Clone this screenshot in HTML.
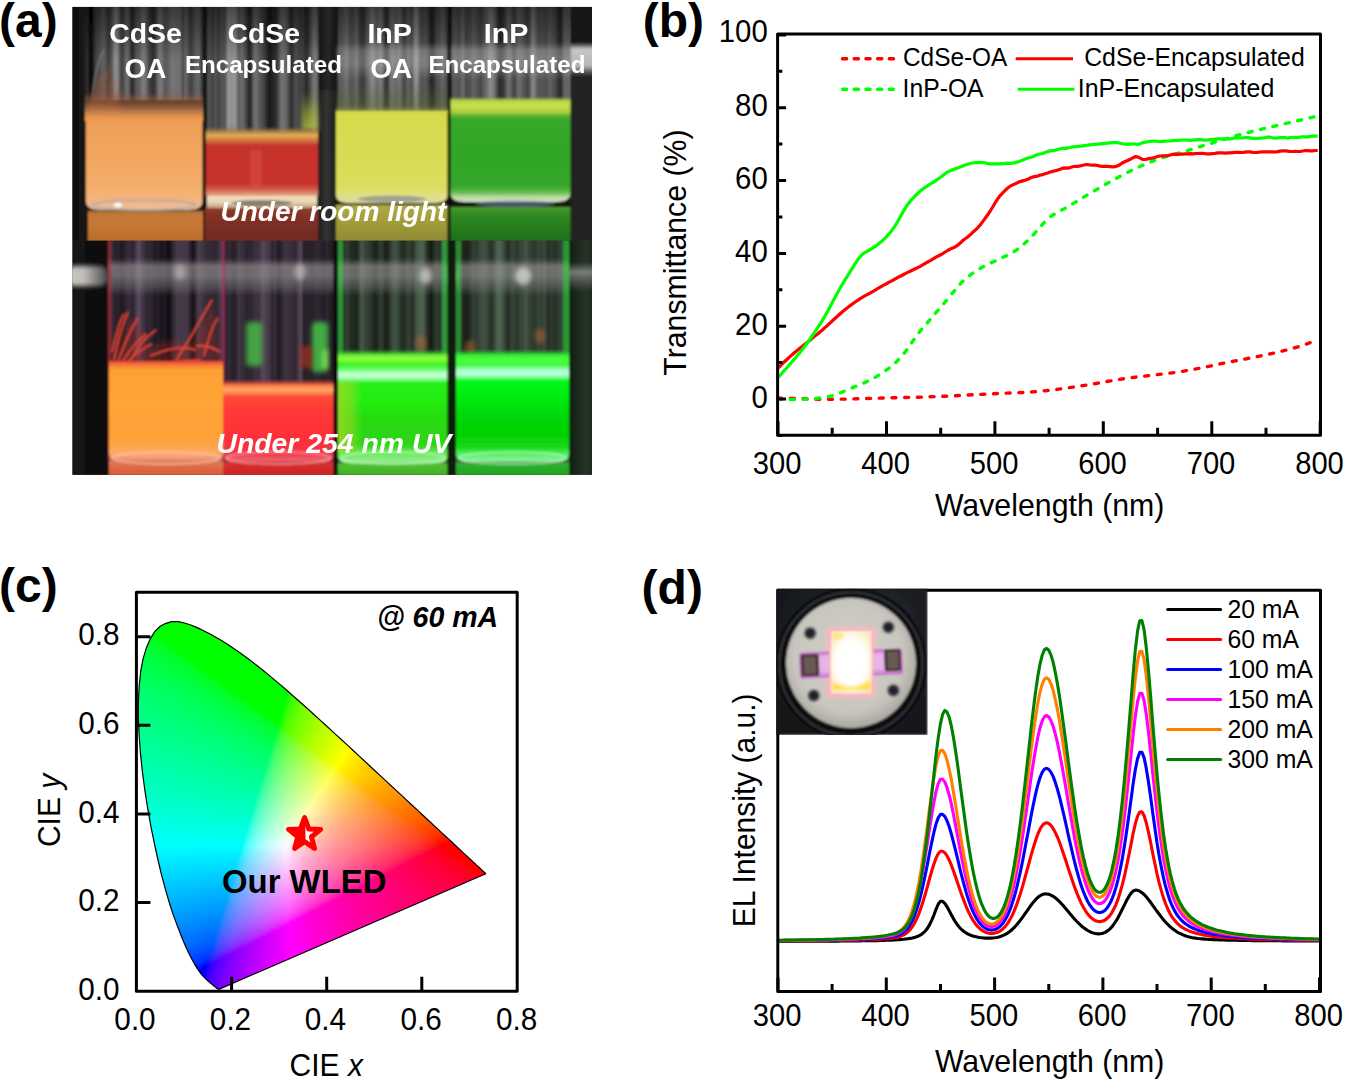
<!DOCTYPE html>
<html><head><meta charset="utf-8"><title>Figure</title>
<style>html,body{margin:0;padding:0;background:#fff;}body{width:1345px;height:1080px;overflow:hidden;font-family:"Liberation Sans",sans-serif;}svg{display:block;}</style>
</head><body>
<svg width="1345" height="1080" viewBox="0 0 1345 1080">
<defs><linearGradient id="c0" gradientUnits="userSpaceOnUse" x1="137" x2="487"><stop offset="0.000" stop-color="#00ff08"/><stop offset="0.006" stop-color="#00ff00"/><stop offset="0.494" stop-color="#00ff00"/><stop offset="0.500" stop-color="#1dff00"/><stop offset="0.509" stop-color="#32ff00"/><stop offset="0.540" stop-color="#5cff00"/><stop offset="0.594" stop-color="#87ff00"/><stop offset="0.677" stop-color="#b7ff00"/><stop offset="0.837" stop-color="#feff00"/><stop offset="1.000" stop-color="#ffcb00"/></linearGradient>
<linearGradient id="c1" gradientUnits="userSpaceOnUse" x1="137" x2="487"><stop offset="0.000" stop-color="#00ff16"/><stop offset="0.017" stop-color="#00ff00"/><stop offset="0.491" stop-color="#00ff00"/><stop offset="0.497" stop-color="#1dff00"/><stop offset="0.506" stop-color="#32ff00"/><stop offset="0.540" stop-color="#5fff00"/><stop offset="0.597" stop-color="#8bff00"/><stop offset="0.680" stop-color="#baff00"/><stop offset="0.834" stop-color="#fffe00"/><stop offset="1.000" stop-color="#ffc900"/></linearGradient>
<linearGradient id="c2" gradientUnits="userSpaceOnUse" x1="137" x2="487"><stop offset="0.000" stop-color="#00ff1f"/><stop offset="0.029" stop-color="#00ff00"/><stop offset="0.489" stop-color="#00ff00"/><stop offset="0.494" stop-color="#1cff00"/><stop offset="0.503" stop-color="#32ff00"/><stop offset="0.537" stop-color="#5fff00"/><stop offset="0.597" stop-color="#8eff00"/><stop offset="0.683" stop-color="#beff00"/><stop offset="0.829" stop-color="#ffff00"/><stop offset="1.000" stop-color="#ffc700"/></linearGradient>
<linearGradient id="c3" gradientUnits="userSpaceOnUse" x1="137" x2="487"><stop offset="0.000" stop-color="#00ff26"/><stop offset="0.023" stop-color="#00ff17"/><stop offset="0.043" stop-color="#00ff00"/><stop offset="0.486" stop-color="#00ff00"/><stop offset="0.494" stop-color="#24ff00"/><stop offset="0.503" stop-color="#37ff00"/><stop offset="0.537" stop-color="#62ff00"/><stop offset="0.597" stop-color="#90ff00"/><stop offset="0.686" stop-color="#c1ff00"/><stop offset="0.823" stop-color="#ffff00"/><stop offset="1.000" stop-color="#ffc500"/></linearGradient>
<linearGradient id="c4" gradientUnits="userSpaceOnUse" x1="137" x2="487"><stop offset="0.000" stop-color="#00ff2c"/><stop offset="0.031" stop-color="#00ff19"/><stop offset="0.054" stop-color="#00ff00"/><stop offset="0.483" stop-color="#00ff00"/><stop offset="0.491" stop-color="#23ff00"/><stop offset="0.500" stop-color="#37ff00"/><stop offset="0.537" stop-color="#65ff00"/><stop offset="0.600" stop-color="#94ff00"/><stop offset="0.691" stop-color="#c6ff00"/><stop offset="0.817" stop-color="#ffff00"/><stop offset="1.000" stop-color="#ffc300"/></linearGradient>
<linearGradient id="c5" gradientUnits="userSpaceOnUse" x1="137" x2="487"><stop offset="0.000" stop-color="#00ff31"/><stop offset="0.040" stop-color="#00ff1c"/><stop offset="0.066" stop-color="#00ff00"/><stop offset="0.480" stop-color="#00ff00"/><stop offset="0.489" stop-color="#22ff00"/><stop offset="0.497" stop-color="#36ff00"/><stop offset="0.534" stop-color="#65ff00"/><stop offset="0.600" stop-color="#96ff00"/><stop offset="0.694" stop-color="#caff00"/><stop offset="0.811" stop-color="#ffff00"/><stop offset="1.000" stop-color="#ffc100"/></linearGradient>
<linearGradient id="c6" gradientUnits="userSpaceOnUse" x1="137" x2="487"><stop offset="0.000" stop-color="#00ff36"/><stop offset="0.049" stop-color="#00ff1e"/><stop offset="0.077" stop-color="#00ff00"/><stop offset="0.477" stop-color="#00ff00"/><stop offset="0.486" stop-color="#22ff00"/><stop offset="0.494" stop-color="#36ff00"/><stop offset="0.534" stop-color="#68ff00"/><stop offset="0.600" stop-color="#99ff00"/><stop offset="0.700" stop-color="#cfff00"/><stop offset="0.806" stop-color="#ffff00"/><stop offset="1.000" stop-color="#ffc000"/></linearGradient>
<linearGradient id="c7" gradientUnits="userSpaceOnUse" x1="137" x2="487"><stop offset="0.000" stop-color="#00ff3a"/><stop offset="0.057" stop-color="#00ff21"/><stop offset="0.089" stop-color="#00ff00"/><stop offset="0.474" stop-color="#00ff00"/><stop offset="0.477" stop-color="#04ff00"/><stop offset="0.483" stop-color="#21ff00"/><stop offset="0.494" stop-color="#3bff00"/><stop offset="0.531" stop-color="#68ff00"/><stop offset="0.600" stop-color="#9bff00"/><stop offset="0.703" stop-color="#d2ff00"/><stop offset="0.800" stop-color="#ffff00"/><stop offset="1.000" stop-color="#ffbe00"/></linearGradient>
<linearGradient id="c8" gradientUnits="userSpaceOnUse" x1="137" x2="487"><stop offset="0.000" stop-color="#00ff3f"/><stop offset="0.066" stop-color="#00ff23"/><stop offset="0.100" stop-color="#00ff00"/><stop offset="0.471" stop-color="#00ff00"/><stop offset="0.474" stop-color="#02ff00"/><stop offset="0.480" stop-color="#20ff00"/><stop offset="0.491" stop-color="#3bff00"/><stop offset="0.531" stop-color="#6bff00"/><stop offset="0.603" stop-color="#9fff00"/><stop offset="0.709" stop-color="#d8ff00"/><stop offset="0.794" stop-color="#ffff00"/><stop offset="1.000" stop-color="#ffbc00"/></linearGradient>
<linearGradient id="c9" gradientUnits="userSpaceOnUse" x1="137" x2="487"><stop offset="0.000" stop-color="#00ff43"/><stop offset="0.074" stop-color="#00ff25"/><stop offset="0.094" stop-color="#00ff16"/><stop offset="0.111" stop-color="#00ff00"/><stop offset="0.471" stop-color="#00ff00"/><stop offset="0.477" stop-color="#1fff00"/><stop offset="0.489" stop-color="#3aff00"/><stop offset="0.529" stop-color="#6bff00"/><stop offset="0.600" stop-color="#a0ff00"/><stop offset="0.711" stop-color="#dbff00"/><stop offset="0.789" stop-color="#ffff00"/><stop offset="0.883" stop-color="#ffdb00"/><stop offset="1.000" stop-color="#ffba00"/></linearGradient>
<linearGradient id="c10" gradientUnits="userSpaceOnUse" x1="137" x2="487"><stop offset="0.000" stop-color="#00ff46"/><stop offset="0.083" stop-color="#00ff27"/><stop offset="0.106" stop-color="#00ff17"/><stop offset="0.123" stop-color="#00ff00"/><stop offset="0.469" stop-color="#00ff00"/><stop offset="0.474" stop-color="#1fff00"/><stop offset="0.486" stop-color="#3aff00"/><stop offset="0.529" stop-color="#6eff00"/><stop offset="0.606" stop-color="#a5ff00"/><stop offset="0.720" stop-color="#e2ff00"/><stop offset="0.783" stop-color="#ffff00"/><stop offset="0.880" stop-color="#ffda00"/><stop offset="1.000" stop-color="#ffb800"/></linearGradient>
<linearGradient id="c11" gradientUnits="userSpaceOnUse" x1="137" x2="487"><stop offset="0.000" stop-color="#00ff4a"/><stop offset="0.091" stop-color="#00ff29"/><stop offset="0.117" stop-color="#00ff17"/><stop offset="0.134" stop-color="#00ff00"/><stop offset="0.466" stop-color="#00ff00"/><stop offset="0.471" stop-color="#1eff00"/><stop offset="0.483" stop-color="#3aff00"/><stop offset="0.529" stop-color="#71ff00"/><stop offset="0.609" stop-color="#a9ff00"/><stop offset="0.729" stop-color="#e8ff00"/><stop offset="0.777" stop-color="#ffff00"/><stop offset="0.877" stop-color="#ffd900"/><stop offset="1.000" stop-color="#ffb600"/></linearGradient>
<linearGradient id="c12" gradientUnits="userSpaceOnUse" x1="137" x2="487"><stop offset="0.000" stop-color="#00ff4d"/><stop offset="0.100" stop-color="#00ff2b"/><stop offset="0.129" stop-color="#00ff17"/><stop offset="0.146" stop-color="#00ff00"/><stop offset="0.463" stop-color="#00ff00"/><stop offset="0.471" stop-color="#26ff00"/><stop offset="0.483" stop-color="#3fff00"/><stop offset="0.529" stop-color="#74ff00"/><stop offset="0.611" stop-color="#adff00"/><stop offset="0.737" stop-color="#efff00"/><stop offset="0.774" stop-color="#fffe00"/><stop offset="0.874" stop-color="#ffd700"/><stop offset="1.000" stop-color="#ffb500"/></linearGradient>
<linearGradient id="c13" gradientUnits="userSpaceOnUse" x1="137" x2="487"><stop offset="0.000" stop-color="#00ff51"/><stop offset="0.109" stop-color="#00ff2d"/><stop offset="0.137" stop-color="#00ff1a"/><stop offset="0.157" stop-color="#00ff00"/><stop offset="0.460" stop-color="#00ff00"/><stop offset="0.469" stop-color="#25ff00"/><stop offset="0.480" stop-color="#3eff00"/><stop offset="0.529" stop-color="#76ff00"/><stop offset="0.614" stop-color="#b1ff00"/><stop offset="0.751" stop-color="#f8ff00"/><stop offset="0.769" stop-color="#fffe00"/><stop offset="0.871" stop-color="#ffd600"/><stop offset="1.000" stop-color="#ffb300"/></linearGradient>
<linearGradient id="c14" gradientUnits="userSpaceOnUse" x1="137" x2="487"><stop offset="0.000" stop-color="#00ff54"/><stop offset="0.117" stop-color="#00ff2f"/><stop offset="0.149" stop-color="#00ff1b"/><stop offset="0.169" stop-color="#00ff00"/><stop offset="0.457" stop-color="#00ff00"/><stop offset="0.466" stop-color="#25ff00"/><stop offset="0.477" stop-color="#3eff00"/><stop offset="0.497" stop-color="#5aff00"/><stop offset="0.529" stop-color="#79ff00"/><stop offset="0.617" stop-color="#b5ff00"/><stop offset="0.760" stop-color="#ffff00"/><stop offset="0.866" stop-color="#ffd600"/><stop offset="1.000" stop-color="#ffb100"/></linearGradient>
<linearGradient id="c15" gradientUnits="userSpaceOnUse" x1="137" x2="487"><stop offset="0.000" stop-color="#00ff57"/><stop offset="0.129" stop-color="#00ff2f"/><stop offset="0.160" stop-color="#00ff1b"/><stop offset="0.180" stop-color="#00ff00"/><stop offset="0.454" stop-color="#00ff00"/><stop offset="0.463" stop-color="#24ff00"/><stop offset="0.477" stop-color="#43ff00"/><stop offset="0.526" stop-color="#79ff00"/><stop offset="0.614" stop-color="#b6ff00"/><stop offset="0.754" stop-color="#ffff00"/><stop offset="0.863" stop-color="#ffd500"/><stop offset="1.000" stop-color="#ffaf00"/></linearGradient>
<linearGradient id="c16" gradientUnits="userSpaceOnUse" x1="137" x2="487"><stop offset="0.000" stop-color="#00ff5a"/><stop offset="0.137" stop-color="#00ff31"/><stop offset="0.171" stop-color="#00ff1c"/><stop offset="0.191" stop-color="#00ff00"/><stop offset="0.451" stop-color="#00ff00"/><stop offset="0.454" stop-color="#05ff00"/><stop offset="0.460" stop-color="#23ff00"/><stop offset="0.474" stop-color="#43ff00"/><stop offset="0.523" stop-color="#7aff00"/><stop offset="0.611" stop-color="#b7ff00"/><stop offset="0.749" stop-color="#ffff00"/><stop offset="0.860" stop-color="#ffd300"/><stop offset="1.000" stop-color="#ffad00"/></linearGradient>
<linearGradient id="c17" gradientUnits="userSpaceOnUse" x1="137" x2="487"><stop offset="0.000" stop-color="#00ff5d"/><stop offset="0.146" stop-color="#00ff33"/><stop offset="0.183" stop-color="#00ff1c"/><stop offset="0.203" stop-color="#00ff00"/><stop offset="0.449" stop-color="#00ff00"/><stop offset="0.451" stop-color="#03ff00"/><stop offset="0.454" stop-color="#17ff00"/><stop offset="0.460" stop-color="#2bff00"/><stop offset="0.471" stop-color="#43ff00"/><stop offset="0.520" stop-color="#7aff00"/><stop offset="0.606" stop-color="#b6ff00"/><stop offset="0.743" stop-color="#feff00"/><stop offset="0.857" stop-color="#ffd200"/><stop offset="1.000" stop-color="#ffab00"/></linearGradient>
<linearGradient id="c18" gradientUnits="userSpaceOnUse" x1="137" x2="487"><stop offset="0.000" stop-color="#00ff60"/><stop offset="0.154" stop-color="#00ff35"/><stop offset="0.194" stop-color="#00ff1d"/><stop offset="0.214" stop-color="#00ff00"/><stop offset="0.449" stop-color="#00ff00"/><stop offset="0.454" stop-color="#22ff00"/><stop offset="0.466" stop-color="#3dff00"/><stop offset="0.486" stop-color="#5bff00"/><stop offset="0.517" stop-color="#7aff00"/><stop offset="0.603" stop-color="#b7ff00"/><stop offset="0.737" stop-color="#feff00"/><stop offset="0.854" stop-color="#ffd100"/><stop offset="1.000" stop-color="#ffa900"/></linearGradient>
<linearGradient id="c19" gradientUnits="userSpaceOnUse" x1="137" x2="487"><stop offset="0.000" stop-color="#00ff63"/><stop offset="0.163" stop-color="#00ff37"/><stop offset="0.206" stop-color="#00ff1d"/><stop offset="0.226" stop-color="#00ff00"/><stop offset="0.446" stop-color="#00ff00"/><stop offset="0.451" stop-color="#21ff00"/><stop offset="0.463" stop-color="#3dff00"/><stop offset="0.483" stop-color="#5bff00"/><stop offset="0.511" stop-color="#78ff00"/><stop offset="0.597" stop-color="#b6ff00"/><stop offset="0.731" stop-color="#feff00"/><stop offset="0.851" stop-color="#ffd000"/><stop offset="1.000" stop-color="#ffa700"/></linearGradient>
<linearGradient id="c20" gradientUnits="userSpaceOnUse" x1="137" x2="487"><stop offset="0.000" stop-color="#00ff66"/><stop offset="0.171" stop-color="#00ff39"/><stop offset="0.214" stop-color="#00ff20"/><stop offset="0.237" stop-color="#00ff00"/><stop offset="0.443" stop-color="#00ff00"/><stop offset="0.449" stop-color="#20ff00"/><stop offset="0.460" stop-color="#3dff00"/><stop offset="0.480" stop-color="#5bff00"/><stop offset="0.509" stop-color="#79ff00"/><stop offset="0.591" stop-color="#b5ff00"/><stop offset="0.726" stop-color="#feff00"/><stop offset="0.846" stop-color="#ffcf00"/><stop offset="1.000" stop-color="#ffa500"/></linearGradient>
<linearGradient id="c21" gradientUnits="userSpaceOnUse" x1="137" x2="487"><stop offset="0.000" stop-color="#00ff69"/><stop offset="0.106" stop-color="#00ff53"/><stop offset="0.180" stop-color="#00ff3a"/><stop offset="0.226" stop-color="#00ff20"/><stop offset="0.249" stop-color="#00ff00"/><stop offset="0.440" stop-color="#00ff00"/><stop offset="0.449" stop-color="#28ff00"/><stop offset="0.460" stop-color="#42ff00"/><stop offset="0.506" stop-color="#79ff00"/><stop offset="0.589" stop-color="#b6ff00"/><stop offset="0.720" stop-color="#feff00"/><stop offset="0.843" stop-color="#ffce00"/><stop offset="1.000" stop-color="#ffa300"/></linearGradient>
<linearGradient id="c22" gradientUnits="userSpaceOnUse" x1="137" x2="487"><stop offset="0.000" stop-color="#00ff6b"/><stop offset="0.109" stop-color="#00ff55"/><stop offset="0.189" stop-color="#00ff3c"/><stop offset="0.237" stop-color="#00ff21"/><stop offset="0.260" stop-color="#00ff00"/><stop offset="0.437" stop-color="#00ff00"/><stop offset="0.446" stop-color="#28ff00"/><stop offset="0.457" stop-color="#42ff00"/><stop offset="0.503" stop-color="#79ff00"/><stop offset="0.586" stop-color="#b6ff00"/><stop offset="0.714" stop-color="#feff00"/><stop offset="0.840" stop-color="#ffcd00"/><stop offset="1.000" stop-color="#ffa100"/></linearGradient>
<linearGradient id="c23" gradientUnits="userSpaceOnUse" x1="137" x2="487"><stop offset="0.000" stop-color="#00ff6e"/><stop offset="0.114" stop-color="#00ff58"/><stop offset="0.197" stop-color="#00ff3e"/><stop offset="0.246" stop-color="#00ff24"/><stop offset="0.274" stop-color="#00ff00"/><stop offset="0.434" stop-color="#00ff00"/><stop offset="0.443" stop-color="#27ff00"/><stop offset="0.454" stop-color="#42ff00"/><stop offset="0.500" stop-color="#7aff00"/><stop offset="0.580" stop-color="#b6ff00"/><stop offset="0.709" stop-color="#feff00"/><stop offset="0.837" stop-color="#ffcb00"/><stop offset="1.000" stop-color="#ff9f00"/></linearGradient>
<linearGradient id="c24" gradientUnits="userSpaceOnUse" x1="137" x2="487"><stop offset="0.000" stop-color="#00ff71"/><stop offset="0.120" stop-color="#00ff5a"/><stop offset="0.206" stop-color="#00ff40"/><stop offset="0.257" stop-color="#00ff24"/><stop offset="0.286" stop-color="#00ff00"/><stop offset="0.431" stop-color="#00ff00"/><stop offset="0.440" stop-color="#26ff00"/><stop offset="0.451" stop-color="#41ff00"/><stop offset="0.497" stop-color="#7aff00"/><stop offset="0.577" stop-color="#b6ff00"/><stop offset="0.703" stop-color="#feff00"/><stop offset="0.834" stop-color="#ffca00"/><stop offset="1.000" stop-color="#ff9d00"/></linearGradient>
<linearGradient id="c25" gradientUnits="userSpaceOnUse" x1="137" x2="487"><stop offset="0.000" stop-color="#00ff73"/><stop offset="0.126" stop-color="#00ff5c"/><stop offset="0.214" stop-color="#00ff42"/><stop offset="0.269" stop-color="#00ff25"/><stop offset="0.297" stop-color="#00ff00"/><stop offset="0.429" stop-color="#00ff00"/><stop offset="0.431" stop-color="#07ff00"/><stop offset="0.437" stop-color="#26ff00"/><stop offset="0.449" stop-color="#41ff00"/><stop offset="0.494" stop-color="#7aff00"/><stop offset="0.574" stop-color="#b7ff00"/><stop offset="0.697" stop-color="#feff00"/><stop offset="0.829" stop-color="#ffca00"/><stop offset="1.000" stop-color="#ff9b00"/></linearGradient>
<linearGradient id="c26" gradientUnits="userSpaceOnUse" x1="137" x2="487"><stop offset="0.000" stop-color="#00ff76"/><stop offset="0.129" stop-color="#00ff5f"/><stop offset="0.223" stop-color="#00ff44"/><stop offset="0.280" stop-color="#00ff25"/><stop offset="0.309" stop-color="#00ff00"/><stop offset="0.426" stop-color="#00ff00"/><stop offset="0.429" stop-color="#04ff00"/><stop offset="0.434" stop-color="#25ff00"/><stop offset="0.446" stop-color="#41ff00"/><stop offset="0.491" stop-color="#7bff00"/><stop offset="0.571" stop-color="#b8ff00"/><stop offset="0.694" stop-color="#ffff00"/><stop offset="0.823" stop-color="#ffc900"/><stop offset="1.000" stop-color="#ff9900"/></linearGradient>
<linearGradient id="c27" gradientUnits="userSpaceOnUse" x1="137" x2="487"><stop offset="0.000" stop-color="#00ff79"/><stop offset="0.134" stop-color="#00ff61"/><stop offset="0.231" stop-color="#00ff45"/><stop offset="0.291" stop-color="#00ff26"/><stop offset="0.320" stop-color="#00ff00"/><stop offset="0.423" stop-color="#00ff00"/><stop offset="0.426" stop-color="#01ff00"/><stop offset="0.429" stop-color="#18ff00"/><stop offset="0.431" stop-color="#24ff00"/><stop offset="0.443" stop-color="#41ff00"/><stop offset="0.489" stop-color="#7bff00"/><stop offset="0.566" stop-color="#b7ff00"/><stop offset="0.689" stop-color="#ffff00"/><stop offset="0.820" stop-color="#ffc800"/><stop offset="1.000" stop-color="#ff9700"/></linearGradient>
<linearGradient id="c28" gradientUnits="userSpaceOnUse" x1="137" x2="487"><stop offset="0.000" stop-color="#00ff7b"/><stop offset="0.140" stop-color="#00ff63"/><stop offset="0.240" stop-color="#00ff47"/><stop offset="0.303" stop-color="#00ff26"/><stop offset="0.317" stop-color="#00ff18"/><stop offset="0.331" stop-color="#00ff00"/><stop offset="0.423" stop-color="#00ff00"/><stop offset="0.429" stop-color="#23ff00"/><stop offset="0.440" stop-color="#41ff00"/><stop offset="0.483" stop-color="#79ff00"/><stop offset="0.560" stop-color="#b6ff00"/><stop offset="0.683" stop-color="#ffff00"/><stop offset="0.814" stop-color="#ffc700"/><stop offset="1.000" stop-color="#ff9500"/></linearGradient>
<linearGradient id="c29" gradientUnits="userSpaceOnUse" x1="137" x2="487"><stop offset="0.000" stop-color="#00ff7e"/><stop offset="0.146" stop-color="#00ff65"/><stop offset="0.249" stop-color="#00ff49"/><stop offset="0.311" stop-color="#00ff29"/><stop offset="0.329" stop-color="#00ff19"/><stop offset="0.343" stop-color="#00ff00"/><stop offset="0.420" stop-color="#00ff00"/><stop offset="0.426" stop-color="#22ff00"/><stop offset="0.437" stop-color="#40ff00"/><stop offset="0.480" stop-color="#79ff00"/><stop offset="0.557" stop-color="#b7ff00"/><stop offset="0.677" stop-color="#ffff00"/><stop offset="0.811" stop-color="#ffc600"/><stop offset="1.000" stop-color="#ff9300"/></linearGradient>
<linearGradient id="c30" gradientUnits="userSpaceOnUse" x1="137" x2="487"><stop offset="0.000" stop-color="#00ff80"/><stop offset="0.234" stop-color="#00ff52"/><stop offset="0.317" stop-color="#00ff2e"/><stop offset="0.340" stop-color="#00ff19"/><stop offset="0.354" stop-color="#00ff00"/><stop offset="0.417" stop-color="#00ff00"/><stop offset="0.423" stop-color="#21ff00"/><stop offset="0.434" stop-color="#40ff00"/><stop offset="0.477" stop-color="#7aff00"/><stop offset="0.551" stop-color="#b6ff00"/><stop offset="0.671" stop-color="#ffff00"/><stop offset="0.809" stop-color="#ffc400"/><stop offset="1.000" stop-color="#ff9100"/></linearGradient>
<linearGradient id="c31" gradientUnits="userSpaceOnUse" x1="137" x2="487"><stop offset="0.000" stop-color="#00ff83"/><stop offset="0.143" stop-color="#00ff6c"/><stop offset="0.249" stop-color="#00ff52"/><stop offset="0.331" stop-color="#00ff2d"/><stop offset="0.351" stop-color="#00ff1a"/><stop offset="0.366" stop-color="#00ff00"/><stop offset="0.414" stop-color="#00ff00"/><stop offset="0.420" stop-color="#20ff00"/><stop offset="0.431" stop-color="#40ff00"/><stop offset="0.474" stop-color="#7aff00"/><stop offset="0.549" stop-color="#b7ff00"/><stop offset="0.666" stop-color="#ffff00"/><stop offset="0.803" stop-color="#ffc400"/><stop offset="1.000" stop-color="#ff8f00"/></linearGradient>
<linearGradient id="c32" gradientUnits="userSpaceOnUse" x1="137" x2="487"><stop offset="0.000" stop-color="#00ff85"/><stop offset="0.151" stop-color="#00ff6e"/><stop offset="0.263" stop-color="#00ff52"/><stop offset="0.343" stop-color="#00ff2d"/><stop offset="0.363" stop-color="#00ff1b"/><stop offset="0.377" stop-color="#00ff00"/><stop offset="0.411" stop-color="#00ff00"/><stop offset="0.420" stop-color="#2aff00"/><stop offset="0.429" stop-color="#40ff00"/><stop offset="0.446" stop-color="#5cff00"/><stop offset="0.471" stop-color="#7aff00"/><stop offset="0.546" stop-color="#b8ff00"/><stop offset="0.660" stop-color="#ffff00"/><stop offset="0.800" stop-color="#ffc300"/><stop offset="1.000" stop-color="#ff8d00"/></linearGradient>
<linearGradient id="c33" gradientUnits="userSpaceOnUse" x1="137" x2="487"><stop offset="0.000" stop-color="#00ff88"/><stop offset="0.160" stop-color="#00ff70"/><stop offset="0.277" stop-color="#00ff52"/><stop offset="0.354" stop-color="#00ff2e"/><stop offset="0.374" stop-color="#00ff1b"/><stop offset="0.389" stop-color="#00ff00"/><stop offset="0.409" stop-color="#00ff00"/><stop offset="0.417" stop-color="#29ff00"/><stop offset="0.426" stop-color="#3fff00"/><stop offset="0.443" stop-color="#5cff00"/><stop offset="0.469" stop-color="#7bff00"/><stop offset="0.540" stop-color="#b6ff00"/><stop offset="0.654" stop-color="#ffff00"/><stop offset="0.797" stop-color="#ffc100"/><stop offset="1.000" stop-color="#ff8b00"/></linearGradient>
<linearGradient id="c34" gradientUnits="userSpaceOnUse" x1="137" x2="487"><stop offset="0.000" stop-color="#00ff8a"/><stop offset="0.169" stop-color="#00ff71"/><stop offset="0.291" stop-color="#00ff52"/><stop offset="0.366" stop-color="#00ff2f"/><stop offset="0.386" stop-color="#00ff1c"/><stop offset="0.400" stop-color="#00ff00"/><stop offset="0.406" stop-color="#00ff00"/><stop offset="0.414" stop-color="#28ff00"/><stop offset="0.423" stop-color="#3fff00"/><stop offset="0.440" stop-color="#5dff00"/><stop offset="0.466" stop-color="#7bff00"/><stop offset="0.537" stop-color="#b7ff00"/><stop offset="0.649" stop-color="#feff00"/><stop offset="0.794" stop-color="#ffc000"/><stop offset="1.000" stop-color="#ff8900"/></linearGradient>
<linearGradient id="c35" gradientUnits="userSpaceOnUse" x1="137" x2="487"><stop offset="0.000" stop-color="#00ff8d"/><stop offset="0.160" stop-color="#00ff76"/><stop offset="0.280" stop-color="#00ff5b"/><stop offset="0.360" stop-color="#00ff3b"/><stop offset="0.386" stop-color="#00ff28"/><stop offset="0.403" stop-color="#00ff14"/><stop offset="0.406" stop-color="#06ff0e"/><stop offset="0.411" stop-color="#28ff00"/><stop offset="0.423" stop-color="#45ff00"/><stop offset="0.463" stop-color="#7cff00"/><stop offset="0.534" stop-color="#b8ff00"/><stop offset="0.643" stop-color="#feff00"/><stop offset="0.789" stop-color="#ffbf00"/><stop offset="1.000" stop-color="#ff8600"/></linearGradient>
<linearGradient id="c36" gradientUnits="userSpaceOnUse" x1="137" x2="487"><stop offset="0.000" stop-color="#00ff90"/><stop offset="0.266" stop-color="#00ff63"/><stop offset="0.349" stop-color="#00ff47"/><stop offset="0.400" stop-color="#00ff27"/><stop offset="0.403" stop-color="#03ff24"/><stop offset="0.406" stop-color="#1aff21"/><stop offset="0.409" stop-color="#27ff1d"/><stop offset="0.417" stop-color="#3fff0f"/><stop offset="0.423" stop-color="#4aff00"/><stop offset="0.457" stop-color="#79ff00"/><stop offset="0.526" stop-color="#b5ff00"/><stop offset="0.637" stop-color="#feff00"/><stop offset="0.786" stop-color="#ffbd00"/><stop offset="1.000" stop-color="#ff8400"/></linearGradient>
<linearGradient id="c37" gradientUnits="userSpaceOnUse" x1="137" x2="487"><stop offset="0.000" stop-color="#00ff92"/><stop offset="0.260" stop-color="#00ff68"/><stop offset="0.343" stop-color="#00ff4f"/><stop offset="0.400" stop-color="#00ff31"/><stop offset="0.403" stop-color="#19ff2f"/><stop offset="0.406" stop-color="#26ff2c"/><stop offset="0.414" stop-color="#3eff24"/><stop offset="0.426" stop-color="#54ff15"/><stop offset="0.434" stop-color="#61ff00"/><stop offset="0.454" stop-color="#7aff00"/><stop offset="0.523" stop-color="#b6ff00"/><stop offset="0.631" stop-color="#feff00"/><stop offset="0.780" stop-color="#ffbd00"/><stop offset="1.000" stop-color="#ff8200"/></linearGradient>
<linearGradient id="c38" gradientUnits="userSpaceOnUse" x1="137" x2="487"><stop offset="0.000" stop-color="#00ff95"/><stop offset="0.251" stop-color="#00ff6e"/><stop offset="0.337" stop-color="#00ff56"/><stop offset="0.397" stop-color="#00ff3b"/><stop offset="0.403" stop-color="#25ff38"/><stop offset="0.411" stop-color="#3eff32"/><stop offset="0.434" stop-color="#65ff1a"/><stop offset="0.446" stop-color="#73ff00"/><stop offset="0.451" stop-color="#7aff00"/><stop offset="0.520" stop-color="#b7ff00"/><stop offset="0.626" stop-color="#feff00"/><stop offset="0.777" stop-color="#ffbb00"/><stop offset="1.000" stop-color="#ff8000"/></linearGradient>
<linearGradient id="c39" gradientUnits="userSpaceOnUse" x1="137" x2="487"><stop offset="0.000" stop-color="#00ff97"/><stop offset="0.246" stop-color="#00ff73"/><stop offset="0.331" stop-color="#00ff5d"/><stop offset="0.394" stop-color="#00ff44"/><stop offset="0.400" stop-color="#24ff41"/><stop offset="0.409" stop-color="#3eff3c"/><stop offset="0.426" stop-color="#5dff30"/><stop offset="0.449" stop-color="#7aff16"/><stop offset="0.457" stop-color="#84ff00"/><stop offset="0.523" stop-color="#bcff00"/><stop offset="0.620" stop-color="#feff00"/><stop offset="0.774" stop-color="#ffba00"/><stop offset="1.000" stop-color="#ff7d00"/></linearGradient>
<linearGradient id="c40" gradientUnits="userSpaceOnUse" x1="137" x2="487"><stop offset="0.000" stop-color="#00ff9a"/><stop offset="0.240" stop-color="#00ff78"/><stop offset="0.391" stop-color="#00ff4c"/><stop offset="0.397" stop-color="#23ff4a"/><stop offset="0.406" stop-color="#3eff45"/><stop offset="0.423" stop-color="#5dff3b"/><stop offset="0.446" stop-color="#7bff2a"/><stop offset="0.460" stop-color="#8aff17"/><stop offset="0.469" stop-color="#92ff00"/><stop offset="0.529" stop-color="#c4ff00"/><stop offset="0.614" stop-color="#feff00"/><stop offset="0.769" stop-color="#ffb900"/><stop offset="1.000" stop-color="#ff7b00"/></linearGradient>
<linearGradient id="c41" gradientUnits="userSpaceOnUse" x1="137" x2="487"><stop offset="0.000" stop-color="#00ff9c"/><stop offset="0.234" stop-color="#00ff7d"/><stop offset="0.389" stop-color="#00ff53"/><stop offset="0.394" stop-color="#22ff51"/><stop offset="0.406" stop-color="#44ff4c"/><stop offset="0.443" stop-color="#7bff37"/><stop offset="0.469" stop-color="#96ff1d"/><stop offset="0.480" stop-color="#a0ff01"/><stop offset="0.611" stop-color="#fffe00"/><stop offset="0.680" stop-color="#ffd900"/><stop offset="0.763" stop-color="#ffb800"/><stop offset="1.000" stop-color="#ff7800"/></linearGradient>
<linearGradient id="c42" gradientUnits="userSpaceOnUse" x1="137" x2="487"><stop offset="0.000" stop-color="#00ff9f"/><stop offset="0.231" stop-color="#00ff81"/><stop offset="0.386" stop-color="#00ff5a"/><stop offset="0.394" stop-color="#2cff57"/><stop offset="0.403" stop-color="#44ff53"/><stop offset="0.440" stop-color="#7cff41"/><stop offset="0.474" stop-color="#9eff25"/><stop offset="0.494" stop-color="#b0ff00"/><stop offset="0.606" stop-color="#ffff00"/><stop offset="0.674" stop-color="#ffd900"/><stop offset="0.760" stop-color="#ffb700"/><stop offset="1.000" stop-color="#ff7600"/></linearGradient>
<linearGradient id="c43" gradientUnits="userSpaceOnUse" x1="137" x2="487"><stop offset="0.000" stop-color="#00ffa1"/><stop offset="0.229" stop-color="#00ff85"/><stop offset="0.383" stop-color="#00ff60"/><stop offset="0.391" stop-color="#2cff5d"/><stop offset="0.400" stop-color="#43ff5a"/><stop offset="0.437" stop-color="#7cff4a"/><stop offset="0.483" stop-color="#a9ff29"/><stop offset="0.506" stop-color="#bcff00"/><stop offset="0.600" stop-color="#ffff00"/><stop offset="0.669" stop-color="#ffd900"/><stop offset="0.754" stop-color="#ffb600"/><stop offset="1.000" stop-color="#ff7400"/></linearGradient>
<linearGradient id="c44" gradientUnits="userSpaceOnUse" x1="137" x2="487"><stop offset="0.000" stop-color="#00ffa4"/><stop offset="0.223" stop-color="#00ff89"/><stop offset="0.380" stop-color="#00ff66"/><stop offset="0.383" stop-color="#09ff66"/><stop offset="0.389" stop-color="#2bff64"/><stop offset="0.397" stop-color="#43ff61"/><stop offset="0.431" stop-color="#79ff53"/><stop offset="0.489" stop-color="#b2ff30"/><stop offset="0.506" stop-color="#c0ff1a"/><stop offset="0.517" stop-color="#c8ff00"/><stop offset="0.594" stop-color="#ffff00"/><stop offset="0.663" stop-color="#ffd800"/><stop offset="0.751" stop-color="#ffb400"/><stop offset="1.000" stop-color="#ff7100"/></linearGradient>
<linearGradient id="c45" gradientUnits="userSpaceOnUse" x1="137" x2="487"><stop offset="0.000" stop-color="#00ffa6"/><stop offset="0.220" stop-color="#00ff8d"/><stop offset="0.377" stop-color="#00ff6c"/><stop offset="0.380" stop-color="#05ff6b"/><stop offset="0.383" stop-color="#1dff6a"/><stop offset="0.386" stop-color="#2aff6a"/><stop offset="0.394" stop-color="#43ff67"/><stop offset="0.429" stop-color="#7aff5b"/><stop offset="0.497" stop-color="#bcff33"/><stop offset="0.514" stop-color="#caff20"/><stop offset="0.529" stop-color="#d5ff00"/><stop offset="0.589" stop-color="#ffff00"/><stop offset="0.657" stop-color="#ffd800"/><stop offset="0.746" stop-color="#ffb400"/><stop offset="1.000" stop-color="#ff6e00"/></linearGradient>
<linearGradient id="c46" gradientUnits="userSpaceOnUse" x1="137" x2="487"><stop offset="0.000" stop-color="#00ffa9"/><stop offset="0.220" stop-color="#00ff90"/><stop offset="0.377" stop-color="#01ff71"/><stop offset="0.380" stop-color="#1cff70"/><stop offset="0.383" stop-color="#29ff6f"/><stop offset="0.391" stop-color="#43ff6d"/><stop offset="0.426" stop-color="#7aff62"/><stop offset="0.506" stop-color="#c7ff37"/><stop offset="0.526" stop-color="#d6ff21"/><stop offset="0.540" stop-color="#e1ff00"/><stop offset="0.583" stop-color="#ffff00"/><stop offset="0.654" stop-color="#ffd600"/><stop offset="0.743" stop-color="#ffb200"/><stop offset="1.000" stop-color="#ff6c00"/></linearGradient>
<linearGradient id="c47" gradientUnits="userSpaceOnUse" x1="137" x2="487"><stop offset="0.000" stop-color="#00ffac"/><stop offset="0.217" stop-color="#00ff94"/><stop offset="0.374" stop-color="#00ff76"/><stop offset="0.377" stop-color="#1aff76"/><stop offset="0.380" stop-color="#28ff75"/><stop offset="0.389" stop-color="#43ff73"/><stop offset="0.423" stop-color="#7bff68"/><stop offset="0.514" stop-color="#d1ff3b"/><stop offset="0.537" stop-color="#e2ff22"/><stop offset="0.551" stop-color="#edff00"/><stop offset="0.577" stop-color="#ffff00"/><stop offset="0.649" stop-color="#ffd600"/><stop offset="0.737" stop-color="#ffb100"/><stop offset="1.000" stop-color="#ff6900"/></linearGradient>
<linearGradient id="c48" gradientUnits="userSpaceOnUse" x1="137" x2="487"><stop offset="0.000" stop-color="#00ffae"/><stop offset="0.214" stop-color="#00ff98"/><stop offset="0.371" stop-color="#00ff7c"/><stop offset="0.377" stop-color="#27ff7a"/><stop offset="0.386" stop-color="#42ff78"/><stop offset="0.420" stop-color="#7bff6e"/><stop offset="0.460" stop-color="#a6ff60"/><stop offset="0.517" stop-color="#d7ff42"/><stop offset="0.546" stop-color="#ecff27"/><stop offset="0.563" stop-color="#f9ff00"/><stop offset="0.571" stop-color="#ffff00"/><stop offset="0.643" stop-color="#ffd500"/><stop offset="0.731" stop-color="#ffb000"/><stop offset="1.000" stop-color="#ff6600"/></linearGradient>
<linearGradient id="c49" gradientUnits="userSpaceOnUse" x1="137" x2="487"><stop offset="0.000" stop-color="#00ffb1"/><stop offset="0.211" stop-color="#00ff9c"/><stop offset="0.369" stop-color="#00ff81"/><stop offset="0.374" stop-color="#26ff7f"/><stop offset="0.383" stop-color="#42ff7d"/><stop offset="0.414" stop-color="#78ff75"/><stop offset="0.454" stop-color="#a5ff69"/><stop offset="0.514" stop-color="#d8ff4d"/><stop offset="0.546" stop-color="#f0ff35"/><stop offset="0.566" stop-color="#ffff19"/><stop offset="0.574" stop-color="#fff900"/><stop offset="0.646" stop-color="#ffd000"/><stop offset="0.734" stop-color="#ffac00"/><stop offset="1.000" stop-color="#ff6300"/></linearGradient>
<linearGradient id="c50" gradientUnits="userSpaceOnUse" x1="137" x2="487"><stop offset="0.000" stop-color="#00ffb3"/><stop offset="0.209" stop-color="#00ff9f"/><stop offset="0.366" stop-color="#00ff86"/><stop offset="0.371" stop-color="#25ff85"/><stop offset="0.380" stop-color="#42ff83"/><stop offset="0.411" stop-color="#79ff7b"/><stop offset="0.449" stop-color="#a3ff70"/><stop offset="0.503" stop-color="#d3ff5b"/><stop offset="0.560" stop-color="#ffff33"/><stop offset="0.574" stop-color="#fff51e"/><stop offset="0.586" stop-color="#ffee00"/><stop offset="0.654" stop-color="#ffc900"/><stop offset="0.743" stop-color="#ffa700"/><stop offset="1.000" stop-color="#ff6100"/></linearGradient>
<linearGradient id="c51" gradientUnits="userSpaceOnUse" x1="137" x2="487"><stop offset="0.000" stop-color="#00ffb6"/><stop offset="0.206" stop-color="#00ffa3"/><stop offset="0.363" stop-color="#00ff8b"/><stop offset="0.369" stop-color="#24ff8a"/><stop offset="0.377" stop-color="#42ff88"/><stop offset="0.409" stop-color="#79ff81"/><stop offset="0.466" stop-color="#b7ff70"/><stop offset="0.554" stop-color="#ffff44"/><stop offset="0.583" stop-color="#ffec22"/><stop offset="0.597" stop-color="#ffe300"/><stop offset="0.751" stop-color="#ffa100"/><stop offset="1.000" stop-color="#ff5e00"/></linearGradient>
<linearGradient id="c52" gradientUnits="userSpaceOnUse" x1="137" x2="487"><stop offset="0.000" stop-color="#00ffb9"/><stop offset="0.206" stop-color="#00ffa6"/><stop offset="0.360" stop-color="#00ff90"/><stop offset="0.366" stop-color="#23ff8f"/><stop offset="0.374" stop-color="#41ff8d"/><stop offset="0.406" stop-color="#7aff86"/><stop offset="0.460" stop-color="#b5ff78"/><stop offset="0.549" stop-color="#feff52"/><stop offset="0.589" stop-color="#ffe529"/><stop offset="0.600" stop-color="#ffde17"/><stop offset="0.609" stop-color="#ffd900"/><stop offset="0.757" stop-color="#ff9c00"/><stop offset="1.000" stop-color="#ff5a00"/></linearGradient>
<linearGradient id="c53" gradientUnits="userSpaceOnUse" x1="137" x2="487"><stop offset="0.000" stop-color="#00ffbc"/><stop offset="0.357" stop-color="#00ff95"/><stop offset="0.360" stop-color="#0cff94"/><stop offset="0.363" stop-color="#22ff93"/><stop offset="0.371" stop-color="#41ff92"/><stop offset="0.403" stop-color="#7aff8b"/><stop offset="0.460" stop-color="#b9ff7d"/><stop offset="0.546" stop-color="#fffe5b"/><stop offset="0.597" stop-color="#ffdc2c"/><stop offset="0.611" stop-color="#ffd416"/><stop offset="0.620" stop-color="#ffd000"/><stop offset="0.766" stop-color="#ff9600"/><stop offset="1.000" stop-color="#ff5700"/></linearGradient>
<linearGradient id="c54" gradientUnits="userSpaceOnUse" x1="137" x2="487"><stop offset="0.000" stop-color="#00ffbe"/><stop offset="0.354" stop-color="#00ff99"/><stop offset="0.357" stop-color="#08ff99"/><stop offset="0.360" stop-color="#20ff98"/><stop offset="0.363" stop-color="#2eff98"/><stop offset="0.369" stop-color="#41ff97"/><stop offset="0.400" stop-color="#7bff91"/><stop offset="0.457" stop-color="#baff83"/><stop offset="0.540" stop-color="#fffe66"/><stop offset="0.606" stop-color="#ffd42e"/><stop offset="0.620" stop-color="#ffcc1b"/><stop offset="0.631" stop-color="#ffc700"/><stop offset="0.771" stop-color="#ff9200"/><stop offset="1.000" stop-color="#ff5400"/></linearGradient>
<linearGradient id="c55" gradientUnits="userSpaceOnUse" x1="137" x2="487"><stop offset="0.000" stop-color="#00ffc1"/><stop offset="0.351" stop-color="#00ff9e"/><stop offset="0.354" stop-color="#03ff9e"/><stop offset="0.357" stop-color="#1fff9d"/><stop offset="0.366" stop-color="#41ff9c"/><stop offset="0.380" stop-color="#60ff99"/><stop offset="0.397" stop-color="#7cff96"/><stop offset="0.451" stop-color="#b9ff8a"/><stop offset="0.534" stop-color="#fffe6f"/><stop offset="0.614" stop-color="#ffcc2f"/><stop offset="0.631" stop-color="#ffc31a"/><stop offset="0.643" stop-color="#ffbe00"/><stop offset="0.777" stop-color="#ff8d00"/><stop offset="1.000" stop-color="#ff5000"/></linearGradient>
<linearGradient id="c56" gradientUnits="userSpaceOnUse" x1="137" x2="487"><stop offset="0.000" stop-color="#00ffc4"/><stop offset="0.351" stop-color="#00ffa2"/><stop offset="0.354" stop-color="#1dffa2"/><stop offset="0.363" stop-color="#40ffa1"/><stop offset="0.377" stop-color="#61ff9e"/><stop offset="0.394" stop-color="#7cff9b"/><stop offset="0.449" stop-color="#baff90"/><stop offset="0.529" stop-color="#fffe78"/><stop offset="0.623" stop-color="#ffc431"/><stop offset="0.643" stop-color="#ffbb1a"/><stop offset="0.654" stop-color="#ffb600"/><stop offset="0.783" stop-color="#ff8800"/><stop offset="1.000" stop-color="#ff4d00"/></linearGradient>
<linearGradient id="c57" gradientUnits="userSpaceOnUse" x1="137" x2="487"><stop offset="0.000" stop-color="#00ffc7"/><stop offset="0.349" stop-color="#00ffa7"/><stop offset="0.351" stop-color="#1cffa7"/><stop offset="0.360" stop-color="#40ffa5"/><stop offset="0.389" stop-color="#79ffa1"/><stop offset="0.443" stop-color="#b9ff97"/><stop offset="0.523" stop-color="#fffe81"/><stop offset="0.634" stop-color="#ffbb30"/><stop offset="0.654" stop-color="#ffb219"/><stop offset="0.666" stop-color="#ffae00"/><stop offset="0.789" stop-color="#ff8300"/><stop offset="1.000" stop-color="#ff4900"/></linearGradient>
<linearGradient id="c58" gradientUnits="userSpaceOnUse" x1="137" x2="487"><stop offset="0.000" stop-color="#00ffc9"/><stop offset="0.346" stop-color="#00ffac"/><stop offset="0.351" stop-color="#2affab"/><stop offset="0.357" stop-color="#40ffaa"/><stop offset="0.386" stop-color="#79ffa6"/><stop offset="0.437" stop-color="#b7ff9d"/><stop offset="0.517" stop-color="#fffe89"/><stop offset="0.574" stop-color="#ffd661"/><stop offset="0.643" stop-color="#ffb431"/><stop offset="0.666" stop-color="#ffaa19"/><stop offset="0.677" stop-color="#ffa600"/><stop offset="1.000" stop-color="#ff4500"/></linearGradient>
<linearGradient id="c59" gradientUnits="userSpaceOnUse" x1="137" x2="487"><stop offset="0.000" stop-color="#00ffcc"/><stop offset="0.343" stop-color="#00ffb1"/><stop offset="0.349" stop-color="#29ffb0"/><stop offset="0.354" stop-color="#3fffaf"/><stop offset="0.366" stop-color="#5cffad"/><stop offset="0.383" stop-color="#7affab"/><stop offset="0.434" stop-color="#b9ffa3"/><stop offset="0.511" stop-color="#fffe91"/><stop offset="0.571" stop-color="#ffd468"/><stop offset="0.651" stop-color="#ffad32"/><stop offset="0.677" stop-color="#ffa318"/><stop offset="0.689" stop-color="#ff9e00"/><stop offset="1.000" stop-color="#ff4100"/></linearGradient>
<linearGradient id="c60" gradientUnits="userSpaceOnUse" x1="137" x2="487"><stop offset="0.000" stop-color="#00ffcf"/><stop offset="0.340" stop-color="#00ffb5"/><stop offset="0.346" stop-color="#28ffb5"/><stop offset="0.351" stop-color="#3fffb4"/><stop offset="0.363" stop-color="#5cffb2"/><stop offset="0.380" stop-color="#7affb0"/><stop offset="0.429" stop-color="#b7ffa9"/><stop offset="0.506" stop-color="#fffe99"/><stop offset="0.574" stop-color="#ffcf6a"/><stop offset="0.663" stop-color="#ffa531"/><stop offset="0.686" stop-color="#ff9c1b"/><stop offset="0.700" stop-color="#ff9700"/><stop offset="1.000" stop-color="#ff3c00"/></linearGradient>
<linearGradient id="c61" gradientUnits="userSpaceOnUse" x1="137" x2="487"><stop offset="0.000" stop-color="#00ffd2"/><stop offset="0.337" stop-color="#00ffba"/><stop offset="0.343" stop-color="#27ffb9"/><stop offset="0.349" stop-color="#3effb9"/><stop offset="0.360" stop-color="#5cffb7"/><stop offset="0.377" stop-color="#7bffb5"/><stop offset="0.426" stop-color="#b8ffae"/><stop offset="0.500" stop-color="#fffea0"/><stop offset="0.574" stop-color="#ffcb6e"/><stop offset="0.671" stop-color="#ff9e32"/><stop offset="0.697" stop-color="#ff951b"/><stop offset="0.711" stop-color="#ff9001"/><stop offset="1.000" stop-color="#ff3700"/></linearGradient>
<linearGradient id="c62" gradientUnits="userSpaceOnUse" x1="137" x2="487"><stop offset="0.000" stop-color="#00ffd5"/><stop offset="0.334" stop-color="#00ffbf"/><stop offset="0.340" stop-color="#26ffbe"/><stop offset="0.349" stop-color="#47ffbd"/><stop offset="0.374" stop-color="#7cffba"/><stop offset="0.423" stop-color="#baffb4"/><stop offset="0.494" stop-color="#ffffa7"/><stop offset="0.574" stop-color="#ffc772"/><stop offset="0.683" stop-color="#ff9631"/><stop offset="0.709" stop-color="#ff8d1a"/><stop offset="0.726" stop-color="#ff8700"/><stop offset="1.000" stop-color="#ff3200"/></linearGradient>
<linearGradient id="c63" gradientUnits="userSpaceOnUse" x1="137" x2="487"><stop offset="0.000" stop-color="#00ffd8"/><stop offset="0.331" stop-color="#00ffc3"/><stop offset="0.334" stop-color="#0bffc3"/><stop offset="0.337" stop-color="#24ffc3"/><stop offset="0.340" stop-color="#33ffc3"/><stop offset="0.346" stop-color="#47ffc2"/><stop offset="0.371" stop-color="#7cffbf"/><stop offset="0.417" stop-color="#b8ffba"/><stop offset="0.489" stop-color="#ffffae"/><stop offset="0.571" stop-color="#ffc577"/><stop offset="0.691" stop-color="#ff9033"/><stop offset="0.717" stop-color="#ff871d"/><stop offset="0.737" stop-color="#ff8000"/><stop offset="1.000" stop-color="#ff2b00"/></linearGradient>
<linearGradient id="c64" gradientUnits="userSpaceOnUse" x1="137" x2="487"><stop offset="0.000" stop-color="#00ffdb"/><stop offset="0.329" stop-color="#00ffc8"/><stop offset="0.331" stop-color="#06ffc8"/><stop offset="0.334" stop-color="#23ffc8"/><stop offset="0.343" stop-color="#47ffc7"/><stop offset="0.369" stop-color="#7dffc4"/><stop offset="0.414" stop-color="#baffbf"/><stop offset="0.483" stop-color="#ffffb6"/><stop offset="0.571" stop-color="#ffc17a"/><stop offset="0.703" stop-color="#ff8832"/><stop offset="0.731" stop-color="#ff7f1a"/><stop offset="0.749" stop-color="#ff7900"/><stop offset="1.000" stop-color="#ff2400"/></linearGradient>
<linearGradient id="c65" gradientUnits="userSpaceOnUse" x1="137" x2="487"><stop offset="0.000" stop-color="#00ffde"/><stop offset="0.329" stop-color="#01ffcd"/><stop offset="0.331" stop-color="#21ffcd"/><stop offset="0.337" stop-color="#3dffcc"/><stop offset="0.349" stop-color="#5dffcb"/><stop offset="0.363" stop-color="#79ffca"/><stop offset="0.409" stop-color="#b8ffc5"/><stop offset="0.477" stop-color="#ffffbd"/><stop offset="0.526" stop-color="#ffd898"/><stop offset="0.586" stop-color="#ffb575"/><stop offset="0.714" stop-color="#ff8131"/><stop offset="0.743" stop-color="#ff7719"/><stop offset="0.760" stop-color="#ff7200"/><stop offset="0.929" stop-color="#ff3b00"/><stop offset="1.000" stop-color="#ff1b00"/></linearGradient>
<linearGradient id="c66" gradientUnits="userSpaceOnUse" x1="137" x2="487"><stop offset="0.000" stop-color="#00ffe1"/><stop offset="0.326" stop-color="#00ffd2"/><stop offset="0.329" stop-color="#20ffd2"/><stop offset="0.334" stop-color="#3cffd1"/><stop offset="0.346" stop-color="#5dffd0"/><stop offset="0.360" stop-color="#7affcf"/><stop offset="0.403" stop-color="#b6ffcb"/><stop offset="0.471" stop-color="#ffffc3"/><stop offset="0.523" stop-color="#ffd59d"/><stop offset="0.586" stop-color="#ffb179"/><stop offset="0.726" stop-color="#ff7930"/><stop offset="0.754" stop-color="#ff7019"/><stop offset="0.771" stop-color="#ff6a00"/><stop offset="0.934" stop-color="#ff3400"/><stop offset="1.000" stop-color="#ff0d00"/></linearGradient>
<linearGradient id="c67" gradientUnits="userSpaceOnUse" x1="137" x2="487"><stop offset="0.000" stop-color="#00ffe4"/><stop offset="0.323" stop-color="#00ffd7"/><stop offset="0.326" stop-color="#1effd6"/><stop offset="0.331" stop-color="#3cffd6"/><stop offset="0.343" stop-color="#5dffd5"/><stop offset="0.357" stop-color="#7affd4"/><stop offset="0.400" stop-color="#b8ffd1"/><stop offset="0.466" stop-color="#ffffca"/><stop offset="0.517" stop-color="#ffd5a3"/><stop offset="0.583" stop-color="#ffaf7d"/><stop offset="0.734" stop-color="#ff7331"/><stop offset="0.763" stop-color="#ff691b"/><stop offset="0.783" stop-color="#ff6300"/><stop offset="0.934" stop-color="#ff2d00"/><stop offset="1.000" stop-color="#ff0000"/></linearGradient>
<linearGradient id="c68" gradientUnits="userSpaceOnUse" x1="137" x2="487"><stop offset="0.000" stop-color="#00ffe8"/><stop offset="0.320" stop-color="#00ffdc"/><stop offset="0.326" stop-color="#2effdb"/><stop offset="0.331" stop-color="#46ffdb"/><stop offset="0.354" stop-color="#7bffda"/><stop offset="0.394" stop-color="#b6ffd7"/><stop offset="0.460" stop-color="#ffffd1"/><stop offset="0.514" stop-color="#ffd2a7"/><stop offset="0.583" stop-color="#ffab80"/><stop offset="0.746" stop-color="#ff6b30"/><stop offset="0.774" stop-color="#ff611b"/><stop offset="0.794" stop-color="#ff5b00"/><stop offset="0.926" stop-color="#ff2a00"/><stop offset="0.957" stop-color="#ff1700"/><stop offset="0.977" stop-color="#ff0000"/><stop offset="1.000" stop-color="#ff0000"/></linearGradient>
<linearGradient id="c69" gradientUnits="userSpaceOnUse" x1="137" x2="487"><stop offset="0.000" stop-color="#00ffeb"/><stop offset="0.317" stop-color="#00ffe1"/><stop offset="0.323" stop-color="#2dffe0"/><stop offset="0.329" stop-color="#45ffe0"/><stop offset="0.351" stop-color="#7cffdf"/><stop offset="0.391" stop-color="#b7ffdd"/><stop offset="0.454" stop-color="#feffd8"/><stop offset="0.509" stop-color="#ffd2ad"/><stop offset="0.580" stop-color="#ffa884"/><stop offset="0.754" stop-color="#ff6431"/><stop offset="0.786" stop-color="#ff591b"/><stop offset="0.806" stop-color="#ff5300"/><stop offset="0.917" stop-color="#ff2600"/><stop offset="0.943" stop-color="#ff1500"/><stop offset="0.960" stop-color="#ff0000"/><stop offset="1.000" stop-color="#ff0000"/></linearGradient>
<linearGradient id="c70" gradientUnits="userSpaceOnUse" x1="137" x2="487"><stop offset="0.000" stop-color="#00ffee"/><stop offset="0.314" stop-color="#00ffe6"/><stop offset="0.320" stop-color="#2cffe6"/><stop offset="0.326" stop-color="#45ffe5"/><stop offset="0.349" stop-color="#7dffe4"/><stop offset="0.391" stop-color="#bdffe2"/><stop offset="0.451" stop-color="#fffddd"/><stop offset="0.506" stop-color="#ffcfb1"/><stop offset="0.577" stop-color="#ffa588"/><stop offset="0.763" stop-color="#ff5d32"/><stop offset="0.797" stop-color="#ff511a"/><stop offset="0.817" stop-color="#ff4a00"/><stop offset="0.906" stop-color="#ff2400"/><stop offset="0.943" stop-color="#ff0100"/><stop offset="1.000" stop-color="#ff0000"/></linearGradient>
<linearGradient id="c71" gradientUnits="userSpaceOnUse" x1="137" x2="487"><stop offset="0.000" stop-color="#00fff2"/><stop offset="0.311" stop-color="#00ffeb"/><stop offset="0.317" stop-color="#2bffeb"/><stop offset="0.323" stop-color="#45ffeb"/><stop offset="0.346" stop-color="#7effea"/><stop offset="0.389" stop-color="#bfffe8"/><stop offset="0.446" stop-color="#fffde3"/><stop offset="0.500" stop-color="#ffceb6"/><stop offset="0.574" stop-color="#ffa38b"/><stop offset="0.774" stop-color="#ff5431"/><stop offset="0.809" stop-color="#ff481a"/><stop offset="0.829" stop-color="#ff4000"/><stop offset="0.894" stop-color="#ff2100"/><stop offset="0.929" stop-color="#ff0000"/><stop offset="1.000" stop-color="#ff0000"/></linearGradient>
<linearGradient id="c72" gradientUnits="userSpaceOnUse" x1="137" x2="487"><stop offset="0.000" stop-color="#00fff5"/><stop offset="0.309" stop-color="#00fff0"/><stop offset="0.311" stop-color="#0ffff0"/><stop offset="0.314" stop-color="#29fff0"/><stop offset="0.320" stop-color="#44fff0"/><stop offset="0.343" stop-color="#7effef"/><stop offset="0.383" stop-color="#bdffee"/><stop offset="0.440" stop-color="#fffdea"/><stop offset="0.494" stop-color="#ffcdbc"/><stop offset="0.569" stop-color="#ffa190"/><stop offset="0.783" stop-color="#ff4c32"/><stop offset="0.820" stop-color="#ff3e1a"/><stop offset="0.840" stop-color="#ff3500"/><stop offset="0.886" stop-color="#ff1c00"/><stop offset="0.911" stop-color="#ff0000"/><stop offset="1.000" stop-color="#ff0000"/></linearGradient>
<linearGradient id="c73" gradientUnits="userSpaceOnUse" x1="137" x2="487"><stop offset="0.000" stop-color="#00fff9"/><stop offset="0.306" stop-color="#00fff6"/><stop offset="0.309" stop-color="#0afff6"/><stop offset="0.311" stop-color="#28fff6"/><stop offset="0.317" stop-color="#44fff6"/><stop offset="0.340" stop-color="#7ffff5"/><stop offset="0.380" stop-color="#bffff4"/><stop offset="0.434" stop-color="#fffdf1"/><stop offset="0.489" stop-color="#ffccc2"/><stop offset="0.560" stop-color="#ffa197"/><stop offset="0.794" stop-color="#ff4231"/><stop offset="0.831" stop-color="#ff3219"/><stop offset="0.851" stop-color="#ff2800"/><stop offset="0.877" stop-color="#ff1500"/><stop offset="0.894" stop-color="#ff0000"/><stop offset="1.000" stop-color="#ff0000"/></linearGradient>
<linearGradient id="c74" gradientUnits="userSpaceOnUse" x1="137" x2="487"><stop offset="0.000" stop-color="#00fffc"/><stop offset="0.303" stop-color="#00fffb"/><stop offset="0.306" stop-color="#04fffb"/><stop offset="0.309" stop-color="#26fffb"/><stop offset="0.314" stop-color="#44fffb"/><stop offset="0.323" stop-color="#5ffffb"/><stop offset="0.337" stop-color="#80fffb"/><stop offset="0.374" stop-color="#bdfffb"/><stop offset="0.429" stop-color="#fffdf9"/><stop offset="0.477" stop-color="#ffd0cc"/><stop offset="0.543" stop-color="#ffa6a2"/><stop offset="0.803" stop-color="#ff3832"/><stop offset="0.843" stop-color="#ff2319"/><stop offset="0.863" stop-color="#ff1300"/><stop offset="0.877" stop-color="#ff0000"/><stop offset="1.000" stop-color="#ff0000"/></linearGradient>
<linearGradient id="c75" gradientUnits="userSpaceOnUse" x1="137" x2="487"><stop offset="0.000" stop-color="#00feff"/><stop offset="0.303" stop-color="#00fdff"/><stop offset="0.306" stop-color="#24fdff"/><stop offset="0.311" stop-color="#43fdff"/><stop offset="0.331" stop-color="#7afdff"/><stop offset="0.371" stop-color="#bdfdff"/><stop offset="0.426" stop-color="#fffafc"/><stop offset="0.474" stop-color="#ffcdcf"/><stop offset="0.540" stop-color="#ffa3a5"/><stop offset="0.803" stop-color="#ff3137"/><stop offset="0.840" stop-color="#ff1a23"/><stop offset="0.860" stop-color="#ff0013"/><stop offset="0.874" stop-color="#ff0000"/><stop offset="1.000" stop-color="#ff0000"/></linearGradient>
<linearGradient id="c76" gradientUnits="userSpaceOnUse" x1="137" x2="487"><stop offset="0.000" stop-color="#00fbff"/><stop offset="0.300" stop-color="#00f8ff"/><stop offset="0.303" stop-color="#21f8ff"/><stop offset="0.309" stop-color="#41f8ff"/><stop offset="0.317" stop-color="#5df7ff"/><stop offset="0.331" stop-color="#7ef7ff"/><stop offset="0.371" stop-color="#bef7ff"/><stop offset="0.426" stop-color="#fff4fd"/><stop offset="0.480" stop-color="#ffc3cc"/><stop offset="0.551" stop-color="#ff98a1"/><stop offset="0.786" stop-color="#ff3242"/><stop offset="0.823" stop-color="#ff1a32"/><stop offset="0.843" stop-color="#ff0128"/><stop offset="0.869" stop-color="#ff0016"/><stop offset="0.886" stop-color="#ff0000"/><stop offset="1.000" stop-color="#ff0000"/></linearGradient>
<linearGradient id="c77" gradientUnits="userSpaceOnUse" x1="137" x2="487"><stop offset="0.000" stop-color="#00f7ff"/><stop offset="0.297" stop-color="#00f2ff"/><stop offset="0.300" stop-color="#1ef2ff"/><stop offset="0.306" stop-color="#3ff2ff"/><stop offset="0.314" stop-color="#5bf2ff"/><stop offset="0.329" stop-color="#7cf2ff"/><stop offset="0.369" stop-color="#bbf0ff"/><stop offset="0.426" stop-color="#ffedfe"/><stop offset="0.480" stop-color="#ffbecd"/><stop offset="0.554" stop-color="#ff92a1"/><stop offset="0.771" stop-color="#ff324b"/><stop offset="0.806" stop-color="#ff1b3e"/><stop offset="0.829" stop-color="#ff0034"/><stop offset="0.874" stop-color="#ff001a"/><stop offset="0.897" stop-color="#ff0000"/><stop offset="1.000" stop-color="#ff0000"/></linearGradient>
<linearGradient id="c78" gradientUnits="userSpaceOnUse" x1="137" x2="487"><stop offset="0.000" stop-color="#00f3ff"/><stop offset="0.294" stop-color="#00edff"/><stop offset="0.297" stop-color="#1bedff"/><stop offset="0.303" stop-color="#3dedff"/><stop offset="0.311" stop-color="#59ecff"/><stop offset="0.326" stop-color="#7aecff"/><stop offset="0.366" stop-color="#b9eaff"/><stop offset="0.426" stop-color="#ffe7fe"/><stop offset="0.480" stop-color="#ffb9cf"/><stop offset="0.554" stop-color="#ff8da3"/><stop offset="0.754" stop-color="#ff3355"/><stop offset="0.789" stop-color="#ff1c48"/><stop offset="0.811" stop-color="#ff003f"/><stop offset="0.877" stop-color="#ff0020"/><stop offset="0.909" stop-color="#ff0000"/><stop offset="1.000" stop-color="#ff0000"/></linearGradient>
<linearGradient id="c79" gradientUnits="userSpaceOnUse" x1="137" x2="487"><stop offset="0.000" stop-color="#00f0ff"/><stop offset="0.291" stop-color="#00e8ff"/><stop offset="0.297" stop-color="#2de8ff"/><stop offset="0.303" stop-color="#46e7ff"/><stop offset="0.326" stop-color="#7ee6ff"/><stop offset="0.366" stop-color="#bae4ff"/><stop offset="0.426" stop-color="#ffe0ff"/><stop offset="0.480" stop-color="#ffb3d0"/><stop offset="0.551" stop-color="#ff8aa6"/><stop offset="0.740" stop-color="#ff325c"/><stop offset="0.774" stop-color="#ff1a50"/><stop offset="0.794" stop-color="#ff0049"/><stop offset="0.883" stop-color="#ff0023"/><stop offset="0.920" stop-color="#ff0000"/><stop offset="1.000" stop-color="#ff0000"/></linearGradient>
<linearGradient id="c80" gradientUnits="userSpaceOnUse" x1="137" x2="487"><stop offset="0.000" stop-color="#00ecff"/><stop offset="0.289" stop-color="#00e3ff"/><stop offset="0.294" stop-color="#2be2ff"/><stop offset="0.300" stop-color="#44e2ff"/><stop offset="0.323" stop-color="#7ce1ff"/><stop offset="0.363" stop-color="#b8deff"/><stop offset="0.426" stop-color="#ffdaff"/><stop offset="0.480" stop-color="#ffaed1"/><stop offset="0.551" stop-color="#ff85a8"/><stop offset="0.726" stop-color="#ff3264"/><stop offset="0.760" stop-color="#ff1958"/><stop offset="0.777" stop-color="#ff0052"/><stop offset="0.889" stop-color="#ff0026"/><stop offset="0.914" stop-color="#ff0015"/><stop offset="0.931" stop-color="#ff0000"/><stop offset="1.000" stop-color="#ff0000"/></linearGradient>
<linearGradient id="c81" gradientUnits="userSpaceOnUse" x1="137" x2="487"><stop offset="0.000" stop-color="#00e9ff"/><stop offset="0.286" stop-color="#00deff"/><stop offset="0.291" stop-color="#28ddff"/><stop offset="0.297" stop-color="#42ddff"/><stop offset="0.320" stop-color="#7adcff"/><stop offset="0.360" stop-color="#b5d9ff"/><stop offset="0.426" stop-color="#ffd3ff"/><stop offset="0.480" stop-color="#ffa8d2"/><stop offset="0.549" stop-color="#ff81ab"/><stop offset="0.711" stop-color="#ff316b"/><stop offset="0.743" stop-color="#ff1a60"/><stop offset="0.760" stop-color="#ff005b"/><stop offset="0.891" stop-color="#ff002a"/><stop offset="0.923" stop-color="#ff0017"/><stop offset="0.943" stop-color="#ff0001"/><stop offset="1.000" stop-color="#ff0000"/></linearGradient>
<linearGradient id="c82" gradientUnits="userSpaceOnUse" x1="137" x2="487"><stop offset="0.000" stop-color="#00e5ff"/><stop offset="0.283" stop-color="#00d9ff"/><stop offset="0.286" stop-color="#0bd8ff"/><stop offset="0.289" stop-color="#26d8ff"/><stop offset="0.294" stop-color="#40d8ff"/><stop offset="0.306" stop-color="#61d7ff"/><stop offset="0.320" stop-color="#7dd6ff"/><stop offset="0.366" stop-color="#bdd2ff"/><stop offset="0.429" stop-color="#ffcafd"/><stop offset="0.480" stop-color="#ffa3d3"/><stop offset="0.546" stop-color="#ff7dad"/><stop offset="0.697" stop-color="#ff3172"/><stop offset="0.726" stop-color="#ff1b68"/><stop offset="0.743" stop-color="#ff0163"/><stop offset="0.897" stop-color="#ff002c"/><stop offset="0.934" stop-color="#ff0017"/><stop offset="0.954" stop-color="#ff0001"/><stop offset="1.000" stop-color="#ff0000"/></linearGradient>
<linearGradient id="c83" gradientUnits="userSpaceOnUse" x1="137" x2="487"><stop offset="0.000" stop-color="#00e2ff"/><stop offset="0.280" stop-color="#00d4ff"/><stop offset="0.283" stop-color="#05d3ff"/><stop offset="0.286" stop-color="#24d3ff"/><stop offset="0.294" stop-color="#48d3ff"/><stop offset="0.317" stop-color="#7bd1ff"/><stop offset="0.363" stop-color="#bbcdff"/><stop offset="0.429" stop-color="#ffc4fd"/><stop offset="0.480" stop-color="#ff9dd4"/><stop offset="0.543" stop-color="#ff79b0"/><stop offset="0.683" stop-color="#ff3079"/><stop offset="0.709" stop-color="#ff1c70"/><stop offset="0.729" stop-color="#ff006a"/><stop offset="0.906" stop-color="#ff002d"/><stop offset="0.943" stop-color="#ff0019"/><stop offset="0.966" stop-color="#ff0001"/><stop offset="1.000" stop-color="#ff0000"/></linearGradient>
<linearGradient id="c84" gradientUnits="userSpaceOnUse" x1="137" x2="487"><stop offset="0.000" stop-color="#00deff"/><stop offset="0.280" stop-color="#00cfff"/><stop offset="0.283" stop-color="#21ceff"/><stop offset="0.289" stop-color="#3dceff"/><stop offset="0.300" stop-color="#5dcdff"/><stop offset="0.314" stop-color="#79ccff"/><stop offset="0.360" stop-color="#b9c7ff"/><stop offset="0.429" stop-color="#ffbdfe"/><stop offset="0.477" stop-color="#ff99d7"/><stop offset="0.537" stop-color="#ff76b4"/><stop offset="0.669" stop-color="#ff2f7f"/><stop offset="0.694" stop-color="#ff1a77"/><stop offset="0.711" stop-color="#ff0071"/><stop offset="0.900" stop-color="#ff0033"/><stop offset="0.951" stop-color="#ff001a"/><stop offset="0.977" stop-color="#ff0001"/><stop offset="1.000" stop-color="#ff0000"/></linearGradient>
<linearGradient id="c85" gradientUnits="userSpaceOnUse" x1="137" x2="487"><stop offset="0.000" stop-color="#00dbff"/><stop offset="0.277" stop-color="#00caff"/><stop offset="0.280" stop-color="#1fcaff"/><stop offset="0.289" stop-color="#45c9ff"/><stop offset="0.314" stop-color="#7dc6ff"/><stop offset="0.360" stop-color="#bac1ff"/><stop offset="0.429" stop-color="#ffb7fe"/><stop offset="0.520" stop-color="#ff79bf"/><stop offset="0.651" stop-color="#ff3087"/><stop offset="0.677" stop-color="#ff1b7e"/><stop offset="0.694" stop-color="#ff0079"/><stop offset="0.914" stop-color="#ff0032"/><stop offset="0.963" stop-color="#ff001a"/><stop offset="0.989" stop-color="#ff0001"/><stop offset="1.000" stop-color="#ff0000"/></linearGradient>
<linearGradient id="c86" gradientUnits="userSpaceOnUse" x1="137" x2="487"><stop offset="0.000" stop-color="#00d7ff"/><stop offset="0.274" stop-color="#00c5ff"/><stop offset="0.277" stop-color="#1cc5ff"/><stop offset="0.280" stop-color="#2dc4ff"/><stop offset="0.286" stop-color="#43c4ff"/><stop offset="0.311" stop-color="#7bc1ff"/><stop offset="0.357" stop-color="#b8bcff"/><stop offset="0.429" stop-color="#ffb0ff"/><stop offset="0.514" stop-color="#ff77c3"/><stop offset="0.634" stop-color="#ff328f"/><stop offset="0.660" stop-color="#ff1c86"/><stop offset="0.677" stop-color="#ff0080"/><stop offset="0.926" stop-color="#ff0031"/><stop offset="0.974" stop-color="#ff001a"/><stop offset="1.000" stop-color="#ff0001"/></linearGradient>
<linearGradient id="c87" gradientUnits="userSpaceOnUse" x1="137" x2="487"><stop offset="0.000" stop-color="#00d4ff"/><stop offset="0.271" stop-color="#00c0ff"/><stop offset="0.277" stop-color="#2bc0ff"/><stop offset="0.283" stop-color="#42bfff"/><stop offset="0.309" stop-color="#79bcff"/><stop offset="0.354" stop-color="#b5b6ff"/><stop offset="0.429" stop-color="#ffa9ff"/><stop offset="0.509" stop-color="#ff73c7"/><stop offset="0.620" stop-color="#ff3195"/><stop offset="0.646" stop-color="#ff1a8c"/><stop offset="0.660" stop-color="#ff0087"/><stop offset="0.920" stop-color="#ff0037"/><stop offset="1.000" stop-color="#ff000f"/></linearGradient>
<linearGradient id="c88" gradientUnits="userSpaceOnUse" x1="137" x2="487"><stop offset="0.000" stop-color="#00d0ff"/><stop offset="0.269" stop-color="#00bcff"/><stop offset="0.274" stop-color="#29bbff"/><stop offset="0.280" stop-color="#40baff"/><stop offset="0.291" stop-color="#5db9ff"/><stop offset="0.309" stop-color="#7cb7ff"/><stop offset="0.354" stop-color="#b7b0ff"/><stop offset="0.429" stop-color="#fea2ff"/><stop offset="0.503" stop-color="#ff70cb"/><stop offset="0.603" stop-color="#ff339d"/><stop offset="0.629" stop-color="#ff1b94"/><stop offset="0.643" stop-color="#ff008f"/><stop offset="0.917" stop-color="#ff003b"/><stop offset="1.000" stop-color="#ff0018"/></linearGradient>
<linearGradient id="c89" gradientUnits="userSpaceOnUse" x1="137" x2="487"><stop offset="0.000" stop-color="#00cdff"/><stop offset="0.266" stop-color="#00b7ff"/><stop offset="0.271" stop-color="#27b6ff"/><stop offset="0.277" stop-color="#3eb5ff"/><stop offset="0.289" stop-color="#5cb4ff"/><stop offset="0.306" stop-color="#7bb2ff"/><stop offset="0.357" stop-color="#bbaaff"/><stop offset="0.431" stop-color="#ff99fd"/><stop offset="0.500" stop-color="#ff6bce"/><stop offset="0.589" stop-color="#ff32a4"/><stop offset="0.611" stop-color="#ff1c9c"/><stop offset="0.629" stop-color="#ff0095"/><stop offset="0.920" stop-color="#ff003e"/><stop offset="1.000" stop-color="#ff001e"/></linearGradient>
<linearGradient id="c90" gradientUnits="userSpaceOnUse" x1="137" x2="487"><stop offset="0.000" stop-color="#00c9ff"/><stop offset="0.263" stop-color="#00b2ff"/><stop offset="0.269" stop-color="#25b1ff"/><stop offset="0.277" stop-color="#46b0ff"/><stop offset="0.306" stop-color="#7dacff"/><stop offset="0.357" stop-color="#bca4ff"/><stop offset="0.431" stop-color="#ff92fe"/><stop offset="0.491" stop-color="#ff69d4"/><stop offset="0.571" stop-color="#ff33ad"/><stop offset="0.594" stop-color="#ff1da3"/><stop offset="0.611" stop-color="#ff009d"/><stop offset="1.000" stop-color="#ff0024"/></linearGradient>
<linearGradient id="c91" gradientUnits="userSpaceOnUse" x1="137" x2="487"><stop offset="0.000" stop-color="#00c6ff"/><stop offset="0.260" stop-color="#00adff"/><stop offset="0.263" stop-color="#0badff"/><stop offset="0.266" stop-color="#23adff"/><stop offset="0.269" stop-color="#31acff"/><stop offset="0.274" stop-color="#44abff"/><stop offset="0.303" stop-color="#7ca7ff"/><stop offset="0.354" stop-color="#ba9eff"/><stop offset="0.431" stop-color="#ff8bfe"/><stop offset="0.489" stop-color="#ff63d6"/><stop offset="0.557" stop-color="#ff33b4"/><stop offset="0.580" stop-color="#ff1baa"/><stop offset="0.594" stop-color="#ff00a5"/><stop offset="1.000" stop-color="#ff0028"/></linearGradient>
<linearGradient id="c92" gradientUnits="userSpaceOnUse" x1="137" x2="487"><stop offset="0.000" stop-color="#00c3ff"/><stop offset="0.257" stop-color="#00a9ff"/><stop offset="0.260" stop-color="#06a8ff"/><stop offset="0.263" stop-color="#21a8ff"/><stop offset="0.266" stop-color="#2fa8ff"/><stop offset="0.271" stop-color="#43a7ff"/><stop offset="0.300" stop-color="#7aa2ff"/><stop offset="0.351" stop-color="#b898ff"/><stop offset="0.431" stop-color="#ff83ff"/><stop offset="0.483" stop-color="#ff5edb"/><stop offset="0.543" stop-color="#ff32bb"/><stop offset="0.563" stop-color="#ff1cb3"/><stop offset="0.577" stop-color="#ff00ad"/><stop offset="1.000" stop-color="#ff002c"/></linearGradient>
<linearGradient id="c93" gradientUnits="userSpaceOnUse" x1="137" x2="487"><stop offset="0.000" stop-color="#00bfff"/><stop offset="0.254" stop-color="#00a4ff"/><stop offset="0.257" stop-color="#02a4ff"/><stop offset="0.260" stop-color="#1fa3ff"/><stop offset="0.269" stop-color="#41a2ff"/><stop offset="0.283" stop-color="#61a0ff"/><stop offset="0.300" stop-color="#7d9dff"/><stop offset="0.351" stop-color="#b992ff"/><stop offset="0.431" stop-color="#ff7bff"/><stop offset="0.529" stop-color="#ff31c3"/><stop offset="0.549" stop-color="#ff1aba"/><stop offset="0.560" stop-color="#ff00b5"/><stop offset="0.689" stop-color="#ff0088"/><stop offset="1.000" stop-color="#ff0030"/></linearGradient>
<linearGradient id="c94" gradientUnits="userSpaceOnUse" x1="137" x2="487"><stop offset="0.000" stop-color="#00bcff"/><stop offset="0.254" stop-color="#009fff"/><stop offset="0.257" stop-color="#1c9fff"/><stop offset="0.266" stop-color="#409dff"/><stop offset="0.280" stop-color="#609bff"/><stop offset="0.297" stop-color="#7c97ff"/><stop offset="0.349" stop-color="#b78cff"/><stop offset="0.431" stop-color="#ff72ff"/><stop offset="0.514" stop-color="#ff30cb"/><stop offset="0.531" stop-color="#ff1bc3"/><stop offset="0.543" stop-color="#ff00bd"/><stop offset="0.686" stop-color="#ff008a"/><stop offset="1.000" stop-color="#ff0033"/></linearGradient>
<linearGradient id="c95" gradientUnits="userSpaceOnUse" x1="137" x2="487"><stop offset="0.000" stop-color="#00b8ff"/><stop offset="0.251" stop-color="#009aff"/><stop offset="0.254" stop-color="#1a9aff"/><stop offset="0.257" stop-color="#2a99ff"/><stop offset="0.263" stop-color="#3e98ff"/><stop offset="0.277" stop-color="#5f96ff"/><stop offset="0.294" stop-color="#7a92ff"/><stop offset="0.349" stop-color="#b886ff"/><stop offset="0.431" stop-color="#fe69ff"/><stop offset="0.500" stop-color="#ff2fd3"/><stop offset="0.514" stop-color="#ff1dcc"/><stop offset="0.529" stop-color="#ff00c5"/><stop offset="0.680" stop-color="#ff008d"/><stop offset="1.000" stop-color="#ff0037"/></linearGradient>
<linearGradient id="c96" gradientUnits="userSpaceOnUse" x1="137" x2="487"><stop offset="0.000" stop-color="#00b5ff"/><stop offset="0.249" stop-color="#0096ff"/><stop offset="0.254" stop-color="#2895ff"/><stop offset="0.263" stop-color="#4593ff"/><stop offset="0.294" stop-color="#7d8cff"/><stop offset="0.351" stop-color="#bb7eff"/><stop offset="0.434" stop-color="#ff5dfe"/><stop offset="0.489" stop-color="#ff2ada"/><stop offset="0.511" stop-color="#ff00ce"/><stop offset="0.674" stop-color="#ff0090"/><stop offset="1.000" stop-color="#ff003a"/></linearGradient>
<linearGradient id="c97" gradientUnits="userSpaceOnUse" x1="137" x2="487"><stop offset="0.000" stop-color="#00b1ff"/><stop offset="0.246" stop-color="#0091ff"/><stop offset="0.251" stop-color="#2690ff"/><stop offset="0.260" stop-color="#438eff"/><stop offset="0.291" stop-color="#7b87ff"/><stop offset="0.349" stop-color="#b978ff"/><stop offset="0.434" stop-color="#ff52fe"/><stop offset="0.474" stop-color="#ff29e3"/><stop offset="0.494" stop-color="#ff00d8"/><stop offset="0.666" stop-color="#ff0094"/><stop offset="1.000" stop-color="#ff003c"/></linearGradient>
<linearGradient id="c98" gradientUnits="userSpaceOnUse" x1="137" x2="487"><stop offset="0.000" stop-color="#00aeff"/><stop offset="0.243" stop-color="#008cff"/><stop offset="0.249" stop-color="#258bff"/><stop offset="0.257" stop-color="#4289ff"/><stop offset="0.289" stop-color="#7a82ff"/><stop offset="0.346" stop-color="#b871ff"/><stop offset="0.434" stop-color="#ff45fe"/><stop offset="0.463" stop-color="#ff22eb"/><stop offset="0.477" stop-color="#ff00e2"/><stop offset="0.554" stop-color="#ff00bd"/><stop offset="0.654" stop-color="#ff0099"/><stop offset="1.000" stop-color="#ff003f"/></linearGradient>
<linearGradient id="c99" gradientUnits="userSpaceOnUse" x1="137" x2="487"><stop offset="0.000" stop-color="#00aaff"/><stop offset="0.240" stop-color="#0087ff"/><stop offset="0.246" stop-color="#2386ff"/><stop offset="0.254" stop-color="#4184ff"/><stop offset="0.269" stop-color="#5f81ff"/><stop offset="0.289" stop-color="#7c7bff"/><stop offset="0.377" stop-color="#d35cff"/><stop offset="0.434" stop-color="#ff35ff"/><stop offset="0.451" stop-color="#ff1af3"/><stop offset="0.460" stop-color="#ff00ed"/><stop offset="0.540" stop-color="#ff00c4"/><stop offset="0.643" stop-color="#ff009e"/><stop offset="1.000" stop-color="#ff0041"/></linearGradient>
<linearGradient id="c100" gradientUnits="userSpaceOnUse" x1="137" x2="487"><stop offset="0.000" stop-color="#00a7ff"/><stop offset="0.237" stop-color="#0082ff"/><stop offset="0.240" stop-color="#0b82ff"/><stop offset="0.243" stop-color="#2181ff"/><stop offset="0.251" stop-color="#3f7fff"/><stop offset="0.266" stop-color="#5d7bff"/><stop offset="0.286" stop-color="#7b76ff"/><stop offset="0.326" stop-color="#a769ff"/><stop offset="0.383" stop-color="#d84fff"/><stop offset="0.414" stop-color="#f037ff"/><stop offset="0.434" stop-color="#ff1cff"/><stop offset="0.443" stop-color="#ff00f9"/><stop offset="0.526" stop-color="#ff00cb"/><stop offset="0.631" stop-color="#ff00a2"/><stop offset="1.000" stop-color="#ff0044"/></linearGradient>
<linearGradient id="c101" gradientUnits="userSpaceOnUse" x1="137" x2="487"><stop offset="0.000" stop-color="#00a3ff"/><stop offset="0.234" stop-color="#007dff"/><stop offset="0.237" stop-color="#077cff"/><stop offset="0.240" stop-color="#1f7cff"/><stop offset="0.243" stop-color="#2c7bff"/><stop offset="0.251" stop-color="#4579ff"/><stop offset="0.283" stop-color="#7a70ff"/><stop offset="0.326" stop-color="#a861ff"/><stop offset="0.383" stop-color="#d842ff"/><stop offset="0.411" stop-color="#ee26ff"/><stop offset="0.420" stop-color="#f416ff"/><stop offset="0.426" stop-color="#f801ff"/><stop offset="0.434" stop-color="#ff00ff"/><stop offset="0.520" stop-color="#ff00ce"/><stop offset="0.629" stop-color="#ff00a4"/><stop offset="1.000" stop-color="#ff0046"/></linearGradient>
<linearGradient id="c102" gradientUnits="userSpaceOnUse" x1="137" x2="487"><stop offset="0.000" stop-color="#009fff"/><stop offset="0.231" stop-color="#0078ff"/><stop offset="0.234" stop-color="#0377ff"/><stop offset="0.237" stop-color="#1d77ff"/><stop offset="0.240" stop-color="#2a76ff"/><stop offset="0.249" stop-color="#4473ff"/><stop offset="0.283" stop-color="#7c69ff"/><stop offset="0.363" stop-color="#c943ff"/><stop offset="0.394" stop-color="#e126ff"/><stop offset="0.411" stop-color="#ee00ff"/><stop offset="0.434" stop-color="#fe00ff"/><stop offset="0.520" stop-color="#ff00cf"/><stop offset="0.629" stop-color="#ff00a5"/><stop offset="1.000" stop-color="#ff0048"/></linearGradient>
<linearGradient id="c103" gradientUnits="userSpaceOnUse" x1="137" x2="487"><stop offset="0.000" stop-color="#009cff"/><stop offset="0.231" stop-color="#0072ff"/><stop offset="0.234" stop-color="#1b71ff"/><stop offset="0.237" stop-color="#2970ff"/><stop offset="0.246" stop-color="#436eff"/><stop offset="0.280" stop-color="#7b63ff"/><stop offset="0.360" stop-color="#c738ff"/><stop offset="0.380" stop-color="#d721ff"/><stop offset="0.394" stop-color="#e100ff"/><stop offset="0.437" stop-color="#ff00fe"/><stop offset="0.520" stop-color="#ff00d0"/><stop offset="0.631" stop-color="#ff00a6"/><stop offset="1.000" stop-color="#ff004a"/></linearGradient>
<linearGradient id="c104" gradientUnits="userSpaceOnUse" x1="137" x2="487"><stop offset="0.000" stop-color="#0098ff"/><stop offset="0.229" stop-color="#006dff"/><stop offset="0.231" stop-color="#196cff"/><stop offset="0.234" stop-color="#276bff"/><stop offset="0.243" stop-color="#4268ff"/><stop offset="0.277" stop-color="#7a5cff"/><stop offset="0.349" stop-color="#bf32ff"/><stop offset="0.366" stop-color="#cc1dff"/><stop offset="0.377" stop-color="#d500ff"/><stop offset="0.437" stop-color="#ff00fe"/><stop offset="0.520" stop-color="#ff00d1"/><stop offset="0.631" stop-color="#ff00a7"/><stop offset="1.000" stop-color="#ff004c"/></linearGradient>
<linearGradient id="c105" gradientUnits="userSpaceOnUse" x1="137" x2="487"><stop offset="0.000" stop-color="#0094ff"/><stop offset="0.226" stop-color="#0067ff"/><stop offset="0.231" stop-color="#2665ff"/><stop offset="0.240" stop-color="#4062ff"/><stop offset="0.254" stop-color="#5c5dff"/><stop offset="0.277" stop-color="#7c54ff"/><stop offset="0.334" stop-color="#b42fff"/><stop offset="0.351" stop-color="#c218ff"/><stop offset="0.360" stop-color="#c800ff"/><stop offset="0.437" stop-color="#ff00ff"/><stop offset="0.523" stop-color="#ff00d0"/><stop offset="0.634" stop-color="#ff00a7"/><stop offset="1.000" stop-color="#ff004e"/></linearGradient>
<linearGradient id="c106" gradientUnits="userSpaceOnUse" x1="137" x2="487"><stop offset="0.000" stop-color="#0090ff"/><stop offset="0.126" stop-color="#007bff"/><stop offset="0.223" stop-color="#0061ff"/><stop offset="0.229" stop-color="#245fff"/><stop offset="0.237" stop-color="#3f5cff"/><stop offset="0.251" stop-color="#5b56ff"/><stop offset="0.274" stop-color="#7b4cff"/><stop offset="0.323" stop-color="#ab29ff"/><stop offset="0.334" stop-color="#b418ff"/><stop offset="0.343" stop-color="#bb00ff"/><stop offset="0.437" stop-color="#ff00ff"/><stop offset="0.523" stop-color="#ff00d1"/><stop offset="0.634" stop-color="#ff00a8"/><stop offset="1.000" stop-color="#ff0050"/></linearGradient>
<linearGradient id="c107" gradientUnits="userSpaceOnUse" x1="137" x2="487"><stop offset="0.000" stop-color="#008cff"/><stop offset="0.126" stop-color="#0076ff"/><stop offset="0.220" stop-color="#005bff"/><stop offset="0.226" stop-color="#2259ff"/><stop offset="0.234" stop-color="#3e55ff"/><stop offset="0.249" stop-color="#5a4fff"/><stop offset="0.271" stop-color="#7943ff"/><stop offset="0.309" stop-color="#9f25ff"/><stop offset="0.320" stop-color="#a913ff"/><stop offset="0.326" stop-color="#ae01ff"/><stop offset="0.437" stop-color="#ff00ff"/><stop offset="0.523" stop-color="#ff00d1"/><stop offset="0.637" stop-color="#ff00a8"/><stop offset="1.000" stop-color="#ff0052"/></linearGradient>
<linearGradient id="c108" gradientUnits="userSpaceOnUse" x1="137" x2="487"><stop offset="0.000" stop-color="#0089ff"/><stop offset="0.126" stop-color="#0071ff"/><stop offset="0.217" stop-color="#0054ff"/><stop offset="0.226" stop-color="#2c51ff"/><stop offset="0.234" stop-color="#434dff"/><stop offset="0.271" stop-color="#7c37ff"/><stop offset="0.294" stop-color="#9322ff"/><stop offset="0.311" stop-color="#a300ff"/><stop offset="0.437" stop-color="#ff00ff"/><stop offset="0.526" stop-color="#ff00d1"/><stop offset="0.637" stop-color="#ff00a9"/><stop offset="1.000" stop-color="#ff0054"/></linearGradient>
<linearGradient id="c109" gradientUnits="userSpaceOnUse" x1="137" x2="487"><stop offset="0.000" stop-color="#0085ff"/><stop offset="0.126" stop-color="#006bff"/><stop offset="0.214" stop-color="#004dff"/><stop offset="0.223" stop-color="#2b49ff"/><stop offset="0.231" stop-color="#4245ff"/><stop offset="0.269" stop-color="#7a2bff"/><stop offset="0.283" stop-color="#8a19ff"/><stop offset="0.294" stop-color="#9500ff"/><stop offset="0.437" stop-color="#fe00ff"/><stop offset="0.529" stop-color="#ff00d0"/><stop offset="0.640" stop-color="#ff00a9"/><stop offset="1.000" stop-color="#ff0055"/></linearGradient>
<linearGradient id="c110" gradientUnits="userSpaceOnUse" x1="137" x2="487"><stop offset="0.000" stop-color="#0080ff"/><stop offset="0.126" stop-color="#0065ff"/><stop offset="0.211" stop-color="#0046ff"/><stop offset="0.214" stop-color="#0844ff"/><stop offset="0.220" stop-color="#2941ff"/><stop offset="0.229" stop-color="#413cff"/><stop offset="0.254" stop-color="#6b28ff"/><stop offset="0.269" stop-color="#7c14ff"/><stop offset="0.277" stop-color="#8600ff"/><stop offset="0.346" stop-color="#c000ff"/><stop offset="0.440" stop-color="#ff00fe"/><stop offset="0.526" stop-color="#ff00d2"/><stop offset="0.640" stop-color="#ff00aa"/><stop offset="1.000" stop-color="#ff0057"/></linearGradient>
<linearGradient id="c111" gradientUnits="userSpaceOnUse" x1="137" x2="487"><stop offset="0.000" stop-color="#007cff"/><stop offset="0.126" stop-color="#005fff"/><stop offset="0.209" stop-color="#003dff"/><stop offset="0.211" stop-color="#043cff"/><stop offset="0.214" stop-color="#1b3aff"/><stop offset="0.217" stop-color="#2838ff"/><stop offset="0.226" stop-color="#4032ff"/><stop offset="0.249" stop-color="#671aff"/><stop offset="0.260" stop-color="#7500ff"/><stop offset="0.266" stop-color="#7b00ff"/><stop offset="0.334" stop-color="#b800ff"/><stop offset="0.440" stop-color="#ff00fe"/><stop offset="0.529" stop-color="#ff00d2"/><stop offset="0.643" stop-color="#ff00aa"/><stop offset="1.000" stop-color="#ff0058"/></linearGradient>
<linearGradient id="c112" gradientUnits="userSpaceOnUse" x1="137" x2="487"><stop offset="0.000" stop-color="#0078ff"/><stop offset="0.129" stop-color="#0058ff"/><stop offset="0.209" stop-color="#0131ff"/><stop offset="0.211" stop-color="#192fff"/><stop offset="0.214" stop-color="#272dff"/><stop offset="0.223" stop-color="#3f25ff"/><stop offset="0.234" stop-color="#5515ff"/><stop offset="0.243" stop-color="#6200ff"/><stop offset="0.263" stop-color="#7a00ff"/><stop offset="0.331" stop-color="#b700ff"/><stop offset="0.440" stop-color="#ff00ff"/><stop offset="0.529" stop-color="#ff00d2"/><stop offset="0.643" stop-color="#ff00ab"/><stop offset="1.000" stop-color="#ff005a"/></linearGradient>
<linearGradient id="c113" gradientUnits="userSpaceOnUse" x1="137" x2="487"><stop offset="0.000" stop-color="#0074ff"/><stop offset="0.131" stop-color="#0050ff"/><stop offset="0.174" stop-color="#003cff"/><stop offset="0.206" stop-color="#0025ff"/><stop offset="0.211" stop-color="#251eff"/><stop offset="0.220" stop-color="#3e10ff"/><stop offset="0.226" stop-color="#4a00ff"/><stop offset="0.260" stop-color="#7900ff"/><stop offset="0.329" stop-color="#b500ff"/><stop offset="0.440" stop-color="#ff00ff"/><stop offset="0.529" stop-color="#ff00d3"/><stop offset="0.643" stop-color="#ff00ac"/><stop offset="1.000" stop-color="#ff005c"/></linearGradient>
<linearGradient id="c114" gradientUnits="userSpaceOnUse" x1="137" x2="487"><stop offset="0.000" stop-color="#006fff"/><stop offset="0.140" stop-color="#0045ff"/><stop offset="0.180" stop-color="#002cff"/><stop offset="0.203" stop-color="#0011ff"/><stop offset="0.209" stop-color="#2401ff"/><stop offset="0.220" stop-color="#4300ff"/><stop offset="0.260" stop-color="#7b00ff"/><stop offset="0.331" stop-color="#b800ff"/><stop offset="0.440" stop-color="#ff00ff"/><stop offset="0.531" stop-color="#ff00d3"/><stop offset="0.646" stop-color="#ff00ac"/><stop offset="1.000" stop-color="#ff005d"/></linearGradient>
<linearGradient id="c115" gradientUnits="userSpaceOnUse" x1="137" x2="487"><stop offset="0.000" stop-color="#006aff"/><stop offset="0.137" stop-color="#003dff"/><stop offset="0.171" stop-color="#0025ff"/><stop offset="0.183" stop-color="#0017ff"/><stop offset="0.191" stop-color="#0003ff"/><stop offset="0.200" stop-color="#0000ff"/><stop offset="0.206" stop-color="#2200ff"/><stop offset="0.217" stop-color="#4200ff"/><stop offset="0.257" stop-color="#7a00ff"/><stop offset="0.329" stop-color="#b700ff"/><stop offset="0.440" stop-color="#ff00ff"/><stop offset="0.531" stop-color="#ff00d3"/><stop offset="0.646" stop-color="#ff00ad"/><stop offset="1.000" stop-color="#ff005e"/></linearGradient>
<linearGradient id="c116" gradientUnits="userSpaceOnUse" x1="137" x2="487"><stop offset="0.000" stop-color="#0065ff"/><stop offset="0.117" stop-color="#003eff"/><stop offset="0.157" stop-color="#0022ff"/><stop offset="0.177" stop-color="#0000ff"/><stop offset="0.197" stop-color="#0000ff"/><stop offset="0.203" stop-color="#2100ff"/><stop offset="0.214" stop-color="#4100ff"/><stop offset="0.231" stop-color="#5e00ff"/><stop offset="0.257" stop-color="#7c00ff"/><stop offset="0.331" stop-color="#ba00ff"/><stop offset="0.443" stop-color="#ff00fe"/><stop offset="0.534" stop-color="#ff00d3"/><stop offset="0.649" stop-color="#ff00ad"/><stop offset="1.000" stop-color="#ff0060"/></linearGradient>
<linearGradient id="c117" gradientUnits="userSpaceOnUse" x1="137" x2="487"><stop offset="0.000" stop-color="#0060ff"/><stop offset="0.114" stop-color="#0035ff"/><stop offset="0.143" stop-color="#001fff"/><stop offset="0.160" stop-color="#0000ff"/><stop offset="0.194" stop-color="#0000ff"/><stop offset="0.203" stop-color="#2a00ff"/><stop offset="0.211" stop-color="#4000ff"/><stop offset="0.229" stop-color="#5d00ff"/><stop offset="0.254" stop-color="#7b00ff"/><stop offset="0.329" stop-color="#b800ff"/><stop offset="0.443" stop-color="#ff00fe"/><stop offset="0.534" stop-color="#ff00d3"/><stop offset="0.649" stop-color="#ff00ae"/><stop offset="1.000" stop-color="#ff0061"/></linearGradient>
<linearGradient id="c118" gradientUnits="userSpaceOnUse" x1="137" x2="487"><stop offset="0.000" stop-color="#005bff"/><stop offset="0.103" stop-color="#0032ff"/><stop offset="0.129" stop-color="#001bff"/><stop offset="0.143" stop-color="#0000ff"/><stop offset="0.191" stop-color="#0000ff"/><stop offset="0.200" stop-color="#2900ff"/><stop offset="0.209" stop-color="#3f00ff"/><stop offset="0.226" stop-color="#5c00ff"/><stop offset="0.251" stop-color="#7a00ff"/><stop offset="0.326" stop-color="#b700ff"/><stop offset="0.443" stop-color="#ff00ff"/><stop offset="0.534" stop-color="#ff00d4"/><stop offset="0.649" stop-color="#ff00ae"/><stop offset="1.000" stop-color="#ff0062"/></linearGradient>
<linearGradient id="c119" gradientUnits="userSpaceOnUse" x1="137" x2="487"><stop offset="0.000" stop-color="#0055ff"/><stop offset="0.089" stop-color="#002fff"/><stop offset="0.111" stop-color="#001bff"/><stop offset="0.126" stop-color="#0000ff"/><stop offset="0.189" stop-color="#0000ff"/><stop offset="0.197" stop-color="#2700ff"/><stop offset="0.209" stop-color="#4400ff"/><stop offset="0.251" stop-color="#7c00ff"/><stop offset="0.326" stop-color="#b800ff"/><stop offset="0.443" stop-color="#ff00ff"/><stop offset="0.534" stop-color="#ff00d4"/><stop offset="0.651" stop-color="#ff00ae"/><stop offset="1.000" stop-color="#ff0064"/></linearGradient>
<linearGradient id="c120" gradientUnits="userSpaceOnUse" x1="137" x2="487"><stop offset="0.000" stop-color="#004fff"/><stop offset="0.077" stop-color="#002bff"/><stop offset="0.097" stop-color="#0018ff"/><stop offset="0.109" stop-color="#0001ff"/><stop offset="0.186" stop-color="#0000ff"/><stop offset="0.189" stop-color="#0500ff"/><stop offset="0.194" stop-color="#2600ff"/><stop offset="0.206" stop-color="#4300ff"/><stop offset="0.249" stop-color="#7b00ff"/><stop offset="0.323" stop-color="#b600ff"/><stop offset="0.443" stop-color="#ff00ff"/><stop offset="0.534" stop-color="#ff00d5"/><stop offset="0.651" stop-color="#ff00af"/><stop offset="1.000" stop-color="#ff0065"/></linearGradient>
<linearGradient id="c121" gradientUnits="userSpaceOnUse" x1="137" x2="487"><stop offset="0.000" stop-color="#0049ff"/><stop offset="0.063" stop-color="#0029ff"/><stop offset="0.080" stop-color="#0018ff"/><stop offset="0.094" stop-color="#0000ff"/><stop offset="0.183" stop-color="#0000ff"/><stop offset="0.186" stop-color="#0200ff"/><stop offset="0.189" stop-color="#1800ff"/><stop offset="0.191" stop-color="#2500ff"/><stop offset="0.203" stop-color="#4200ff"/><stop offset="0.246" stop-color="#7a00ff"/><stop offset="0.323" stop-color="#b700ff"/><stop offset="0.443" stop-color="#ff00ff"/><stop offset="0.534" stop-color="#ff00d6"/><stop offset="0.651" stop-color="#ff00b0"/><stop offset="1.000" stop-color="#ff0066"/></linearGradient>
<linearGradient id="c122" gradientUnits="userSpaceOnUse" x1="137" x2="487"><stop offset="0.000" stop-color="#0042ff"/><stop offset="0.051" stop-color="#0024ff"/><stop offset="0.077" stop-color="#0000ff"/><stop offset="0.183" stop-color="#0000ff"/><stop offset="0.189" stop-color="#2300ff"/><stop offset="0.200" stop-color="#4100ff"/><stop offset="0.243" stop-color="#7900ff"/><stop offset="0.320" stop-color="#b600ff"/><stop offset="0.443" stop-color="#fe00ff"/><stop offset="0.537" stop-color="#ff00d5"/><stop offset="0.654" stop-color="#ff00b0"/><stop offset="1.000" stop-color="#ff0067"/></linearGradient>
<linearGradient id="c123" gradientUnits="userSpaceOnUse" x1="137" x2="487"><stop offset="0.000" stop-color="#0039ff"/><stop offset="0.040" stop-color="#001fff"/><stop offset="0.060" stop-color="#0000ff"/><stop offset="0.180" stop-color="#0000ff"/><stop offset="0.186" stop-color="#2200ff"/><stop offset="0.197" stop-color="#4000ff"/><stop offset="0.217" stop-color="#5e00ff"/><stop offset="0.243" stop-color="#7b00ff"/><stop offset="0.323" stop-color="#b800ff"/><stop offset="0.446" stop-color="#ff00fe"/><stop offset="0.537" stop-color="#ff00d6"/><stop offset="0.654" stop-color="#ff00b1"/><stop offset="1.000" stop-color="#ff0069"/></linearGradient>
<clipPath id="loc"><path d="M219.3 989.1 L219.3 989.1 L219.3 989.1 L219.2 989.1 L219.2 989.1 L219.2 989.1 L219.1 989.1 L219.1 989.1 L219.1 989.1 L219 989.1 L219 989.1 L219 989.2 L218.9 989.2 L218.9 989.2 L218.8 989.2 L218.8 989.2 L218.7 989.2 L218.6 989.2 L218.6 989.2 L218.5 989.2 L218.4 989.2 L218.3 989.2 L218.2 989.1 L218.1 989.1 L218 989 L217.8 989 L217.7 988.9 L217.5 988.7 L217.3 988.6 L217.1 988.4 L216.8 988.2 L216.5 988 L216.2 987.8 L215.9 987.5 L215.5 987.2 L215.1 986.8 L214.7 986.5 L214.2 986.1 L213.7 985.7 L213.1 985.2 L212.5 984.7 L211.7 984.1 L211 983.5 L210.1 982.8 L209.3 982.1 L208.3 981.2 L207.3 980.3 L206.2 979.3 L205 978.1 L203.7 976.9 L202.4 975.4 L200.9 973.6 L199.3 971.4 L197.5 968.8 L195.5 965.7 L193.4 962 L191.1 957.8 L188.6 952.8 L185.9 947 L183 940.3 L179.9 932.5 L176.5 923.6 L172.8 913.6 L169.2 902.3 L165.5 889.6 L161.7 875.7 L158.1 860.5 L154.5 844 L150.9 826.4 L147.7 808.4 L144.8 789.9 L142.3 771 L140.4 752.6 L139.1 734.8 L138.3 717.4 L138.4 701 L139.2 685.7 L140.7 671.4 L143.1 658.7 L146.4 647.8 L150.4 638.6 L155 631.3 L160.2 626.3 L165.9 623.3 L171.8 621.7 L178 621.6 L184.4 623 L190.8 625 L197.2 627.6 L203.7 630.7 L210.1 634 L216.2 637.5 L222.3 641.1 L228.2 644.8 L234.1 648.7 L239.9 652.7 L245.7 656.9 L251.4 661.2 L257.2 665.7 L262.9 670.2 L268.6 674.9 L274.2 679.6 L279.9 684.4 L285.6 689.3 L291.2 694.2 L296.9 699.2 L302.6 704.3 L308.2 709.3 L313.9 714.5 L319.6 719.6 L325.2 724.8 L330.8 729.9 L336.5 735.1 L342.1 740.3 L347.7 745.4 L353.2 750.5 L358.7 755.6 L364.2 760.7 L369.6 765.7 L374.9 770.7 L380.2 775.6 L385.4 780.4 L390.5 785.2 L395.6 789.9 L400.5 794.4 L405.3 798.9 L410 803.3 L414.6 807.5 L419 811.6 L423.2 815.5 L427.2 819.2 L431 822.8 L434.6 826.2 L438.2 829.4 L441.5 832.6 L444.7 835.5 L447.7 838.3 L450.5 840.8 L453.1 843.2 L455.5 845.5 L457.8 847.6 L459.9 849.6 L461.8 851.4 L463.6 853.1 L465.3 854.6 L466.9 856.1 L468.3 857.4 L469.6 858.6 L470.9 859.8 L472 860.8 L473.1 861.9 L474.1 862.8 L475.1 863.7 L476 864.6 L476.9 865.4 L477.6 866.1 L478.4 866.8 L479.1 867.4 L479.7 868 L480.3 868.5 L480.8 869 L481.3 869.4 L481.7 869.8 L482.1 870.2 L482.5 870.5 L482.8 870.9 L483.1 871.1 L483.4 871.4 L483.6 871.6 L483.8 871.8 L484 872 L484.1 872.1 L484.3 872.2 L484.4 872.4 L484.6 872.5 L484.7 872.6 L484.8 872.7 L484.9 872.8 L485 872.9 L485.1 873 L485.2 873.1 L485.4 873.3 L485.6 873.4 L485.7 873.6 L485.8 873.6 L485.8 873.7 L485.8 873.7 Z"/></clipPath>
<filter id="bl1" x="-5%" y="-5%" width="110%" height="110%"><feGaussianBlur stdDeviation="1"/></filter>
<clipPath id="sthalf"><rect x="284.7" y="814.7" width="20.7" height="39.8"/></clipPath>
<clipPath id="phclip"><rect x="72.5" y="6.9" width="519.5" height="467.90000000000003"/></clipPath>
<clipPath id="topclip"><rect x="72.5" y="6.9" width="519.5" height="233.9"/></clipPath>
<clipPath id="botclip"><rect x="72.5" y="240.8" width="519.5" height="234.0"/></clipPath>
<filter id="pb" x="0" y="0" width="100%" height="100%"><feGaussianBlur stdDeviation="0.9"/></filter>
<filter id="pb2" x="-30%" y="-30%" width="160%" height="160%"><feGaussianBlur stdDeviation="2"/></filter>
<filter id="pb4" x="-50%" y="-50%" width="200%" height="200%"><feGaussianBlur stdDeviation="4"/></filter>
<linearGradient id="p1" gradientUnits="userSpaceOnUse" x1="0" y1="40.0" x2="0" y2="82.0"><stop offset="0.0000" stop-color="#909090" stop-opacity="0"/><stop offset="0.2857" stop-color="#a0a0a0" stop-opacity="0.55"/><stop offset="0.6190" stop-color="#a0a0a0" stop-opacity="0.5"/><stop offset="1.0000" stop-color="#808080" stop-opacity="0"/></linearGradient>
<linearGradient id="p2" gradientUnits="userSpaceOnUse" x1="84.0" y1="0" x2="203.0" y2="0"><stop offset="0.0000" stop-color="#757575"/><stop offset="0.0218" stop-color="#3d3d3d"/><stop offset="0.0437" stop-color="#151515"/><stop offset="0.0655" stop-color="#000000"/><stop offset="0.0874" stop-color="#373737"/><stop offset="0.1092" stop-color="#4a4a4a"/><stop offset="0.1311" stop-color="#4d4d4d"/><stop offset="0.1529" stop-color="#606060"/><stop offset="0.1748" stop-color="#606060"/><stop offset="0.1966" stop-color="#404040"/><stop offset="0.2185" stop-color="#434343"/><stop offset="0.2403" stop-color="#646464"/><stop offset="0.2622" stop-color="#959595"/><stop offset="0.2840" stop-color="#888888"/><stop offset="0.3059" stop-color="#474747"/><stop offset="0.3277" stop-color="#404040"/><stop offset="0.3496" stop-color="#696969"/><stop offset="0.3714" stop-color="#6e6e6e"/><stop offset="0.3933" stop-color="#343434"/><stop offset="0.4151" stop-color="#282828"/><stop offset="0.4370" stop-color="#5d5d5d"/><stop offset="0.4588" stop-color="#595959"/><stop offset="0.4807" stop-color="#707070"/><stop offset="0.5025" stop-color="#828282"/><stop offset="0.5244" stop-color="#696969"/><stop offset="0.5462" stop-color="#464646"/><stop offset="0.5681" stop-color="#363636"/><stop offset="0.5899" stop-color="#2b2b2b"/><stop offset="0.6118" stop-color="#565656"/><stop offset="0.6336" stop-color="#7f7f7f"/><stop offset="0.6555" stop-color="#747474"/><stop offset="0.6773" stop-color="#565656"/><stop offset="0.6992" stop-color="#5e5e5e"/><stop offset="0.7210" stop-color="#6a6a6a"/><stop offset="0.7429" stop-color="#787878"/><stop offset="0.7647" stop-color="#727272"/><stop offset="0.7866" stop-color="#707070"/><stop offset="0.8084" stop-color="#757575"/><stop offset="0.8303" stop-color="#454545"/><stop offset="0.8521" stop-color="#6e6e6e"/><stop offset="0.8739" stop-color="#555555"/><stop offset="0.8958" stop-color="#3c3c3c"/><stop offset="0.9176" stop-color="#515151"/><stop offset="0.9395" stop-color="#606060"/><stop offset="0.9613" stop-color="#6d6d6d"/><stop offset="0.9832" stop-color="#474747"/></linearGradient>
<linearGradient id="p3" gradientUnits="userSpaceOnUse" x1="205.0" y1="0" x2="318.0" y2="0"><stop offset="0.0000" stop-color="#636363"/><stop offset="0.0230" stop-color="#505050"/><stop offset="0.0460" stop-color="#565656"/><stop offset="0.0690" stop-color="#3b3b3b"/><stop offset="0.0920" stop-color="#5d5d5d"/><stop offset="0.1150" stop-color="#3d3d3d"/><stop offset="0.1381" stop-color="#545454"/><stop offset="0.1611" stop-color="#565656"/><stop offset="0.1841" stop-color="#595959"/><stop offset="0.2071" stop-color="#a3a3a3"/><stop offset="0.2301" stop-color="#868686"/><stop offset="0.2531" stop-color="#9a9a9a"/><stop offset="0.2761" stop-color="#8b8b8b"/><stop offset="0.2991" stop-color="#535353"/><stop offset="0.3221" stop-color="#747474"/><stop offset="0.3451" stop-color="#5c5c5c"/><stop offset="0.3681" stop-color="#454545"/><stop offset="0.3912" stop-color="#1d1d1d"/><stop offset="0.4142" stop-color="#3c3c3c"/><stop offset="0.4372" stop-color="#747474"/><stop offset="0.4602" stop-color="#6c6c6c"/><stop offset="0.4832" stop-color="#595959"/><stop offset="0.5062" stop-color="#4d4d4d"/><stop offset="0.5292" stop-color="#3f3f3f"/><stop offset="0.5522" stop-color="#272727"/><stop offset="0.5752" stop-color="#191919"/><stop offset="0.5982" stop-color="#252525"/><stop offset="0.6212" stop-color="#2d2d2d"/><stop offset="0.6442" stop-color="#3c3c3c"/><stop offset="0.6673" stop-color="#6d6d6d"/><stop offset="0.6903" stop-color="#737373"/><stop offset="0.7133" stop-color="#6b6b6b"/><stop offset="0.7363" stop-color="#525252"/><stop offset="0.7593" stop-color="#272727"/><stop offset="0.7823" stop-color="#3d3d3d"/><stop offset="0.8053" stop-color="#555555"/><stop offset="0.8283" stop-color="#424242"/><stop offset="0.8513" stop-color="#444444"/><stop offset="0.8743" stop-color="#3f3f3f"/><stop offset="0.8973" stop-color="#232323"/><stop offset="0.9204" stop-color="#3d3d3d"/><stop offset="0.9434" stop-color="#5c5c5c"/><stop offset="0.9664" stop-color="#7b7b7b"/><stop offset="0.9894" stop-color="#6a6a6a"/></linearGradient>
<linearGradient id="p4" gradientUnits="userSpaceOnUse" x1="336.0" y1="0" x2="448.0" y2="0"><stop offset="0.0000" stop-color="#4a4a4a"/><stop offset="0.0232" stop-color="#626262"/><stop offset="0.0464" stop-color="#5a5a5a"/><stop offset="0.0696" stop-color="#656565"/><stop offset="0.0929" stop-color="#757575"/><stop offset="0.1161" stop-color="#5f5f5f"/><stop offset="0.1393" stop-color="#515151"/><stop offset="0.1625" stop-color="#5d5d5d"/><stop offset="0.1857" stop-color="#717171"/><stop offset="0.2089" stop-color="#434343"/><stop offset="0.2321" stop-color="#3b3b3b"/><stop offset="0.2554" stop-color="#3c3c3c"/><stop offset="0.2786" stop-color="#656565"/><stop offset="0.3018" stop-color="#757575"/><stop offset="0.3250" stop-color="#919191"/><stop offset="0.3482" stop-color="#787878"/><stop offset="0.3714" stop-color="#696969"/><stop offset="0.3946" stop-color="#878787"/><stop offset="0.4179" stop-color="#696969"/><stop offset="0.4411" stop-color="#2f2f2f"/><stop offset="0.4643" stop-color="#393939"/><stop offset="0.4875" stop-color="#737373"/><stop offset="0.5107" stop-color="#7a7a7a"/><stop offset="0.5339" stop-color="#646464"/><stop offset="0.5571" stop-color="#777777"/><stop offset="0.5804" stop-color="#6f6f6f"/><stop offset="0.6036" stop-color="#3f3f3f"/><stop offset="0.6268" stop-color="#525252"/><stop offset="0.6500" stop-color="#6d6d6d"/><stop offset="0.6732" stop-color="#464646"/><stop offset="0.6964" stop-color="#7d7d7d"/><stop offset="0.7196" stop-color="#9f9f9f"/><stop offset="0.7429" stop-color="#626262"/><stop offset="0.7661" stop-color="#4f4f4f"/><stop offset="0.7893" stop-color="#5a5a5a"/><stop offset="0.8125" stop-color="#555555"/><stop offset="0.8357" stop-color="#333333"/><stop offset="0.8589" stop-color="#1d1d1d"/><stop offset="0.8821" stop-color="#3d3d3d"/><stop offset="0.9054" stop-color="#535353"/><stop offset="0.9286" stop-color="#555555"/><stop offset="0.9518" stop-color="#6b6b6b"/><stop offset="0.9750" stop-color="#535353"/><stop offset="0.9982" stop-color="#4d4d4d"/></linearGradient>
<linearGradient id="p5" gradientUnits="userSpaceOnUse" x1="450.0" y1="0" x2="571.0" y2="0"><stop offset="0.0000" stop-color="#777777"/><stop offset="0.0215" stop-color="#5f5f5f"/><stop offset="0.0430" stop-color="#5a5a5a"/><stop offset="0.0645" stop-color="#535353"/><stop offset="0.0860" stop-color="#525252"/><stop offset="0.1074" stop-color="#767676"/><stop offset="0.1289" stop-color="#444444"/><stop offset="0.1504" stop-color="#525252"/><stop offset="0.1719" stop-color="#505050"/><stop offset="0.1934" stop-color="#696969"/><stop offset="0.2149" stop-color="#575757"/><stop offset="0.2364" stop-color="#515151"/><stop offset="0.2579" stop-color="#434343"/><stop offset="0.2793" stop-color="#616161"/><stop offset="0.3008" stop-color="#676767"/><stop offset="0.3223" stop-color="#878787"/><stop offset="0.3438" stop-color="#8b8b8b"/><stop offset="0.3653" stop-color="#757575"/><stop offset="0.3868" stop-color="#4e4e4e"/><stop offset="0.4083" stop-color="#282828"/><stop offset="0.4298" stop-color="#343434"/><stop offset="0.4512" stop-color="#404040"/><stop offset="0.4727" stop-color="#696969"/><stop offset="0.4942" stop-color="#737373"/><stop offset="0.5157" stop-color="#4c4c4c"/><stop offset="0.5372" stop-color="#434343"/><stop offset="0.5587" stop-color="#696969"/><stop offset="0.5802" stop-color="#6d6d6d"/><stop offset="0.6017" stop-color="#5a5a5a"/><stop offset="0.6231" stop-color="#505050"/><stop offset="0.6446" stop-color="#3d3d3d"/><stop offset="0.6661" stop-color="#656565"/><stop offset="0.6876" stop-color="#939393"/><stop offset="0.7091" stop-color="#676767"/><stop offset="0.7306" stop-color="#545454"/><stop offset="0.7521" stop-color="#565656"/><stop offset="0.7736" stop-color="#575757"/><stop offset="0.7950" stop-color="#4b4b4b"/><stop offset="0.8165" stop-color="#636363"/><stop offset="0.8380" stop-color="#5d5d5d"/><stop offset="0.8595" stop-color="#535353"/><stop offset="0.8810" stop-color="#434343"/><stop offset="0.9025" stop-color="#2b2b2b"/><stop offset="0.9240" stop-color="#2d2d2d"/><stop offset="0.9455" stop-color="#6f6f6f"/><stop offset="0.9669" stop-color="#5d5d5d"/><stop offset="0.9884" stop-color="#737373"/></linearGradient>
<linearGradient id="p6" gradientUnits="userSpaceOnUse" x1="300.0" y1="0" x2="600.0" y2="0"><stop offset="0.0000" stop-color="#000"/><stop offset="0.1500" stop-color="#666"/><stop offset="0.2667" stop-color="#888"/><stop offset="0.8667" stop-color="#999"/><stop offset="1.0000" stop-color="#999"/></linearGradient>
<mask id="bandmask"><rect x="300" y="40" width="300" height="45" fill="url(#p6)"/></mask>
<linearGradient id="p7" gradientUnits="userSpaceOnUse" x1="0" y1="42.0" x2="0" y2="80.0"><stop offset="0.0000" stop-color="#b0b0b0" stop-opacity="0"/><stop offset="0.2105" stop-color="#c0c0c0" stop-opacity="0.75"/><stop offset="0.6316" stop-color="#b8b8b8" stop-opacity="0.7"/><stop offset="1.0000" stop-color="#a0a0a0" stop-opacity="0"/></linearGradient>
<linearGradient id="p8" gradientUnits="userSpaceOnUse" x1="0" y1="2.9" x2="0" y2="60.0"><stop offset="0.0000" stop-color="#000" stop-opacity="0.55"/><stop offset="0.4746" stop-color="#000" stop-opacity="0.3"/><stop offset="1.0000" stop-color="#000" stop-opacity="0"/></linearGradient>
<linearGradient id="p9" gradientUnits="userSpaceOnUse" x1="68.5" y1="0" x2="85.0" y2="0"><stop offset="0.0000" stop-color="#0c0c0c"/><stop offset="0.6970" stop-color="#121212"/><stop offset="1.0000" stop-color="#1e1e1e"/></linearGradient>
<linearGradient id="p10" gradientUnits="userSpaceOnUse" x1="318.0" y1="0" x2="336.0" y2="0"><stop offset="0.0000" stop-color="#161616"/><stop offset="0.2222" stop-color="#1c1c1c"/><stop offset="0.5556" stop-color="#262626"/><stop offset="0.8333" stop-color="#1c1c1c"/><stop offset="1.0000" stop-color="#101010"/></linearGradient>
<linearGradient id="p11" gradientUnits="userSpaceOnUse" x1="318.0" y1="0" x2="336.0" y2="0"><stop offset="0.0000" stop-color="#202020"/><stop offset="0.4444" stop-color="#3a3a3a"/><stop offset="1.0000" stop-color="#202020"/></linearGradient>
<linearGradient id="p12" gradientUnits="userSpaceOnUse" x1="570.5" y1="0" x2="596.0" y2="0"><stop offset="0.0000" stop-color="#101010"/><stop offset="0.2941" stop-color="#161616"/><stop offset="1.0000" stop-color="#121212"/></linearGradient>
<linearGradient id="p13" gradientUnits="userSpaceOnUse" x1="0" y1="42.0" x2="0" y2="78.0"><stop offset="0.0000" stop-color="#b0b0b0" stop-opacity="0"/><stop offset="0.1944" stop-color="#d0d0d0" stop-opacity="0.95"/><stop offset="0.6667" stop-color="#c8c8c8" stop-opacity="0.9"/><stop offset="1.0000" stop-color="#909090" stop-opacity="0"/></linearGradient>
<linearGradient id="p14" gradientUnits="userSpaceOnUse" x1="0" y1="92.0" x2="0" y2="121.0"><stop offset="0.0000" stop-color="#7a5040" stop-opacity="0"/><stop offset="0.2069" stop-color="#a06040" stop-opacity="0.45"/><stop offset="0.4828" stop-color="#b87048" stop-opacity="0.7"/><stop offset="0.6897" stop-color="#d08850" stop-opacity="0.9"/><stop offset="0.8621" stop-color="#e8924c"/><stop offset="1.0000" stop-color="#ec9850"/></linearGradient>
<linearGradient id="p15" gradientUnits="userSpaceOnUse" x1="0" y1="118.0" x2="0" y2="210.0"><stop offset="0.0000" stop-color="#ec9850"/><stop offset="0.0761" stop-color="#f0a058"/><stop offset="0.5109" stop-color="#f2a862"/><stop offset="0.8370" stop-color="#f4b274"/><stop offset="0.9348" stop-color="#f2b888"/><stop offset="1.0000" stop-color="#e8c0a8"/></linearGradient>
<linearGradient id="p16" gradientUnits="userSpaceOnUse" x1="0" y1="211.0" x2="0" y2="244.8"><stop offset="0.0000" stop-color="#b07038"/><stop offset="0.1479" stop-color="#c67a3a"/><stop offset="0.5030" stop-color="#c47632"/><stop offset="1.0000" stop-color="#b46a2c"/></linearGradient>
<linearGradient id="p17" gradientUnits="userSpaceOnUse" x1="0" y1="92.0" x2="0" y2="131.0"><stop offset="0.0000" stop-color="#8a9a30" stop-opacity="0"/><stop offset="0.4615" stop-color="#a0b838" stop-opacity="0.55"/><stop offset="1.0000" stop-color="#c0cc40" stop-opacity="0.8"/></linearGradient>
<linearGradient id="p18" gradientUnits="userSpaceOnUse" x1="0" y1="127.0" x2="0" y2="145.0"><stop offset="0.0000" stop-color="#6a5a40" stop-opacity="0.1"/><stop offset="0.2222" stop-color="#b08848" stop-opacity="0.8"/><stop offset="0.4444" stop-color="#e8b058"/><stop offset="0.6667" stop-color="#d88840"/><stop offset="0.9444" stop-color="#c84a34"/></linearGradient>
<linearGradient id="p19" gradientUnits="userSpaceOnUse" x1="0" y1="144.0" x2="0" y2="201.0"><stop offset="0.0000" stop-color="#c43a30"/><stop offset="0.1053" stop-color="#c6302c"/><stop offset="0.6842" stop-color="#c8302e"/><stop offset="0.7895" stop-color="#d05844"/><stop offset="0.8947" stop-color="#e4a080"/><stop offset="1.0000" stop-color="#f0dcc0"/></linearGradient>
<linearGradient id="p20" gradientUnits="userSpaceOnUse" x1="0" y1="196.0" x2="0" y2="209.0"><stop offset="0.0000" stop-color="#f0dcb8"/><stop offset="0.4615" stop-color="#e8d8b8"/><stop offset="1.0000" stop-color="#b89070"/></linearGradient>
<linearGradient id="p21" gradientUnits="userSpaceOnUse" x1="0" y1="208.0" x2="0" y2="244.8"><stop offset="0.0000" stop-color="#8e3c2a"/><stop offset="0.1902" stop-color="#843226"/><stop offset="1.0000" stop-color="#6e2820"/></linearGradient>
<linearGradient id="p22" gradientUnits="userSpaceOnUse" x1="0" y1="80.0" x2="0" y2="113.0"><stop offset="0.0000" stop-color="#4a5a30" stop-opacity="0"/><stop offset="0.4848" stop-color="#506030" stop-opacity="0.3"/><stop offset="0.7879" stop-color="#5a6a34" stop-opacity="0.45"/><stop offset="0.9091" stop-color="#8a9440" stop-opacity="0.7"/></linearGradient>
<linearGradient id="p23" gradientUnits="userSpaceOnUse" x1="0" y1="111.0" x2="0" y2="203.0"><stop offset="0.0000" stop-color="#d0d648"/><stop offset="0.0543" stop-color="#d6da4c"/><stop offset="0.5326" stop-color="#d8dc54"/><stop offset="0.8370" stop-color="#dcde60"/><stop offset="0.9239" stop-color="#e0e088"/><stop offset="1.0000" stop-color="#d8d8a0"/></linearGradient>
<linearGradient id="p24" gradientUnits="userSpaceOnUse" x1="0" y1="205.0" x2="0" y2="244.8"><stop offset="0.0000" stop-color="#b0aa48"/><stop offset="0.2513" stop-color="#a8a23e"/><stop offset="1.0000" stop-color="#8c8832"/></linearGradient>
<linearGradient id="p25" gradientUnits="userSpaceOnUse" x1="0" y1="98.0" x2="0" y2="119.0"><stop offset="0.0000" stop-color="#90b040" stop-opacity="0.5"/><stop offset="0.1429" stop-color="#b8d848"/><stop offset="0.3810" stop-color="#c8e048"/><stop offset="0.6667" stop-color="#a8d040"/><stop offset="0.8571" stop-color="#60b030"/><stop offset="1.0000" stop-color="#3aa828"/></linearGradient>
<linearGradient id="p26" gradientUnits="userSpaceOnUse" x1="0" y1="118.0" x2="0" y2="202.0"><stop offset="0.0000" stop-color="#38a82a"/><stop offset="0.3810" stop-color="#32a626"/><stop offset="0.8095" stop-color="#34a82a"/><stop offset="0.8810" stop-color="#60b84a"/><stop offset="0.9405" stop-color="#b8dca0"/><stop offset="1.0000" stop-color="#d0e0c0"/></linearGradient>
<linearGradient id="p27" gradientUnits="userSpaceOnUse" x1="0" y1="207.0" x2="0" y2="244.8"><stop offset="0.0000" stop-color="#4a9a30"/><stop offset="0.2116" stop-color="#2e8a22"/><stop offset="1.0000" stop-color="#1e6a18"/></linearGradient>
<linearGradient id="p28" gradientUnits="userSpaceOnUse" x1="108.0" y1="0" x2="223.0" y2="0"><stop offset="0.0000" stop-color="#2d252f"/><stop offset="0.0226" stop-color="#2f2631"/><stop offset="0.0452" stop-color="#372d39"/><stop offset="0.0678" stop-color="#231d25"/><stop offset="0.0904" stop-color="#2f2731"/><stop offset="0.1130" stop-color="#1b161c"/><stop offset="0.1357" stop-color="#261f28"/><stop offset="0.1583" stop-color="#2d2530"/><stop offset="0.1809" stop-color="#3a303e"/><stop offset="0.2035" stop-color="#2f2732"/><stop offset="0.2261" stop-color="#2d252f"/><stop offset="0.2487" stop-color="#4e4053"/><stop offset="0.2713" stop-color="#5e4d63"/><stop offset="0.2939" stop-color="#433746"/><stop offset="0.3165" stop-color="#3b313f"/><stop offset="0.3391" stop-color="#2c242e"/><stop offset="0.3617" stop-color="#2f2732"/><stop offset="0.3843" stop-color="#2e2630"/><stop offset="0.4070" stop-color="#1f1a21"/><stop offset="0.4296" stop-color="#28212a"/><stop offset="0.4522" stop-color="#1f1920"/><stop offset="0.4748" stop-color="#1e191f"/><stop offset="0.4974" stop-color="#201b22"/><stop offset="0.5200" stop-color="#110e12"/><stop offset="0.5426" stop-color="#181319"/><stop offset="0.5652" stop-color="#2f2732"/><stop offset="0.5878" stop-color="#3f3442"/><stop offset="0.6104" stop-color="#4c3e50"/><stop offset="0.6330" stop-color="#433746"/><stop offset="0.6557" stop-color="#443848"/><stop offset="0.6783" stop-color="#483b4b"/><stop offset="0.7009" stop-color="#3c3240"/><stop offset="0.7235" stop-color="#1c171d"/><stop offset="0.7461" stop-color="#161218"/><stop offset="0.7687" stop-color="#362c38"/><stop offset="0.7913" stop-color="#4e4053"/><stop offset="0.8139" stop-color="#413645"/><stop offset="0.8365" stop-color="#3c313f"/><stop offset="0.8591" stop-color="#342a36"/><stop offset="0.8817" stop-color="#322934"/><stop offset="0.9043" stop-color="#322935"/><stop offset="0.9270" stop-color="#302732"/><stop offset="0.9496" stop-color="#2e2630"/><stop offset="0.9722" stop-color="#453949"/><stop offset="0.9948" stop-color="#3d3241"/></linearGradient>
<linearGradient id="p29" gradientUnits="userSpaceOnUse" x1="223.0" y1="0" x2="334.0" y2="0"><stop offset="0.0000" stop-color="#2b232d"/><stop offset="0.0234" stop-color="#211b22"/><stop offset="0.0468" stop-color="#382e3b"/><stop offset="0.0703" stop-color="#2e2631"/><stop offset="0.0937" stop-color="#272029"/><stop offset="0.1171" stop-color="#28212a"/><stop offset="0.1405" stop-color="#443848"/><stop offset="0.1640" stop-color="#362d39"/><stop offset="0.1874" stop-color="#372d39"/><stop offset="0.2108" stop-color="#2b232d"/><stop offset="0.2342" stop-color="#2e2630"/><stop offset="0.2577" stop-color="#2e2631"/><stop offset="0.2811" stop-color="#392e3b"/><stop offset="0.3045" stop-color="#3d3240"/><stop offset="0.3279" stop-color="#3a303d"/><stop offset="0.3514" stop-color="#58485c"/><stop offset="0.3748" stop-color="#514255"/><stop offset="0.3982" stop-color="#473b4b"/><stop offset="0.4216" stop-color="#413645"/><stop offset="0.4450" stop-color="#262028"/><stop offset="0.4685" stop-color="#3e3341"/><stop offset="0.4919" stop-color="#1f1a21"/><stop offset="0.5153" stop-color="#251e26"/><stop offset="0.5387" stop-color="#352b37"/><stop offset="0.5622" stop-color="#3f3342"/><stop offset="0.5856" stop-color="#3b303e"/><stop offset="0.6090" stop-color="#372d3a"/><stop offset="0.6324" stop-color="#362c38"/><stop offset="0.6559" stop-color="#2c242e"/><stop offset="0.6793" stop-color="#483b4b"/><stop offset="0.7027" stop-color="#5d4d62"/><stop offset="0.7261" stop-color="#221c24"/><stop offset="0.7495" stop-color="#28212a"/><stop offset="0.7730" stop-color="#2c242e"/><stop offset="0.7964" stop-color="#241e26"/><stop offset="0.8198" stop-color="#2c242e"/><stop offset="0.8432" stop-color="#302732"/><stop offset="0.8667" stop-color="#2d252f"/><stop offset="0.8901" stop-color="#2b232d"/><stop offset="0.9135" stop-color="#241d26"/><stop offset="0.9369" stop-color="#322935"/><stop offset="0.9604" stop-color="#272029"/><stop offset="0.9838" stop-color="#211b22"/></linearGradient>
<linearGradient id="p30" gradientUnits="userSpaceOnUse" x1="338.0" y1="0" x2="448.0" y2="0"><stop offset="0.0000" stop-color="#303c32"/><stop offset="0.0236" stop-color="#2a342b"/><stop offset="0.0473" stop-color="#242d25"/><stop offset="0.0709" stop-color="#334034"/><stop offset="0.0945" stop-color="#303d32"/><stop offset="0.1182" stop-color="#202821"/><stop offset="0.1418" stop-color="#212a22"/><stop offset="0.1655" stop-color="#1d241e"/><stop offset="0.1891" stop-color="#283229"/><stop offset="0.2127" stop-color="#4b5e4d"/><stop offset="0.2364" stop-color="#3b4a3c"/><stop offset="0.2600" stop-color="#364337"/><stop offset="0.2836" stop-color="#2f3b30"/><stop offset="0.3073" stop-color="#29332a"/><stop offset="0.3309" stop-color="#1d241e"/><stop offset="0.3545" stop-color="#1e261f"/><stop offset="0.3782" stop-color="#2e3a2f"/><stop offset="0.4018" stop-color="#323e33"/><stop offset="0.4255" stop-color="#171d18"/><stop offset="0.4491" stop-color="#1c231c"/><stop offset="0.4727" stop-color="#29332a"/><stop offset="0.4964" stop-color="#3d4d3f"/><stop offset="0.5200" stop-color="#435445"/><stop offset="0.5436" stop-color="#3a493c"/><stop offset="0.5673" stop-color="#2c372d"/><stop offset="0.5909" stop-color="#202821"/><stop offset="0.6145" stop-color="#29332a"/><stop offset="0.6382" stop-color="#374438"/><stop offset="0.6618" stop-color="#2c372d"/><stop offset="0.6855" stop-color="#252e26"/><stop offset="0.7091" stop-color="#435445"/><stop offset="0.7327" stop-color="#495b4b"/><stop offset="0.7564" stop-color="#4d604f"/><stop offset="0.7800" stop-color="#4b5e4d"/><stop offset="0.8036" stop-color="#2c362d"/><stop offset="0.8273" stop-color="#1d241e"/><stop offset="0.8509" stop-color="#0f1310"/><stop offset="0.8745" stop-color="#273128"/><stop offset="0.8982" stop-color="#303c31"/><stop offset="0.9218" stop-color="#2b352c"/><stop offset="0.9455" stop-color="#2c372d"/><stop offset="0.9691" stop-color="#344135"/><stop offset="0.9927" stop-color="#303c31"/></linearGradient>
<linearGradient id="p31" gradientUnits="userSpaceOnUse" x1="456.0" y1="0" x2="569.0" y2="0"><stop offset="0.0000" stop-color="#354337"/><stop offset="0.0230" stop-color="#242d25"/><stop offset="0.0460" stop-color="#232b23"/><stop offset="0.0690" stop-color="#1d241d"/><stop offset="0.0920" stop-color="#1a201a"/><stop offset="0.1150" stop-color="#1a211b"/><stop offset="0.1381" stop-color="#2e3a30"/><stop offset="0.1611" stop-color="#323f34"/><stop offset="0.1841" stop-color="#2d382e"/><stop offset="0.2071" stop-color="#3b4a3d"/><stop offset="0.2301" stop-color="#3c4b3e"/><stop offset="0.2531" stop-color="#425243"/><stop offset="0.2761" stop-color="#384639"/><stop offset="0.2991" stop-color="#2c372d"/><stop offset="0.3221" stop-color="#29332a"/><stop offset="0.3451" stop-color="#3d4c3f"/><stop offset="0.3681" stop-color="#4f6351"/><stop offset="0.3912" stop-color="#506452"/><stop offset="0.4142" stop-color="#405042"/><stop offset="0.4372" stop-color="#344135"/><stop offset="0.4602" stop-color="#202821"/><stop offset="0.4832" stop-color="#303c31"/><stop offset="0.5062" stop-color="#39473a"/><stop offset="0.5292" stop-color="#2c372d"/><stop offset="0.5522" stop-color="#2d392f"/><stop offset="0.5752" stop-color="#38473a"/><stop offset="0.5982" stop-color="#3b4a3d"/><stop offset="0.6212" stop-color="#475949"/><stop offset="0.6442" stop-color="#364337"/><stop offset="0.6673" stop-color="#344135"/><stop offset="0.6903" stop-color="#29332a"/><stop offset="0.7133" stop-color="#323e33"/><stop offset="0.7363" stop-color="#3b4a3c"/><stop offset="0.7593" stop-color="#2c372d"/><stop offset="0.7823" stop-color="#425243"/><stop offset="0.8053" stop-color="#252e26"/><stop offset="0.8283" stop-color="#2a342b"/><stop offset="0.8513" stop-color="#2f3b30"/><stop offset="0.8743" stop-color="#262f27"/><stop offset="0.8973" stop-color="#2e392f"/><stop offset="0.9204" stop-color="#384539"/><stop offset="0.9434" stop-color="#2b362c"/><stop offset="0.9664" stop-color="#181e19"/><stop offset="0.9894" stop-color="#2d392f"/></linearGradient>
<linearGradient id="p32" gradientUnits="userSpaceOnUse" x1="0" y1="258.0" x2="0" y2="296.0"><stop offset="0.0000" stop-color="#808080" stop-opacity="0"/><stop offset="0.2105" stop-color="#a8a0a0" stop-opacity="0.55"/><stop offset="0.4737" stop-color="#a0a0a0" stop-opacity="0.55"/><stop offset="0.7895" stop-color="#909090" stop-opacity="0.3"/><stop offset="1.0000" stop-color="#808080" stop-opacity="0"/></linearGradient>
<linearGradient id="p33" gradientUnits="userSpaceOnUse" x1="68.5" y1="0" x2="108.0" y2="0"><stop offset="0.0000" stop-color="#161616"/><stop offset="0.5443" stop-color="#101010"/><stop offset="1.0000" stop-color="#080808"/></linearGradient>
<linearGradient id="p34" gradientUnits="userSpaceOnUse" x1="66.0" y1="0" x2="110.0" y2="0"><stop offset="0.0000" stop-color="#d0ccc8"/><stop offset="0.4091" stop-color="#c0bcb8"/><stop offset="0.7727" stop-color="#707070"/><stop offset="1.0000" stop-color="#303030"/></linearGradient>
<linearGradient id="p35" gradientUnits="userSpaceOnUse" x1="0" y1="361.0" x2="0" y2="462.0"><stop offset="0.0000" stop-color="#e04030"/><stop offset="0.0396" stop-color="#f57a38"/><stop offset="0.0891" stop-color="#ffa035"/><stop offset="0.3861" stop-color="#ffa535"/><stop offset="0.7822" stop-color="#ffa23a"/><stop offset="0.9010" stop-color="#ffa860"/><stop offset="1.0000" stop-color="#f0a090"/></linearGradient>
<linearGradient id="p36" gradientUnits="userSpaceOnUse" x1="0" y1="455.0" x2="0" y2="478.8"><stop offset="0.0000" stop-color="#f0a090" stop-opacity="0"/><stop offset="0.2941" stop-color="#e07850"/><stop offset="1.0000" stop-color="#d85030"/></linearGradient>
<linearGradient id="p37" gradientUnits="userSpaceOnUse" x1="0" y1="380.0" x2="0" y2="397.0"><stop offset="0.0000" stop-color="#a03030" stop-opacity="0.3"/><stop offset="0.2941" stop-color="#ff7048"/><stop offset="0.5882" stop-color="#ffb060"/><stop offset="0.7647" stop-color="#ff8050"/><stop offset="1.0000" stop-color="#ff4a40"/></linearGradient>
<linearGradient id="p38" gradientUnits="userSpaceOnUse" x1="0" y1="396.0" x2="0" y2="462.0"><stop offset="0.0000" stop-color="#ff4a3a"/><stop offset="0.2121" stop-color="#ff3a38"/><stop offset="0.6667" stop-color="#ff2e3a"/><stop offset="0.8788" stop-color="#f03848"/><stop offset="1.0000" stop-color="#f07080"/></linearGradient>
<linearGradient id="p39" gradientUnits="userSpaceOnUse" x1="0" y1="458.0" x2="0" y2="478.8"><stop offset="0.0000" stop-color="#f07080" stop-opacity="0"/><stop offset="0.2404" stop-color="#d83030"/><stop offset="1.0000" stop-color="#c82020"/></linearGradient>
<linearGradient id="p40" gradientUnits="userSpaceOnUse" x1="0" y1="350.0" x2="0" y2="383.0"><stop offset="0.0000" stop-color="#30a030" stop-opacity="0.2"/><stop offset="0.1515" stop-color="#60f030"/><stop offset="0.2727" stop-color="#90ff40"/><stop offset="0.4242" stop-color="#40f020"/><stop offset="0.5758" stop-color="#60ff60"/><stop offset="0.7273" stop-color="#c8ffd8"/><stop offset="0.8485" stop-color="#a8ffb8"/><stop offset="1.0000" stop-color="#30f020"/></linearGradient>
<linearGradient id="p41" gradientUnits="userSpaceOnUse" x1="0" y1="382.0" x2="0" y2="464.0"><stop offset="0.0000" stop-color="#28f018"/><stop offset="0.2195" stop-color="#20ee10"/><stop offset="0.4634" stop-color="#28da10"/><stop offset="0.7683" stop-color="#30d418"/><stop offset="0.8537" stop-color="#60e850"/><stop offset="1.0000" stop-color="#a0f0a0"/></linearGradient>
<linearGradient id="p42" gradientUnits="userSpaceOnUse" x1="338.0" y1="0" x2="362.0" y2="0"><stop offset="0.0000" stop-color="#b8d828" stop-opacity="0.7"/><stop offset="0.5833" stop-color="#a8d828" stop-opacity="0.5"/><stop offset="1.0000" stop-color="#a0e040" stop-opacity="0"/></linearGradient>
<linearGradient id="p43" gradientUnits="userSpaceOnUse" x1="0" y1="460.0" x2="0" y2="478.8"><stop offset="0.0000" stop-color="#a0f0a0" stop-opacity="0"/><stop offset="0.2660" stop-color="#50c030"/><stop offset="1.0000" stop-color="#38a820"/></linearGradient>
<linearGradient id="p44" gradientUnits="userSpaceOnUse" x1="447.5" y1="0" x2="456.0" y2="0"><stop offset="0.0000" stop-color="#0a160a"/><stop offset="0.5294" stop-color="#101c10"/><stop offset="1.0000" stop-color="#0a160a"/></linearGradient>
<linearGradient id="p45" gradientUnits="userSpaceOnUse" x1="0" y1="350.0" x2="0" y2="381.0"><stop offset="0.0000" stop-color="#30a030" stop-opacity="0.2"/><stop offset="0.1613" stop-color="#30f030"/><stop offset="0.3226" stop-color="#50ff40"/><stop offset="0.4839" stop-color="#40f840"/><stop offset="0.6129" stop-color="#90ffb0"/><stop offset="0.7419" stop-color="#c8fff0"/><stop offset="0.8710" stop-color="#80ffa0"/><stop offset="1.0000" stop-color="#10f020"/></linearGradient>
<linearGradient id="p46" gradientUnits="userSpaceOnUse" x1="0" y1="380.0" x2="0" y2="462.0"><stop offset="0.0000" stop-color="#08f818"/><stop offset="0.1829" stop-color="#00ee10"/><stop offset="0.4268" stop-color="#00d808"/><stop offset="0.6707" stop-color="#04d004"/><stop offset="0.8171" stop-color="#18d818"/><stop offset="0.9024" stop-color="#50f060"/><stop offset="1.0000" stop-color="#a0f0b0"/></linearGradient>
<linearGradient id="p47" gradientUnits="userSpaceOnUse" x1="0" y1="459.0" x2="0" y2="478.8"><stop offset="0.0000" stop-color="#a0f0b0" stop-opacity="0"/><stop offset="0.2525" stop-color="#30b030"/><stop offset="1.0000" stop-color="#18a018"/></linearGradient>
<linearGradient id="p48" gradientUnits="userSpaceOnUse" x1="569.0" y1="0" x2="596.0" y2="0"><stop offset="0.0000" stop-color="#0e1a10"/><stop offset="0.2593" stop-color="#1a281c"/><stop offset="0.6296" stop-color="#263428"/><stop offset="1.0000" stop-color="#1c1c1c"/></linearGradient>
<linearGradient id="p49" gradientUnits="userSpaceOnUse" x1="0" y1="262.0" x2="0" y2="292.0"><stop offset="0.0000" stop-color="#909090" stop-opacity="0"/><stop offset="0.3333" stop-color="#a0a0a0" stop-opacity="0.7"/><stop offset="1.0000" stop-color="#808080" stop-opacity="0"/></linearGradient>
<filter id="tb" x="-5%" y="-20%" width="110%" height="140%"><feGaussianBlur stdDeviation="0.35"/></filter>
<clipPath id="inclip"><rect x="776" y="588.6" width="151.70000000000005" height="146.5"/></clipPath>
<filter id="ib" x="-10%" y="-10%" width="120%" height="120%"><feGaussianBlur stdDeviation="0.8"/></filter>
<filter id="ib3" x="-50%" y="-50%" width="200%" height="200%"><feGaussianBlur stdDeviation="3"/></filter>
<filter id="ib2" x="-50%" y="-50%" width="200%" height="200%"><feGaussianBlur stdDeviation="1.6"/></filter>
<radialGradient id="disc" cx="0.48" cy="0.45" r="0.56"><stop offset="0" stop-color="#d2d0c8"/><stop offset="0.75" stop-color="#c8c6be"/><stop offset="1" stop-color="#a8a69e"/></radialGradient>
<radialGradient id="inbg" cx="0.6" cy="0.3" r="0.8"><stop offset="0" stop-color="#24282e"/><stop offset="1" stop-color="#121418"/></radialGradient>
<radialGradient id="chipg" cx="0.5" cy="0.5" r="0.6"><stop offset="0" stop-color="#ffffff"/><stop offset="0.55" stop-color="#fffdf6"/><stop offset="0.8" stop-color="#fff4d8"/><stop offset="1" stop-color="#ffe8c8"/></radialGradient></defs>
<rect width="1345" height="1080" fill="#fff"/>
<rect x="72.5" y="6.9" width="519.5" height="467.90000000000003" fill="#3a2a20"/>
<g clip-path="url(#topclip)"><g filter="url(#pb)"><rect x="68.5" y="2.9" width="527.5" height="241.9" fill="#141414"/><rect x="68.5" y="40.0" width="527.5" height="42.0" fill="url(#p1)"/><rect x="84.0" y="2.9" width="119.0" height="97.1" fill="url(#p2)"/><rect x="84.0" y="2.9" width="2.2" height="241.9" fill="#0c0c0c" opacity="0.8"/><rect x="205.0" y="2.9" width="113.0" height="129.1" fill="url(#p3)"/><rect x="205.0" y="2.9" width="2.2" height="241.9" fill="#0c0c0c" opacity="0.8"/><rect x="336.0" y="2.9" width="112.0" height="109.1" fill="url(#p4)"/><rect x="336.0" y="2.9" width="2.2" height="241.9" fill="#0c0c0c" opacity="0.8"/><rect x="450.0" y="2.9" width="121.0" height="100.1" fill="url(#p5)"/><rect x="450.0" y="2.9" width="2.2" height="241.9" fill="#0c0c0c" opacity="0.8"/><rect x="300.0" y="42.0" width="296.0" height="38.0" fill="url(#p7)" mask="url(#bandmask)"/><rect x="68.5" y="2.9" width="527.5" height="57.1" fill="url(#p8)"/><rect x="68.5" y="2.9" width="16.5" height="241.9" fill="url(#p9)"/><rect x="202.5" y="2.9" width="3.0" height="241.9" fill="#0e0e0e"/><rect x="318.0" y="2.9" width="18.0" height="241.9" fill="url(#p10)"/><rect x="318.0" y="90.0" width="18.0" height="154.8" fill="url(#p11)" opacity="0.7"/><rect x="447.5" y="2.9" width="3.0" height="241.9" fill="#0c0c0c"/><rect x="570.5" y="2.9" width="25.5" height="241.9" fill="url(#p12)"/><rect x="570.5" y="42.0" width="25.5" height="36.0" fill="url(#p13)"/><rect x="570.5" y="76.0" width="25.5" height="168.8" fill="#262626" opacity="0.8"/><g fill="none" stroke="#b0603a" stroke-width="2" opacity="0.55" filter="url(#pb2)"><path d="M92 118 C96 95 100 80 112 64"/><path d="M96 118 C102 100 108 88 118 80"/><path d="M100 118 C108 104 116 96 124 92"/><path d="M90 118 C90 100 94 86 100 76"/></g><path d="M88 118 C92 96 100 76 110 70 C116 86 118 100 122 116 Z" fill="#9a5436" opacity="0.3" filter="url(#pb2)"/><path d="M104 50 C98 60 94 80 92 100" fill="none" stroke="#a0a0a0" stroke-width="1.2" opacity="0.6"/><rect x="85.0" y="92.0" width="118.0" height="29.0" fill="url(#p14)"/><path d="M86.0 118.0 H202.5 V201.0 Q202.5 210.0 188.1 210.0 H100.4 Q86.0 210.0 86.0 201.0 Z" fill="url(#p15)"/><ellipse cx="144" cy="205" rx="52" ry="5" fill="none" stroke="#b8aaa0" stroke-width="2.5" opacity="0.8"/><ellipse cx="118" cy="205" rx="4" ry="2.5" fill="#fff" opacity="0.9"/><rect x="88.0" y="211.0" width="115.0" height="33.8" fill="url(#p16)"/><rect x="302.0" y="92.0" width="16.0" height="39.0" fill="url(#p17)" filter="url(#pb2)"/><rect x="206.0" y="127.0" width="112.0" height="18.0" fill="url(#p18)"/><path d="M206.0 144.0 H318.0 V193.0 Q318.0 201.0 305.2 201.0 H218.8 Q206.0 201.0 206.0 193.0 Z" fill="url(#p19)"/><rect x="250.0" y="150.0" width="12.0" height="36.0" fill="#e06050" opacity="0.35"/><rect x="207.0" y="196.0" width="110.0" height="13.0" fill="url(#p20)"/><ellipse cx="262" cy="203" rx="30" ry="3" fill="#606060" opacity="0.7"/><rect x="205.0" y="208.0" width="113.0" height="36.8" fill="url(#p21)"/><rect x="336.0" y="80.0" width="112.0" height="33.0" fill="url(#p22)"/><path d="M336.0 111.0 H447.5 V195.0 Q447.5 203.0 434.7 203.0 H348.8 Q336.0 203.0 336.0 195.0 Z" fill="url(#p23)"/><ellipse cx="392" cy="199" rx="34" ry="3.5" fill="#8a8a90" opacity="0.7"/><rect x="336.0" y="205.0" width="111.5" height="39.8" fill="url(#p24)"/><rect x="450.5" y="98.0" width="120.0" height="21.0" fill="url(#p25)"/><path d="M450.5 118.0 H570.5 V193.0 Q570.5 202.0 556.1 202.0 H464.9 Q450.5 202.0 450.5 193.0 Z" fill="url(#p26)"/><ellipse cx="515" cy="204" rx="40" ry="3.5" fill="#7080a0" opacity="0.6"/><rect x="450.5" y="207.0" width="120.0" height="37.8" fill="url(#p27)"/></g></g><g clip-path="url(#botclip)"><g filter="url(#pb)"><rect x="68.5" y="236.8" width="527.5" height="242.0" fill="#0e0e0e"/><rect x="108.0" y="236.8" width="115.0" height="128.2" fill="url(#p28)"/><rect x="223.0" y="236.8" width="111.0" height="155.2" fill="url(#p29)"/><rect x="338.0" y="236.8" width="110.0" height="123.2" fill="url(#p30)"/><rect x="456.0" y="236.8" width="113.0" height="119.2" fill="url(#p31)"/><rect x="68.5" y="258.0" width="527.5" height="38.0" fill="url(#p32)"/><ellipse cx="426" cy="276" rx="6" ry="8" fill="#e0e0e0" opacity="0.6" filter="url(#pb2)"/><ellipse cx="452" cy="276" rx="5" ry="7" fill="#e0e0e0" opacity="0.5" filter="url(#pb2)"/><ellipse cx="523" cy="276" rx="8" ry="9" fill="#e0e0e0" opacity="0.7" filter="url(#pb2)"/><ellipse cx="180" cy="272" rx="6" ry="8" fill="#e0e0e0" opacity="0.4" filter="url(#pb2)"/><ellipse cx="300" cy="272" rx="6" ry="8" fill="#e0e0e0" opacity="0.45" filter="url(#pb2)"/><rect x="68.5" y="236.8" width="39.5" height="242.0" fill="url(#p33)"/><rect x="66" y="266" width="44" height="20" rx="9" fill="url(#p34)" filter="url(#pb2)"/><rect x="108.0" y="236.8" width="3.0" height="223.2" fill="#c03030" opacity="0.6"/><rect x="222.0" y="236.8" width="3.0" height="223.2" fill="#c03060" opacity="0.6"/><rect x="338.0" y="236.8" width="5.0" height="223.2" fill="#30e040" opacity="0.55"/><rect x="442.0" y="236.8" width="6.0" height="223.2" fill="#30e040" opacity="0.55"/><rect x="456.0" y="236.8" width="5.0" height="223.2" fill="#30e040" opacity="0.5"/><rect x="563.0" y="236.8" width="6.0" height="223.2" fill="#30e040" opacity="0.6"/><path d="M112 366 C118 340 125 325 135 318 C140 325 146 335 150 348 C160 340 175 338 190 345 C200 330 206 315 214 305 C216 330 218 350 222 366 Z" fill="#a02a22" opacity="0.35" filter="url(#pb2)"/><g fill="none" stroke="#ff4a34" stroke-width="1.8" opacity="0.85"><path d="M112 352 C116 335 119 322 124 314"/><path d="M130 362 C136 348 144 338 156 330"/><path d="M204 356 C208 340 212 325 218 318"/><path d="M114 360 C118 340 122 325 128 312"/><path d="M118 362 C124 345 130 330 138 318"/><path d="M122 362 C130 350 138 340 146 334"/><path d="M126 364 C134 355 142 348 152 344"/><path d="M150 356 C165 350 180 345 196 350"/><path d="M176 360 C190 340 200 320 212 300"/><path d="M196 346 C205 345 214 348 220 352"/><path d="M112 368 C140 364 170 362 200 360"/></g><rect x="246" y="322" width="16" height="44" rx="4" fill="#50f050" opacity="0.6" filter="url(#pb2)"/><rect x="312" y="322" width="16" height="50" rx="4" fill="#50f450" opacity="0.65" filter="url(#pb2)"/><rect x="322" y="350" width="6" height="18" fill="#a0ff60" opacity="0.6" filter="url(#pb2)"/><rect x="300" y="346" width="12" height="22" fill="#c03020" opacity="0.6" filter="url(#pb2)"/><ellipse cx="421" cy="343" rx="5" ry="8" fill="#b06030" opacity="0.6" filter="url(#pb2)"/><ellipse cx="470" cy="348" rx="5" ry="8" fill="#b06030" opacity="0.6" filter="url(#pb2)"/><ellipse cx="540" cy="336" rx="5" ry="8" fill="#b06030" opacity="0.6" filter="url(#pb2)"/><path d="M109.0 361.0 H223.0 V453.0 Q223.0 462.0 208.6 462.0 H123.4 Q109.0 462.0 109.0 453.0 Z" fill="url(#p35)"/><rect x="109.0" y="455.0" width="114.0" height="23.8" fill="url(#p36)"/><rect x="223.0" y="380.0" width="111.0" height="17.0" fill="url(#p37)"/><path d="M223.0 396.0 H334.0 V454.0 Q334.0 462.0 321.2 462.0 H235.8 Q223.0 462.0 223.0 454.0 Z" fill="url(#p38)"/><rect x="223.0" y="458.0" width="111.0" height="20.8" fill="url(#p39)"/><rect x="333.5" y="236.8" width="4.5" height="242.0" fill="#0c0c0c"/><rect x="338.0" y="350.0" width="110.0" height="33.0" fill="url(#p40)"/><path d="M338.0 382.0 H448.0 V455.0 Q448.0 464.0 433.6 464.0 H352.4 Q338.0 464.0 338.0 455.0 Z" fill="url(#p41)"/><rect x="338.0" y="382.0" width="24.0" height="70.0" fill="url(#p42)"/><rect x="338.0" y="460.0" width="110.0" height="18.8" fill="url(#p43)"/><rect x="447.5" y="236.8" width="8.5" height="242.0" fill="url(#p44)"/><rect x="456.0" y="350.0" width="113.0" height="31.0" fill="url(#p45)"/><path d="M456.0 380.0 H569.0 V453.0 Q569.0 462.0 554.6 462.0 H470.4 Q456.0 462.0 456.0 453.0 Z" fill="url(#p46)"/><rect x="456.0" y="459.0" width="113.0" height="19.8" fill="url(#p47)"/><ellipse cx="166" cy="458" rx="54" ry="6" fill="none" stroke="#ffd0c0" stroke-width="2" opacity="0.55"/><ellipse cx="278.5" cy="458" rx="52" ry="6" fill="none" stroke="#ffc0c8" stroke-width="2" opacity="0.5"/><ellipse cx="393" cy="458" rx="52" ry="6" fill="none" stroke="#d0ffd0" stroke-width="2" opacity="0.55"/><ellipse cx="512.5" cy="458" rx="54" ry="6" fill="none" stroke="#d0ffe0" stroke-width="2" opacity="0.5"/><rect x="569.0" y="236.8" width="27.0" height="242.0" fill="url(#p48)"/><rect x="569.0" y="262.0" width="27.0" height="30.0" fill="url(#p49)"/></g></g>
<g filter="url(#tb)">
<text font-family="Liberation Sans, sans-serif" font-size="28.4" font-weight="bold" fill="#fff" x="109.2" y="43.2" textLength="72.5" lengthAdjust="spacingAndGlyphs">CdSe</text>
<text font-family="Liberation Sans, sans-serif" font-size="28.4" font-weight="bold" fill="#fff" x="124.6" y="77.5" textLength="41.9" lengthAdjust="spacingAndGlyphs">OA</text>
<text font-family="Liberation Sans, sans-serif" font-size="28.4" font-weight="bold" fill="#fff" x="227.5" y="43.2" textLength="72.5" lengthAdjust="spacingAndGlyphs">CdSe</text>
<text font-family="Liberation Sans, sans-serif" font-size="23.5" font-weight="bold" fill="#fff" x="184.9" y="72.6" textLength="157" lengthAdjust="spacingAndGlyphs">Encapsulated</text>
<text font-family="Liberation Sans, sans-serif" font-size="28.4" font-weight="bold" fill="#fff" x="367.4" y="43.2" textLength="44.6" lengthAdjust="spacingAndGlyphs">InP</text>
<text font-family="Liberation Sans, sans-serif" font-size="28.4" font-weight="bold" fill="#fff" x="370.3" y="77.5" textLength="41.9" lengthAdjust="spacingAndGlyphs">OA</text>
<text font-family="Liberation Sans, sans-serif" font-size="28.4" font-weight="bold" fill="#fff" x="483.8" y="43.2" textLength="44.6" lengthAdjust="spacingAndGlyphs">InP</text>
<text font-family="Liberation Sans, sans-serif" font-size="23.5" font-weight="bold" fill="#fff" x="428.4" y="72.6" textLength="157" lengthAdjust="spacingAndGlyphs">Encapsulated</text>
<text font-family="Liberation Sans, sans-serif" font-size="26.9" font-weight="bold" font-style="italic" fill="#fff" x="220.4" y="220.7" textLength="226" lengthAdjust="spacingAndGlyphs">Under room light</text>
<text font-family="Liberation Sans, sans-serif" font-size="26.8" font-weight="bold" font-style="italic" fill="#fff" x="216.4" y="453.1" textLength="235" lengthAdjust="spacingAndGlyphs">Under 254 nm UV</text>
</g>
<g fill="none" stroke-width="3.2" stroke-linejoin="round">
<polyline stroke="#ff0000" stroke-width="3.4" stroke-linecap="round" stroke-dasharray="4 8.7" points="777.7,398 783.2,398.2 790.8,398.4 799.8,398.7 809.6,399 819.5,399.2 828.7,399.3 837.5,399.2 846.4,399.1 855.4,398.8 864.4,398.5 873.4,398.3 882.4,398 891.4,397.8 900.3,397.6 909.2,397.4 918.2,397.2 927.1,396.9 936.1,396.6 945.1,396.2 954.1,395.8 963.2,395.3 972.2,394.8 981.1,394.4 989.8,393.9 998.5,393.5 1007.1,393.1 1015.6,392.8 1023.9,392.4 1032.1,391.9 1040,391.3 1047.6,390.5 1054.9,389.7 1062,388.7 1069,387.7 1076,386.7 1083.1,385.6 1090.1,384.5 1096.9,383.3 1103.7,382.1 1110.7,380.9 1118.1,379.6 1126.1,378.4 1135,377.2 1144.7,376.1 1154.8,374.9 1164.9,373.7 1174.6,372.5 1183.5,371.2 1191.5,369.8 1198.9,368.4 1206,367 1212.8,365.5 1219.6,364 1226.6,362.6 1233.9,361.2 1241.5,359.7 1249,358.2 1256.3,356.8 1263.3,355.4 1269.6,354 1275.4,352.7 1280.7,351.4 1285.6,350.2 1290.2,349 1294.4,347.9 1298.3,346.8 1301.9,345.7 1305.1,344.6 1308,343.5 1310.5,342.5 1312.5,341.7 1314.1,341.1"/>
<polyline stroke="#00ff00" stroke-width="3.4" stroke-linecap="round" stroke-dasharray="4 8.7" points="777.7,399.3 780.3,399.3 783.9,399.4 788.1,399.5 792.7,399.5 797.4,399.5 801.9,399.3 806.3,399.1 810.8,398.8 815.5,398.4 820.1,398 824.5,397.4 828.7,396.6 832.6,395.6 836.3,394.4 839.8,393 843.2,391.6 846.7,390.1 850.2,388.6 853.8,387.1 857.5,385.7 861.1,384.2 864.7,382.6 868.3,380.9 871.7,379.2 875.1,377.4 878.4,375.4 881.6,373.4 884.7,371.3 887.7,369.2 890.5,367.1 893,365 895.4,362.9 897.5,360.8 899.6,358.5 901.7,356.2 903.9,353.6 906.1,350.7 908.4,347.6 910.6,344.4 912.8,341.1 915.1,337.8 917.3,334.8 919.5,332 921.7,329.3 923.9,326.8 926.1,324.2 928.4,321.5 930.8,318.7 933.3,315.7 936,312.6 938.7,309.5 941.4,306.3 944.2,303.1 946.9,299.9 949.6,296.7 952.3,293.4 955,290.1 957.6,286.9 960.3,283.8 963,281.1 965.7,278.7 968.3,276.5 970.9,274.5 973.5,272.6 976.3,270.8 979.1,269 982.1,267.3 985.3,265.6 988.5,264 991.7,262.5 994.9,261.1 997.9,259.6 1000.7,258.2 1003.5,257 1006.1,255.9 1008.7,254.6 1011.3,253.2 1014,251.6 1016.7,249.8 1019.3,247.8 1021.9,245.7 1024.5,243.4 1027.3,240.9 1030.1,238.2 1033.1,235.1 1036.1,231.7 1039.3,228 1042.5,224.4 1045.7,221 1048.9,218 1052,215.6 1055.1,213.6 1058.2,211.9 1061.4,210.2 1064.9,208.4 1068.7,206.2 1073,203.6 1077.6,200.8 1082.5,197.8 1087.5,194.8 1092.5,191.8 1097.4,189 1102.2,186.3 1107,183.5 1111.8,180.8 1116.5,178.2 1121.3,175.6 1126.1,173.2 1130.9,170.8 1135.7,168.5 1140.4,166.3 1145.2,164.2 1150,162.2 1154.8,160.3 1159.6,158.6 1164.4,157.1 1169.2,155.7 1173.9,154.4 1178.7,153.1 1183.5,151.7 1188.3,150.3 1193.1,148.8 1197.8,147.3 1202.6,145.9 1207.4,144.4 1212.2,143 1217,141.5 1221.8,140.1 1226.6,138.6 1231.3,137.2 1236.1,135.7 1240.9,134.4 1245.5,133.2 1249.8,132.1 1254.2,131 1258.8,129.9 1263.8,128.7 1269.6,127.3 1276.8,125.6 1285.3,123.6 1294.3,121.5 1303,119.5 1310.3,117.8 1315.5,116.6"/>
<polyline stroke="#ff0000" points="777.7,368.4 780.2,366 782.7,363.4 785.2,361 787.7,358.7 790.2,356.4 792.7,354.2 795.2,352 797.7,350 800.2,347.9 802.7,345.9 805.2,343.9 807.7,342 810.2,339.9 812.7,337.8 815.2,335.8 817.7,334 820.2,331.8 822.7,329.7 825.2,327.4 827.7,325.2 830.2,322.8 832.7,320.5 835.2,318.2 837.7,316 840.2,313.7 842.7,311.5 845.2,309.5 847.7,307.5 850.2,305.6 852.7,303.8 855.2,302 857.7,300.3 860.2,298.7 862.7,297.1 865.2,295.7 867.7,294.3 870.2,293 872.7,291.6 875.2,290.1 877.7,288.6 880.2,287.1 882.7,285.7 885.2,284.4 887.7,283 890.2,281.7 892.7,280.3 895.2,278.8 897.7,277.5 900.2,276.2 902.7,275 905.2,273.7 907.7,272.4 910.2,271.2 912.7,270 915.2,268.8 917.7,267.6 920.2,266.3 922.7,264.9 925.2,263.4 927.7,262 930.2,260.6 932.7,259.1 935.2,257.6 937.7,256.2 940.2,255 942.7,253.6 945.2,252 947.7,250.5 950.2,249.1 952.7,248.1 955.2,246.8 957.7,245.2 960.2,243 962.7,240.6 965.2,238.8 967.7,236.9 970.2,234.8 972.7,232.3 975.2,230.2 977.7,227.8 980.2,225 982.7,221.6 985.2,218.3 987.7,214.8 990.2,211 992.7,207 995.2,202.7 997.7,198.8 1000.2,195.6 1002.7,192.9 1005.2,190.4 1007.7,188 1010.2,186.2 1012.7,184.9 1015.2,183.8 1017.7,182.6 1020.2,181.6 1022.7,180.9 1025.2,180.2 1027.7,179.3 1030.2,178 1032.7,177.1 1035.2,176.4 1037.7,176.1 1040.2,175.1 1042.7,174.6 1045.2,173.7 1047.7,173 1050.2,172 1052.7,171.4 1055.2,170.7 1057.7,170.1 1060.2,169.2 1062.7,168.2 1065.2,167.9 1067.7,168.1 1070.2,167.6 1072.7,166.8 1075.2,166.3 1077.7,166.3 1080.2,165.9 1082.7,165.2 1085.2,164.7 1087.7,164.7 1090.2,165 1092.7,165.2 1095.2,165.1 1097.7,165.5 1100.2,166.1 1102.7,166.4 1105.2,166.4 1107.7,166.4 1110.2,166.6 1112.7,166.8 1115.2,166.7 1117.7,165.8 1120.2,164.3 1122.7,162.7 1125.2,161.5 1127.7,160.5 1130.2,159.3 1132.7,157.9 1135.2,156.7 1137.7,156.8 1140.2,158.2 1142.7,159.5 1145.2,159.5 1147.7,158.9 1150.2,158.4 1152.7,158 1155.2,157.3 1157.7,156.4 1160.2,156 1162.7,155.9 1165.2,155.9 1167.7,155.7 1170.2,155 1172.7,154.4 1175.2,154.2 1177.7,154.3 1180.2,154.2 1182.7,154.2 1185.2,153.9 1187.7,153.8 1190.2,153.7 1192.7,153.8 1195.2,153.6 1197.7,153.5 1200.2,153.4 1202.7,153.4 1205.2,153.7 1207.7,153.8 1210.2,153.9 1212.7,153.6 1215.2,153.4 1217.7,152.9 1220.2,152.8 1222.7,152.8 1225.2,153.2 1227.7,152.9 1230.2,152.8 1232.7,152.6 1235.2,152.4 1237.7,152.3 1240.2,152.4 1242.7,152.5 1245.2,152.1 1247.7,151.9 1250.2,151.9 1252.7,152.3 1255.2,152.5 1257.7,152.4 1260.2,152 1262.7,151.8 1265.2,151.8 1267.7,151.9 1270.2,151.8 1272.7,151.9 1275.2,152 1277.7,151.6 1280.2,151.2 1282.7,150.8 1285.2,150.9 1287.7,151.1 1290.2,151.5 1292.7,151.5 1295.2,151.4 1297.7,151.5 1300.2,151.4 1302.7,151 1305.2,150.5 1307.7,150.7 1310.2,150.9 1312.7,150.8 1315.2,150.5 1317.7,150.5"/>
<polyline stroke="#00ff00" points="777.7,377.8 780.2,375.1 782.7,372.4 785.2,369.5 787.7,366.7 790.2,364 792.7,361.1 795.2,358.2 797.7,355.1 800.2,352.2 802.7,349 805.2,345.8 807.7,342.3 810.2,338.8 812.7,335.2 815.2,331.5 817.7,327.7 820.2,323.8 822.7,319.8 825.2,315.6 827.7,311.2 830.2,306.5 832.7,301.7 835.2,297 837.7,292.4 840.2,288 842.7,283.8 845.2,279.7 847.7,275.7 850.2,271.7 852.7,267.6 855.2,263.5 857.7,259.8 860.2,256.6 862.7,254.1 865.2,252.3 867.7,251 870.2,249.7 872.7,248.1 875.2,246.4 877.7,244.6 880.2,242.5 882.7,240.4 885.2,238.1 887.7,235.4 890.2,232.5 892.7,229.3 895.2,225.7 897.7,221.6 900.2,217 902.7,212.4 905.2,208.1 907.7,204.5 910.2,201.2 912.7,198.5 915.2,195.9 917.7,193.5 920.2,191.1 922.7,189.1 925.2,187.4 927.7,185.7 930.2,184.1 932.7,182.6 935.2,181.1 937.7,179.3 940.2,177.5 942.7,175.6 945.2,173.7 947.7,171.9 950.2,170.7 952.7,169.7 955.2,168.7 957.7,167.9 960.2,167.1 962.7,166 965.2,165.1 967.7,164.2 970.2,163.5 972.7,163 975.2,162.7 977.7,162.7 980.2,162.3 982.7,162.5 985.2,162.8 987.7,163.7 990.2,163.9 992.7,163.9 995.2,163.9 997.7,163.8 1000.2,163.9 1002.7,163.6 1005.2,163.4 1007.7,163.1 1010.2,163.3 1012.7,163.2 1015.2,162.6 1017.7,161.9 1020.2,161.1 1022.7,160.2 1025.2,158.9 1027.7,158.1 1030.2,157.5 1032.7,156.7 1035.2,155.5 1037.7,154.6 1040.2,154 1042.7,153.5 1045.2,152.5 1047.7,151.6 1050.2,150.9 1052.7,150.6 1055.2,150.3 1057.7,149.5 1060.2,148.7 1062.7,148.2 1065.2,148.4 1067.7,147.9 1070.2,147.5 1072.7,146.8 1075.2,146.7 1077.7,146.4 1080.2,146.2 1082.7,145.8 1085.2,145.5 1087.7,145.2 1090.2,144.8 1092.7,144.5 1095.2,144.3 1097.7,144.2 1100.2,143.9 1102.7,143.6 1105.2,143.4 1107.7,143.1 1110.2,142.8 1112.7,142.6 1115.2,142.5 1117.7,142.7 1120.2,143.2 1122.7,143.7 1125.2,144.2 1127.7,144.4 1130.2,144.2 1132.7,144 1135.2,144 1137.7,144.5 1140.2,143.7 1142.7,142.7 1145.2,142.1 1147.7,141.8 1150.2,141.3 1152.7,141 1155.2,141.2 1157.7,141.5 1160.2,141.6 1162.7,141.4 1165.2,141.2 1167.7,141 1170.2,141 1172.7,140.7 1175.2,140.5 1177.7,140.3 1180.2,140.2 1182.7,140 1185.2,140 1187.7,140.2 1190.2,140.3 1192.7,140.1 1195.2,139.9 1197.7,139.7 1200.2,139.7 1202.7,139.9 1205.2,140.1 1207.7,140 1210.2,139.6 1212.7,139.3 1215.2,139.2 1217.7,138.9 1220.2,138.9 1222.7,138.8 1225.2,139 1227.7,138.9 1230.2,138.8 1232.7,138.4 1235.2,137.8 1237.7,137.7 1240.2,138 1242.7,138 1245.2,137.5 1247.7,137.6 1250.2,137.9 1252.7,138.4 1255.2,138.4 1257.7,138.5 1260.2,138.2 1262.7,138 1265.2,137.6 1267.7,137.1 1270.2,137.2 1272.7,137.8 1275.2,138.1 1277.7,137.9 1280.2,137.6 1282.7,137.7 1285.2,137.7 1287.7,138.1 1290.2,137.5 1292.7,137.4 1295.2,137.4 1297.7,137.6 1300.2,137.1 1302.7,136.9 1305.2,136.9 1307.7,136.8 1310.2,136.4 1312.7,136.1 1315.2,136 1317.7,136.2"/>
</g>
<g stroke-width="3">
<line x1="842.5" y1="58.7" x2="897" y2="58.7" stroke="#ff0000" stroke-width="3.4" stroke-linecap="round" stroke-dasharray="4.2 7.5"/>
<line x1="1015.7" y1="58.7" x2="1073" y2="58.7" stroke="#ff0000"/>
<line x1="842.5" y1="89.3" x2="897" y2="89.3" stroke="#00ff00" stroke-width="3.4" stroke-linecap="round" stroke-dasharray="4.2 7.5"/>
<line x1="1017.7" y1="89.3" x2="1074.4" y2="89.3" stroke="#00ff00"/>
</g>
<g font-family="Liberation Sans, sans-serif" font-size="24.4">
<text transform="translate(903 66.1) scale(1 1.04)">CdSe-OA</text>
<text transform="translate(1084.2 66.1) scale(1 1.04)" textLength="220.5" lengthAdjust="spacingAndGlyphs">CdSe-Encapsulated</text>
<text transform="translate(902.6 96.6) scale(1 1.04)" textLength="81" lengthAdjust="spacingAndGlyphs">InP-OA</text>
<text transform="translate(1077.8 96.6) scale(1 1.04)" textLength="196.5" lengthAdjust="spacingAndGlyphs">InP-Encapsulated</text>
</g>
<rect x="777.6" y="34.1" width="542.9" height="401.2" fill="none" stroke="#000" stroke-width="3" stroke-linejoin="round"/>
<path d="M777.6 399h8.5 M777.6 326.2h8.5 M777.6 253.4h8.5 M777.6 180.5h8.5 M777.6 107.7h8.5 M777.6 34.9h8.5 M777.6 362.6h4.8 M777.6 289.8h4.8 M777.6 216.9h4.8 M777.6 144.1h4.8 M777.6 71.3h4.8 M777.6 435.4h4.8 M778 435.3v-14 M886.5 435.3v-14 M994.9 435.3v-14 M1103.3 435.3v-14 M1211.8 435.3v-14 M1320.2 435.3v-14 M832.2 435.3v-7.5 M940.7 435.3v-7.5 M1049.1 435.3v-7.5 M1157.6 435.3v-7.5 M1266 435.3v-7.5" stroke="#000" stroke-width="3" fill="none"/>
<g font-family="Liberation Sans, sans-serif" font-size="29.4" text-anchor="end">
<text transform="translate(767.8 407.6) scale(1 1.065)">0</text>
<text transform="translate(767.8 334.8) scale(1 1.065)">20</text>
<text transform="translate(767.8 262) scale(1 1.065)">40</text>
<text transform="translate(767.8 189.1) scale(1 1.065)">60</text>
<text transform="translate(767.8 115.8) scale(1 1.065)">80</text>
<text transform="translate(767.8 42) scale(1 1.065)">100</text>
</g>
<g font-family="Liberation Sans, sans-serif" font-size="29.2" text-anchor="middle">
<text transform="translate(777.2 473.7) scale(1 1.065)">300</text>
<text transform="translate(885.7 473.7) scale(1 1.065)">400</text>
<text transform="translate(994.1 473.7) scale(1 1.065)">500</text>
<text transform="translate(1102.5 473.7) scale(1 1.065)">600</text>
<text transform="translate(1211 473.7) scale(1 1.065)">700</text>
<text transform="translate(1319.5 473.7) scale(1 1.065)">800</text>
</g>
<text font-family="Liberation Sans, sans-serif" font-size="30.3" transform="translate(934.9 515.9) scale(1 1.035)">Wavelength (nm)</text>
<text font-family="Liberation Sans, sans-serif" font-size="30.3" transform="translate(685.9 375.7) rotate(-90) scale(1 1.035)">Transmittance (%)</text>
<g clip-path="url(#loc)"><g filter="url(#bl1)"><rect x="137" y="620" width="350" height="4" fill="url(#c0)"/><rect x="137" y="623" width="350" height="4" fill="url(#c1)"/><rect x="137" y="626" width="350" height="4" fill="url(#c2)"/><rect x="137" y="629" width="350" height="4" fill="url(#c3)"/><rect x="137" y="632" width="350" height="4" fill="url(#c4)"/><rect x="137" y="635" width="350" height="4" fill="url(#c5)"/><rect x="137" y="638" width="350" height="4" fill="url(#c6)"/><rect x="137" y="641" width="350" height="4" fill="url(#c7)"/><rect x="137" y="644" width="350" height="4" fill="url(#c8)"/><rect x="137" y="647" width="350" height="4" fill="url(#c9)"/><rect x="137" y="650" width="350" height="4" fill="url(#c10)"/><rect x="137" y="653" width="350" height="4" fill="url(#c11)"/><rect x="137" y="656" width="350" height="4" fill="url(#c12)"/><rect x="137" y="659" width="350" height="4" fill="url(#c13)"/><rect x="137" y="662" width="350" height="4" fill="url(#c14)"/><rect x="137" y="665" width="350" height="4" fill="url(#c15)"/><rect x="137" y="668" width="350" height="4" fill="url(#c16)"/><rect x="137" y="671" width="350" height="4" fill="url(#c17)"/><rect x="137" y="674" width="350" height="4" fill="url(#c18)"/><rect x="137" y="677" width="350" height="4" fill="url(#c19)"/><rect x="137" y="680" width="350" height="4" fill="url(#c20)"/><rect x="137" y="683" width="350" height="4" fill="url(#c21)"/><rect x="137" y="686" width="350" height="4" fill="url(#c22)"/><rect x="137" y="689" width="350" height="4" fill="url(#c23)"/><rect x="137" y="692" width="350" height="4" fill="url(#c24)"/><rect x="137" y="695" width="350" height="4" fill="url(#c25)"/><rect x="137" y="698" width="350" height="4" fill="url(#c26)"/><rect x="137" y="701" width="350" height="4" fill="url(#c27)"/><rect x="137" y="704" width="350" height="4" fill="url(#c28)"/><rect x="137" y="707" width="350" height="4" fill="url(#c29)"/><rect x="137" y="710" width="350" height="4" fill="url(#c30)"/><rect x="137" y="713" width="350" height="4" fill="url(#c31)"/><rect x="137" y="716" width="350" height="4" fill="url(#c32)"/><rect x="137" y="719" width="350" height="4" fill="url(#c33)"/><rect x="137" y="722" width="350" height="4" fill="url(#c34)"/><rect x="137" y="725" width="350" height="4" fill="url(#c35)"/><rect x="137" y="728" width="350" height="4" fill="url(#c36)"/><rect x="137" y="731" width="350" height="4" fill="url(#c37)"/><rect x="137" y="734" width="350" height="4" fill="url(#c38)"/><rect x="137" y="737" width="350" height="4" fill="url(#c39)"/><rect x="137" y="740" width="350" height="4" fill="url(#c40)"/><rect x="137" y="743" width="350" height="4" fill="url(#c41)"/><rect x="137" y="746" width="350" height="4" fill="url(#c42)"/><rect x="137" y="749" width="350" height="4" fill="url(#c43)"/><rect x="137" y="752" width="350" height="4" fill="url(#c44)"/><rect x="137" y="755" width="350" height="4" fill="url(#c45)"/><rect x="137" y="758" width="350" height="4" fill="url(#c46)"/><rect x="137" y="761" width="350" height="4" fill="url(#c47)"/><rect x="137" y="764" width="350" height="4" fill="url(#c48)"/><rect x="137" y="767" width="350" height="4" fill="url(#c49)"/><rect x="137" y="770" width="350" height="4" fill="url(#c50)"/><rect x="137" y="773" width="350" height="4" fill="url(#c51)"/><rect x="137" y="776" width="350" height="4" fill="url(#c52)"/><rect x="137" y="779" width="350" height="4" fill="url(#c53)"/><rect x="137" y="782" width="350" height="4" fill="url(#c54)"/><rect x="137" y="785" width="350" height="4" fill="url(#c55)"/><rect x="137" y="788" width="350" height="4" fill="url(#c56)"/><rect x="137" y="791" width="350" height="4" fill="url(#c57)"/><rect x="137" y="794" width="350" height="4" fill="url(#c58)"/><rect x="137" y="797" width="350" height="4" fill="url(#c59)"/><rect x="137" y="800" width="350" height="4" fill="url(#c60)"/><rect x="137" y="803" width="350" height="4" fill="url(#c61)"/><rect x="137" y="806" width="350" height="4" fill="url(#c62)"/><rect x="137" y="809" width="350" height="4" fill="url(#c63)"/><rect x="137" y="812" width="350" height="4" fill="url(#c64)"/><rect x="137" y="815" width="350" height="4" fill="url(#c65)"/><rect x="137" y="818" width="350" height="4" fill="url(#c66)"/><rect x="137" y="821" width="350" height="4" fill="url(#c67)"/><rect x="137" y="824" width="350" height="4" fill="url(#c68)"/><rect x="137" y="827" width="350" height="4" fill="url(#c69)"/><rect x="137" y="830" width="350" height="4" fill="url(#c70)"/><rect x="137" y="833" width="350" height="4" fill="url(#c71)"/><rect x="137" y="836" width="350" height="4" fill="url(#c72)"/><rect x="137" y="839" width="350" height="4" fill="url(#c73)"/><rect x="137" y="842" width="350" height="4" fill="url(#c74)"/><rect x="137" y="845" width="350" height="4" fill="url(#c75)"/><rect x="137" y="848" width="350" height="4" fill="url(#c76)"/><rect x="137" y="851" width="350" height="4" fill="url(#c77)"/><rect x="137" y="854" width="350" height="4" fill="url(#c78)"/><rect x="137" y="857" width="350" height="4" fill="url(#c79)"/><rect x="137" y="860" width="350" height="4" fill="url(#c80)"/><rect x="137" y="863" width="350" height="4" fill="url(#c81)"/><rect x="137" y="866" width="350" height="4" fill="url(#c82)"/><rect x="137" y="869" width="350" height="4" fill="url(#c83)"/><rect x="137" y="872" width="350" height="4" fill="url(#c84)"/><rect x="137" y="875" width="350" height="4" fill="url(#c85)"/><rect x="137" y="878" width="350" height="4" fill="url(#c86)"/><rect x="137" y="881" width="350" height="4" fill="url(#c87)"/><rect x="137" y="884" width="350" height="4" fill="url(#c88)"/><rect x="137" y="887" width="350" height="4" fill="url(#c89)"/><rect x="137" y="890" width="350" height="4" fill="url(#c90)"/><rect x="137" y="893" width="350" height="4" fill="url(#c91)"/><rect x="137" y="896" width="350" height="4" fill="url(#c92)"/><rect x="137" y="899" width="350" height="4" fill="url(#c93)"/><rect x="137" y="902" width="350" height="4" fill="url(#c94)"/><rect x="137" y="905" width="350" height="4" fill="url(#c95)"/><rect x="137" y="908" width="350" height="4" fill="url(#c96)"/><rect x="137" y="911" width="350" height="4" fill="url(#c97)"/><rect x="137" y="914" width="350" height="4" fill="url(#c98)"/><rect x="137" y="917" width="350" height="4" fill="url(#c99)"/><rect x="137" y="920" width="350" height="4" fill="url(#c100)"/><rect x="137" y="923" width="350" height="4" fill="url(#c101)"/><rect x="137" y="926" width="350" height="4" fill="url(#c102)"/><rect x="137" y="929" width="350" height="4" fill="url(#c103)"/><rect x="137" y="932" width="350" height="4" fill="url(#c104)"/><rect x="137" y="935" width="350" height="4" fill="url(#c105)"/><rect x="137" y="938" width="350" height="4" fill="url(#c106)"/><rect x="137" y="941" width="350" height="4" fill="url(#c107)"/><rect x="137" y="944" width="350" height="4" fill="url(#c108)"/><rect x="137" y="947" width="350" height="4" fill="url(#c109)"/><rect x="137" y="950" width="350" height="4" fill="url(#c110)"/><rect x="137" y="953" width="350" height="4" fill="url(#c111)"/><rect x="137" y="956" width="350" height="4" fill="url(#c112)"/><rect x="137" y="959" width="350" height="4" fill="url(#c113)"/><rect x="137" y="962" width="350" height="4" fill="url(#c114)"/><rect x="137" y="965" width="350" height="4" fill="url(#c115)"/><rect x="137" y="968" width="350" height="4" fill="url(#c116)"/><rect x="137" y="971" width="350" height="4" fill="url(#c117)"/><rect x="137" y="974" width="350" height="4" fill="url(#c118)"/><rect x="137" y="977" width="350" height="4" fill="url(#c119)"/><rect x="137" y="980" width="350" height="4" fill="url(#c120)"/><rect x="137" y="983" width="350" height="4" fill="url(#c121)"/><rect x="137" y="986" width="350" height="4" fill="url(#c122)"/><rect x="137" y="989" width="350" height="4" fill="url(#c123)"/></g></g>
<path d="M219.3 989.1 L219.3 989.1 L219.3 989.1 L219.2 989.1 L219.2 989.1 L219.2 989.1 L219.1 989.1 L219.1 989.1 L219.1 989.1 L219 989.1 L219 989.1 L219 989.2 L218.9 989.2 L218.9 989.2 L218.8 989.2 L218.8 989.2 L218.7 989.2 L218.6 989.2 L218.6 989.2 L218.5 989.2 L218.4 989.2 L218.3 989.2 L218.2 989.1 L218.1 989.1 L218 989 L217.8 989 L217.7 988.9 L217.5 988.7 L217.3 988.6 L217.1 988.4 L216.8 988.2 L216.5 988 L216.2 987.8 L215.9 987.5 L215.5 987.2 L215.1 986.8 L214.7 986.5 L214.2 986.1 L213.7 985.7 L213.1 985.2 L212.5 984.7 L211.7 984.1 L211 983.5 L210.1 982.8 L209.3 982.1 L208.3 981.2 L207.3 980.3 L206.2 979.3 L205 978.1 L203.7 976.9 L202.4 975.4 L200.9 973.6 L199.3 971.4 L197.5 968.8 L195.5 965.7 L193.4 962 L191.1 957.8 L188.6 952.8 L185.9 947 L183 940.3 L179.9 932.5 L176.5 923.6 L172.8 913.6 L169.2 902.3 L165.5 889.6 L161.7 875.7 L158.1 860.5 L154.5 844 L150.9 826.4 L147.7 808.4 L144.8 789.9 L142.3 771 L140.4 752.6 L139.1 734.8 L138.3 717.4 L138.4 701 L139.2 685.7 L140.7 671.4 L143.1 658.7 L146.4 647.8 L150.4 638.6 L155 631.3 L160.2 626.3 L165.9 623.3 L171.8 621.7 L178 621.6 L184.4 623 L190.8 625 L197.2 627.6 L203.7 630.7 L210.1 634 L216.2 637.5 L222.3 641.1 L228.2 644.8 L234.1 648.7 L239.9 652.7 L245.7 656.9 L251.4 661.2 L257.2 665.7 L262.9 670.2 L268.6 674.9 L274.2 679.6 L279.9 684.4 L285.6 689.3 L291.2 694.2 L296.9 699.2 L302.6 704.3 L308.2 709.3 L313.9 714.5 L319.6 719.6 L325.2 724.8 L330.8 729.9 L336.5 735.1 L342.1 740.3 L347.7 745.4 L353.2 750.5 L358.7 755.6 L364.2 760.7 L369.6 765.7 L374.9 770.7 L380.2 775.6 L385.4 780.4 L390.5 785.2 L395.6 789.9 L400.5 794.4 L405.3 798.9 L410 803.3 L414.6 807.5 L419 811.6 L423.2 815.5 L427.2 819.2 L431 822.8 L434.6 826.2 L438.2 829.4 L441.5 832.6 L444.7 835.5 L447.7 838.3 L450.5 840.8 L453.1 843.2 L455.5 845.5 L457.8 847.6 L459.9 849.6 L461.8 851.4 L463.6 853.1 L465.3 854.6 L466.9 856.1 L468.3 857.4 L469.6 858.6 L470.9 859.8 L472 860.8 L473.1 861.9 L474.1 862.8 L475.1 863.7 L476 864.6 L476.9 865.4 L477.6 866.1 L478.4 866.8 L479.1 867.4 L479.7 868 L480.3 868.5 L480.8 869 L481.3 869.4 L481.7 869.8 L482.1 870.2 L482.5 870.5 L482.8 870.9 L483.1 871.1 L483.4 871.4 L483.6 871.6 L483.8 871.8 L484 872 L484.1 872.1 L484.3 872.2 L484.4 872.4 L484.6 872.5 L484.7 872.6 L484.8 872.7 L484.9 872.8 L485 872.9 L485.1 873 L485.2 873.1 L485.4 873.3 L485.6 873.4 L485.7 873.6 L485.8 873.6 L485.8 873.7 L485.8 873.7 Z" fill="none" stroke="#000" stroke-width="1.2" stroke-linejoin="round"/>
<rect x="136.4" y="592.2" width="380.8" height="399.1" fill="none" stroke="#000" stroke-width="3" stroke-linejoin="round"/>
<path d="M136.4 902.6h14 M136.4 814h14 M136.4 725.3h14 M136.4 636.7h14 M231.6 991.3v-14.5 M326.7 991.3v-14.5 M421.8 991.3v-14.5" stroke="#000" stroke-width="3" fill="none"/>
<g font-family="Liberation Sans, sans-serif" font-size="29.7" text-anchor="end">
<text transform="translate(119.5 999.8) scale(1 1.05)">0.0</text>
<text transform="translate(119.5 911.1) scale(1 1.05)">0.2</text>
<text transform="translate(119.5 822.5) scale(1 1.05)">0.4</text>
<text transform="translate(119.5 733.8) scale(1 1.05)">0.6</text>
<text transform="translate(119.5 645.2) scale(1 1.05)">0.8</text>
</g>
<g font-family="Liberation Sans, sans-serif" font-size="29.7" text-anchor="middle">
<text transform="translate(135 1030.2) scale(1 1.05)">0.0</text>
<text transform="translate(230.5 1030.2) scale(1 1.05)">0.2</text>
<text transform="translate(325.3 1030.2) scale(1 1.05)">0.4</text>
<text transform="translate(421.1 1030.2) scale(1 1.05)">0.6</text>
<text transform="translate(516.7 1030.2) scale(1 1.05)">0.8</text>
</g>
<text font-family="Liberation Sans, sans-serif" font-size="30" transform="translate(289.6 1075.5) scale(1 1.07)">CIE <tspan font-style="italic">x</tspan></text>
<text font-family="Liberation Sans, sans-serif" font-size="30" transform="translate(59.6 847.1) rotate(-90) scale(1 1.07)">CIE <tspan font-style="italic">y</tspan></text>
<text font-family="Liberation Sans, sans-serif" font-size="28.5" font-weight="bold" font-style="italic" transform="translate(376.9 627.3) scale(1 1.06)">@ 60 mA</text>
<text font-family="Liberation Sans, sans-serif" font-size="32.9" font-weight="bold" x="222" y="893.2">Our WLED</text>
<path d="M304.6 817.7 L308.8 828.9 L320.7 829.4 L311.4 836.8 L314.5 848.3 L304.6 841.7 L294.7 848.3 L297.8 836.8 L288.5 829.4 L300.4 828.9 Z" fill="#fff" stroke="#ff0000" stroke-width="5" stroke-linejoin="round"/>
<path d="M304.6 817.7 L308.8 828.9 L320.7 829.4 L311.4 836.8 L314.5 848.3 L304.6 841.7 L294.7 848.3 L297.8 836.8 L288.5 829.4 L300.4 828.9 Z" fill="#ff0000" clip-path="url(#sthalf)"/>
<g fill="none" stroke-width="3.1" stroke-linejoin="round"><polyline stroke="#000000" points="778,941.2 780.2,941.2 782.3,941.2 784.5,941.2 786.7,941.2 788.8,941.2 791,941.2 793.2,941.2 795.3,941.2 797.5,941.2 799.7,941.2 801.8,941.2 804,941.2 806.2,941.2 808.3,941.2 810.5,941.2 812.7,941.2 814.8,941.2 817,941.2 819.2,941.1 821.3,941.1 823.5,941.1 825.7,941.1 827.8,941.1 830,941.1 832.1,941.1 834.3,941.1 836.5,941.1 838.6,941.1 840.8,941 843,941 845.1,941 847.3,941 849.5,941 851.6,941 853.8,940.9 856,940.9 858.1,940.9 860.3,940.9 862.5,940.8 864.6,940.8 866.8,940.8 869,940.7 871.1,940.7 873.3,940.7 875.5,940.6 877.6,940.6 879.8,940.5 882,940.5 884.1,940.4 886.3,940.3 888.5,940.2 890.6,940.1 892.8,940 895,939.9 897.1,939.8 899.3,939.6 901.5,939.5 903.6,939.3 905.8,939 908,938.7 910.1,938.4 912.3,938 914.5,937.4 916.6,936.8 918.8,935.9 921,934.7 923.1,933.1 925.3,931 927.5,928.2 929.6,924.6 931.8,920.1 934,914.8 936.1,909.1 938.3,904 940.5,901.2 942.6,901.3 944.8,903.3 946.9,906.6 949.1,910.6 951.3,914.7 953.4,918.6 955.6,922.2 957.8,925.3 959.9,927.9 962.1,930 964.3,931.8 966.4,933.2 968.6,934.4 970.8,935.3 972.9,936 975.1,936.6 977.3,937.1 979.4,937.5 981.6,937.7 983.8,938 985.9,938.1 988.1,938.1 990.3,938.1 992.4,938 994.6,937.8 996.8,937.4 998.9,936.9 1001.1,936.3 1003.3,935.4 1005.4,934.4 1007.6,933.1 1009.8,931.5 1011.9,929.7 1014.1,927.6 1016.3,925.3 1018.4,922.7 1020.6,919.9 1022.8,917 1024.9,913.9 1027.1,910.8 1029.3,907.7 1031.4,904.7 1033.6,901.9 1035.8,899.4 1037.9,897.3 1040.1,895.7 1042.3,894.6 1044.4,894 1046.6,893.9 1048.8,894.3 1050.9,895.1 1053.1,896.3 1055.2,897.8 1057.4,899.6 1059.6,901.7 1061.7,904 1063.9,906.4 1066.1,909 1068.2,911.6 1070.4,914.2 1072.6,916.7 1074.7,919.2 1076.9,921.5 1079.1,923.7 1081.2,925.7 1083.4,927.5 1085.6,929.1 1087.7,930.5 1089.9,931.7 1092.1,932.6 1094.2,933.3 1096.4,933.8 1098.6,933.9 1100.7,933.8 1102.9,933.3 1105.1,932.4 1107.2,931.1 1109.4,929.4 1111.6,927.2 1113.7,924.4 1115.9,921.2 1118.1,917.5 1120.2,913.4 1122.4,909 1124.6,904.6 1126.7,900.3 1128.9,896.4 1131.1,893.2 1133.2,891 1135.4,890.1 1137.6,890.3 1139.7,891.2 1141.9,892.6 1144.1,894.5 1146.2,896.8 1148.4,899.5 1150.6,902.3 1152.7,905.3 1154.9,908.3 1157,911.3 1159.2,914.2 1161.4,917.1 1163.5,919.7 1165.7,922.2 1167.9,924.5 1170,926.6 1172.2,928.4 1174.4,930.1 1176.5,931.6 1178.7,932.8 1180.9,933.9 1183,934.9 1185.2,935.7 1187.4,936.4 1189.5,937 1191.7,937.5 1193.9,937.9 1196,938.2 1198.2,938.5 1200.4,938.7 1202.5,938.9 1204.7,939.1 1206.9,939.3 1209,939.4 1211.2,939.5 1213.4,939.6 1215.5,939.7 1217.7,939.8 1219.9,939.9 1222,940 1224.2,940 1226.4,940.1 1228.5,940.1 1230.7,940.2 1232.9,940.2 1235,940.3 1237.2,940.3 1239.4,940.4 1241.5,940.4 1243.7,940.4 1245.9,940.5 1248,940.5 1250.2,940.5 1252.4,940.6 1254.5,940.6 1256.7,940.6 1258.9,940.6 1261,940.7 1263.2,940.7 1265.3,940.7 1267.5,940.7 1269.7,940.8 1271.8,940.8 1274,940.8 1276.2,940.8 1278.3,940.8 1280.5,940.8 1282.7,940.9 1284.8,940.9 1287,940.9 1289.2,940.9 1291.3,940.9 1293.5,940.9 1295.7,940.9 1297.8,940.9 1300,941 1302.2,941 1304.3,941 1306.5,941 1308.7,941 1310.8,941 1313,941 1315.2,941 1317.3,941 1319.5,941"/><polyline stroke="#ff0000" points="778,940.9 780.2,940.9 782.3,940.9 784.5,940.9 786.7,940.9 788.8,940.9 791,940.9 793.2,940.8 795.3,940.8 797.5,940.8 799.7,940.8 801.8,940.8 804,940.8 806.2,940.8 808.3,940.7 810.5,940.7 812.7,940.7 814.8,940.7 817,940.7 819.2,940.7 821.3,940.6 823.5,940.6 825.7,940.6 827.8,940.6 830,940.5 832.1,940.5 834.3,940.5 836.5,940.5 838.6,940.4 840.8,940.4 843,940.4 845.1,940.3 847.3,940.3 849.5,940.2 851.6,940.2 853.8,940.2 856,940.1 858.1,940.1 860.3,940 862.5,939.9 864.6,939.9 866.8,939.8 869,939.7 871.1,939.6 873.3,939.6 875.5,939.5 877.6,939.4 879.8,939.2 882,939.1 884.1,939 886.3,938.8 888.5,938.6 890.6,938.4 892.8,938.1 895,937.7 897.1,937.3 899.3,936.7 901.5,935.9 903.6,934.9 905.8,933.6 908,931.8 910.1,929.6 912.3,926.8 914.5,923.2 916.6,918.9 918.8,913.8 921,907.9 923.1,901.3 925.3,894 927.5,886.3 929.6,878.5 931.8,870.8 934,863.8 936.1,857.9 938.3,853.6 940.5,851.3 942.6,851.2 944.8,852.7 946.9,855.7 949.1,859.8 951.3,865 953.4,870.8 955.6,877 957.8,883.4 959.9,889.8 962.1,896 964.3,901.8 966.4,907.2 968.6,912.1 970.8,916.4 972.9,920.2 975.1,923.4 977.3,926.1 979.4,928.3 981.6,930 983.8,931.4 985.9,932.4 988.1,933 990.3,933.4 992.4,933.4 994.6,933.1 996.8,932.6 998.9,931.6 1001.1,930.3 1003.3,928.5 1005.4,926.2 1007.6,923.4 1009.8,919.9 1011.9,915.9 1014.1,911.1 1016.3,905.7 1018.4,899.6 1020.6,892.9 1022.8,885.6 1024.9,877.9 1027.1,870 1029.3,862 1031.4,854.2 1033.6,846.7 1035.8,839.8 1037.9,833.9 1040.1,829 1042.3,825.5 1044.4,823.4 1046.6,822.8 1048.8,823.5 1050.9,825.4 1053.1,828.4 1055.2,832.3 1057.4,837 1059.6,842.5 1061.7,848.5 1063.9,854.9 1066.1,861.5 1068.2,868.2 1070.4,874.8 1072.6,881.2 1074.7,887.4 1076.9,893.1 1079.1,898.3 1081.2,903.1 1083.4,907.3 1085.6,911 1087.7,914.1 1089.9,916.6 1092.1,918.6 1094.2,920.1 1096.4,921.1 1098.6,921.6 1100.7,921.6 1102.9,921.1 1105.1,920 1107.2,918.3 1109.4,916.1 1111.6,913.1 1113.7,909.3 1115.9,904.6 1118.1,898.9 1120.2,892.2 1122.4,884.3 1124.6,875.5 1126.7,865.6 1128.9,854.9 1131.1,843.9 1133.2,833.1 1135.4,823.4 1137.6,816.1 1139.7,812 1141.9,811.8 1144.1,815.6 1146.2,822.5 1148.4,831.8 1150.6,842.3 1152.7,853.2 1154.9,863.8 1157,873.8 1159.2,882.8 1161.4,890.9 1163.5,897.9 1165.7,904 1167.9,909.1 1170,913.5 1172.2,917.1 1174.4,920.1 1176.5,922.6 1178.7,924.7 1180.9,926.5 1183,927.9 1185.2,929.1 1187.4,930.2 1189.5,931.1 1191.7,931.9 1193.9,932.6 1196,933.2 1198.2,933.8 1200.4,934.3 1202.5,934.7 1204.7,935.1 1206.9,935.5 1209,935.8 1211.2,936.1 1213.4,936.4 1215.5,936.7 1217.7,936.9 1219.9,937.1 1222,937.3 1224.2,937.5 1226.4,937.7 1228.5,937.9 1230.7,938 1232.9,938.2 1235,938.3 1237.2,938.4 1239.4,938.6 1241.5,938.7 1243.7,938.8 1245.9,938.9 1248,939 1250.2,939.1 1252.4,939.2 1254.5,939.2 1256.7,939.3 1258.9,939.4 1261,939.4 1263.2,939.5 1265.3,939.6 1267.5,939.6 1269.7,939.7 1271.8,939.7 1274,939.8 1276.2,939.8 1278.3,939.9 1280.5,939.9 1282.7,940 1284.8,940 1287,940 1289.2,940.1 1291.3,940.1 1293.5,940.1 1295.7,940.2 1297.8,940.2 1300,940.2 1302.2,940.3 1304.3,940.3 1306.5,940.3 1308.7,940.4 1310.8,940.4 1313,940.4 1315.2,940.4 1317.3,940.4 1319.5,940.5"/><polyline stroke="#0000ff" points="778,940.7 780.2,940.7 782.3,940.7 784.5,940.7 786.7,940.6 788.8,940.6 791,940.6 793.2,940.6 795.3,940.6 797.5,940.6 799.7,940.5 801.8,940.5 804,940.5 806.2,940.5 808.3,940.5 810.5,940.4 812.7,940.4 814.8,940.4 817,940.4 819.2,940.3 821.3,940.3 823.5,940.3 825.7,940.2 827.8,940.2 830,940.2 832.1,940.1 834.3,940.1 836.5,940.1 838.6,940 840.8,940 843,939.9 845.1,939.9 847.3,939.8 849.5,939.8 851.6,939.7 853.8,939.6 856,939.6 858.1,939.5 860.3,939.4 862.5,939.3 864.6,939.2 866.8,939.1 869,939 871.1,938.9 873.3,938.8 875.5,938.7 877.6,938.5 879.8,938.3 882,938.2 884.1,938 886.3,937.7 888.5,937.4 890.6,937.1 892.8,936.7 895,936.2 897.1,935.6 899.3,934.8 901.5,933.7 903.6,932.2 905.8,930.3 908,927.9 910.1,924.7 912.3,920.7 914.5,915.8 916.6,909.7 918.8,902.5 921,894.2 923.1,884.9 925.3,874.6 927.5,863.8 929.6,852.7 931.8,841.9 934,832 936.1,823.7 938.3,817.6 940.5,814.4 942.6,814.3 944.8,816.4 946.9,820.5 949.1,826.4 951.3,833.7 953.4,841.9 955.6,850.7 957.8,859.7 959.9,868.7 962.1,877.4 964.3,885.6 966.4,893.2 968.6,900 970.8,906.1 972.9,911.4 975.1,915.9 977.3,919.7 979.4,922.8 981.6,925.3 983.8,927.2 985.9,928.5 988.1,929.5 990.3,929.9 992.4,930 994.6,929.5 996.8,928.7 998.9,927.3 1001.1,925.3 1003.3,922.7 1005.4,919.3 1007.6,915.2 1009.8,910.2 1011.9,904.2 1014.1,897.3 1016.3,889.3 1018.4,880.4 1020.6,870.6 1022.8,860 1024.9,848.8 1027.1,837.2 1029.3,825.6 1031.4,814.1 1033.6,803.2 1035.8,793.2 1037.9,784.5 1040.1,777.4 1042.3,772.2 1044.4,769.1 1046.6,768.3 1048.8,769.4 1050.9,772.1 1053.1,776.4 1055.2,782.1 1057.4,789.1 1059.6,797.1 1061.7,805.8 1063.9,815.2 1066.1,824.8 1068.2,834.6 1070.4,844.2 1072.6,853.6 1074.7,862.5 1076.9,870.9 1079.1,878.6 1081.2,885.5 1083.4,891.7 1085.6,897 1087.7,901.5 1089.9,905.2 1092.1,908.2 1094.2,910.3 1096.4,911.8 1098.6,912.5 1100.7,912.5 1102.9,911.7 1105.1,910.2 1107.2,907.8 1109.4,904.4 1111.6,900 1113.7,894.5 1115.9,887.6 1118.1,879.3 1120.2,869.5 1122.4,858.1 1124.6,845.1 1126.7,830.7 1128.9,815.1 1131.1,799 1133.2,783.3 1135.4,769.2 1137.6,758.4 1139.7,752.4 1141.9,752.2 1144.1,757.7 1146.2,767.9 1148.4,781.4 1150.6,796.7 1152.7,812.6 1154.9,828.1 1157,842.7 1159.2,855.9 1161.4,867.7 1163.5,877.9 1165.7,886.8 1167.9,894.3 1170,900.7 1172.2,906 1174.4,910.4 1176.5,914 1178.7,917.1 1180.9,919.6 1183,921.7 1185.2,923.5 1187.4,925 1189.5,926.4 1191.7,927.5 1193.9,928.5 1196,929.4 1198.2,930.2 1200.4,931 1202.5,931.6 1204.7,932.2 1206.9,932.8 1209,933.3 1211.2,933.7 1213.4,934.1 1215.5,934.5 1217.7,934.9 1219.9,935.2 1222,935.5 1224.2,935.8 1226.4,936 1228.5,936.3 1230.7,936.5 1232.9,936.7 1235,936.9 1237.2,937.1 1239.4,937.3 1241.5,937.4 1243.7,937.6 1245.9,937.7 1248,937.9 1250.2,938 1252.4,938.1 1254.5,938.2 1256.7,938.3 1258.9,938.4 1261,938.5 1263.2,938.6 1265.3,938.7 1267.5,938.8 1269.7,938.9 1271.8,939 1274,939 1276.2,939.1 1278.3,939.2 1280.5,939.2 1282.7,939.3 1284.8,939.4 1287,939.4 1289.2,939.5 1291.3,939.5 1293.5,939.6 1295.7,939.6 1297.8,939.7 1300,939.7 1302.2,939.8 1304.3,939.8 1306.5,939.8 1308.7,939.9 1310.8,939.9 1313,939.9 1315.2,940 1317.3,940 1319.5,940"/><polyline stroke="#ff00ff" points="778,940.5 780.2,940.5 782.3,940.5 784.5,940.4 786.7,940.4 788.8,940.4 791,940.4 793.2,940.4 795.3,940.3 797.5,940.3 799.7,940.3 801.8,940.3 804,940.2 806.2,940.2 808.3,940.2 810.5,940.2 812.7,940.1 814.8,940.1 817,940.1 819.2,940 821.3,940 823.5,939.9 825.7,939.9 827.8,939.9 830,939.8 832.1,939.8 834.3,939.7 836.5,939.7 838.6,939.6 840.8,939.6 843,939.5 845.1,939.4 847.3,939.4 849.5,939.3 851.6,939.2 853.8,939.1 856,939 858.1,938.9 860.3,938.8 862.5,938.7 864.6,938.6 866.8,938.5 869,938.4 871.1,938.2 873.3,938 875.5,937.9 877.6,937.7 879.8,937.5 882,937.2 884.1,937 886.3,936.7 888.5,936.3 890.6,935.9 892.8,935.4 895,934.8 897.1,933.9 899.3,932.9 901.5,931.5 903.6,929.7 905.8,927.3 908,924.1 910.1,920.1 912.3,915 914.5,908.7 916.6,900.9 918.8,891.8 921,881.2 923.1,869.2 925.3,856.1 927.5,842.3 929.6,828.2 931.8,814.4 934,801.8 936.1,791.2 938.3,783.4 940.5,779.3 942.6,779.1 944.8,781.9 946.9,787.2 949.1,794.7 951.3,803.9 953.4,814.3 955.6,825.6 957.8,837.1 959.9,848.6 962.1,859.7 964.3,870.1 966.4,879.8 968.6,888.6 970.8,896.3 972.9,903.1 975.1,908.8 977.3,913.6 979.4,917.6 981.6,920.7 983.8,923.1 985.9,924.9 988.1,926 990.3,926.6 992.4,926.6 994.6,926.1 996.8,924.9 998.9,923 1001.1,920.5 1003.3,917.1 1005.4,912.7 1007.6,907.3 1009.8,900.7 1011.9,892.9 1014.1,883.9 1016.3,873.5 1018.4,861.9 1020.6,849.1 1022.8,835.2 1024.9,820.6 1027.1,805.5 1029.3,790.2 1031.4,775.3 1033.6,761 1035.8,748 1037.9,736.6 1040.1,727.4 1042.3,720.6 1044.4,716.6 1046.6,715.5 1048.8,716.9 1050.9,720.5 1053.1,726.1 1055.2,733.5 1057.4,742.6 1059.6,753 1061.7,764.5 1063.9,776.6 1066.1,789.2 1068.2,802 1070.4,814.6 1072.6,826.8 1074.7,838.5 1076.9,849.4 1079.1,859.4 1081.2,868.4 1083.4,876.4 1085.6,883.4 1087.7,889.3 1089.9,894.1 1092.1,898 1094.2,900.8 1096.4,902.7 1098.6,903.6 1100.7,903.5 1102.9,902.5 1105.1,900.5 1107.2,897.3 1109.4,892.9 1111.6,887.2 1113.7,879.9 1115.9,870.9 1118.1,860 1120.2,847.2 1122.4,832.2 1124.6,815.2 1126.7,796.2 1128.9,775.8 1131.1,754.7 1133.2,734 1135.4,715.6 1137.6,701.4 1139.7,693.6 1141.9,693.3 1144.1,700.5 1146.2,713.8 1148.4,731.5 1150.6,751.7 1152.7,772.5 1154.9,792.9 1157,811.9 1159.2,829.3 1161.4,844.7 1163.5,858.2 1165.7,869.8 1167.9,879.7 1170,888 1172.2,894.9 1174.4,900.7 1176.5,905.5 1178.7,909.5 1180.9,912.8 1183,915.6 1185.2,917.9 1187.4,920 1189.5,921.7 1191.7,923.2 1193.9,924.5 1196,925.7 1198.2,926.8 1200.4,927.7 1202.5,928.6 1204.7,929.4 1206.9,930.1 1209,930.7 1211.2,931.3 1213.4,931.9 1215.5,932.4 1217.7,932.8 1219.9,933.3 1222,933.7 1224.2,934 1226.4,934.4 1228.5,934.7 1230.7,935 1232.9,935.3 1235,935.5 1237.2,935.8 1239.4,936 1241.5,936.2 1243.7,936.4 1245.9,936.6 1248,936.8 1250.2,936.9 1252.4,937.1 1254.5,937.3 1256.7,937.4 1258.9,937.5 1261,937.7 1263.2,937.8 1265.3,937.9 1267.5,938 1269.7,938.1 1271.8,938.2 1274,938.3 1276.2,938.4 1278.3,938.5 1280.5,938.6 1282.7,938.7 1284.8,938.7 1287,938.8 1289.2,938.9 1291.3,938.9 1293.5,939 1295.7,939.1 1297.8,939.1 1300,939.2 1302.2,939.2 1304.3,939.3 1306.5,939.4 1308.7,939.4 1310.8,939.4 1313,939.5 1315.2,939.5 1317.3,939.6 1319.5,939.6"/><polyline stroke="#ff8000" points="778,940.3 780.2,940.3 782.3,940.3 784.5,940.3 786.7,940.3 788.8,940.2 791,940.2 793.2,940.2 795.3,940.2 797.5,940.1 799.7,940.1 801.8,940.1 804,940 806.2,940 808.3,940 810.5,939.9 812.7,939.9 814.8,939.9 817,939.8 819.2,939.8 821.3,939.7 823.5,939.7 825.7,939.6 827.8,939.6 830,939.5 832.1,939.5 834.3,939.4 836.5,939.4 838.6,939.3 840.8,939.2 843,939.2 845.1,939.1 847.3,939 849.5,938.9 851.6,938.8 853.8,938.7 856,938.6 858.1,938.5 860.3,938.4 862.5,938.3 864.6,938.1 866.8,938 869,937.8 871.1,937.6 873.3,937.5 875.5,937.3 877.6,937 879.8,936.8 882,936.5 884.1,936.2 886.3,935.8 888.5,935.4 890.6,934.9 892.8,934.3 895,933.6 897.1,932.6 899.3,931.4 901.5,929.8 903.6,927.6 905.8,924.8 908,921.1 910.1,916.3 912.3,910.3 914.5,902.9 916.6,893.8 918.8,883 921,870.5 923.1,856.4 925.3,841 927.5,824.7 929.6,808.1 931.8,791.9 934,777.1 936.1,764.6 938.3,755.5 940.5,750.6 942.6,750.4 944.8,753.6 946.9,759.8 949.1,768.7 951.3,779.5 953.4,791.8 955.6,805 957.8,818.6 959.9,832.1 962.1,845.2 964.3,857.5 966.4,868.9 968.6,879.2 970.8,888.3 972.9,896.3 975.1,903.1 977.3,908.8 979.4,913.4 981.6,917.1 983.8,919.9 985.9,922 988.1,923.4 990.3,924 992.4,924.1 994.6,923.4 996.8,922.1 998.9,919.9 1001.1,916.9 1003.3,912.9 1005.4,907.9 1007.6,901.5 1009.8,893.9 1011.9,884.8 1014.1,874.2 1016.3,862.1 1018.4,848.6 1020.6,833.6 1022.8,817.5 1024.9,800.4 1027.1,782.8 1029.3,765 1031.4,747.5 1033.6,730.9 1035.8,715.7 1037.9,702.5 1040.1,691.7 1042.3,683.8 1044.4,679.1 1046.6,677.8 1048.8,679.4 1050.9,683.6 1053.1,690.1 1055.2,698.8 1057.4,709.4 1059.6,721.6 1061.7,734.9 1063.9,749.1 1066.1,763.8 1068.2,778.7 1070.4,793.4 1072.6,807.7 1074.7,821.2 1076.9,834 1079.1,845.6 1081.2,856.2 1083.4,865.6 1085.6,873.7 1087.7,880.5 1089.9,886.2 1092.1,890.7 1094.2,894 1096.4,896.1 1098.6,897.2 1100.7,897.1 1102.9,895.9 1105.1,893.6 1107.2,889.9 1109.4,884.7 1111.6,878 1113.7,869.5 1115.9,858.9 1118.1,846.2 1120.2,831.2 1122.4,813.7 1124.6,793.8 1126.7,771.6 1128.9,747.7 1131.1,723 1133.2,698.8 1135.4,677.3 1137.6,660.7 1139.7,651.6 1141.9,651.3 1144.1,659.6 1146.2,675.2 1148.4,696 1150.6,719.5 1152.7,743.9 1154.9,767.7 1157,790 1159.2,810.3 1161.4,828.3 1163.5,844.1 1165.7,857.7 1167.9,869.2 1170,878.9 1172.2,887 1174.4,893.8 1176.5,899.4 1178.7,904.1 1180.9,907.9 1183,911.2 1185.2,914 1187.4,916.3 1189.5,918.4 1191.7,920.1 1193.9,921.7 1196,923.1 1198.2,924.3 1200.4,925.4 1202.5,926.4 1204.7,927.3 1206.9,928.2 1209,928.9 1211.2,929.6 1213.4,930.2 1215.5,930.8 1217.7,931.4 1219.9,931.9 1222,932.3 1224.2,932.8 1226.4,933.2 1228.5,933.5 1230.7,933.9 1232.9,934.2 1235,934.5 1237.2,934.8 1239.4,935.1 1241.5,935.3 1243.7,935.6 1245.9,935.8 1248,936 1250.2,936.2 1252.4,936.4 1254.5,936.6 1256.7,936.7 1258.9,936.9 1261,937 1263.2,937.2 1265.3,937.3 1267.5,937.4 1269.7,937.6 1271.8,937.7 1274,937.8 1276.2,937.9 1278.3,938 1280.5,938.1 1282.7,938.2 1284.8,938.3 1287,938.4 1289.2,938.5 1291.3,938.5 1293.5,938.6 1295.7,938.7 1297.8,938.7 1300,938.8 1302.2,938.9 1304.3,938.9 1306.5,939 1308.7,939.1 1310.8,939.1 1313,939.2 1315.2,939.2 1317.3,939.3 1319.5,939.3"/><polyline stroke="#008000" points="778,940.2 780.2,940.2 782.3,940.2 784.5,940.1 786.7,940.1 788.8,940.1 791,940.1 793.2,940 795.3,940 797.5,940 799.7,939.9 801.8,939.9 804,939.9 806.2,939.8 808.3,939.8 810.5,939.7 812.7,939.7 814.8,939.7 817,939.6 819.2,939.6 821.3,939.5 823.5,939.5 825.7,939.4 827.8,939.4 830,939.3 832.1,939.2 834.3,939.2 836.5,939.1 838.6,939 840.8,939 843,938.9 845.1,938.8 847.3,938.7 849.5,938.6 851.6,938.5 853.8,938.4 856,938.3 858.1,938.2 860.3,938.1 862.5,937.9 864.6,937.8 866.8,937.6 869,937.4 871.1,937.3 873.3,937.1 875.5,936.9 877.6,936.6 879.8,936.4 882,936.1 884.1,935.8 886.3,935.4 888.5,935 890.6,934.6 892.8,934.1 895,933.4 897.1,932.7 899.3,931.7 901.5,930.4 903.6,928.8 905.8,926.6 908,923.7 910.1,920 912.3,915.1 914.5,908.8 916.6,901 918.8,891.3 921,879.7 923.1,865.9 925.3,850.1 927.5,832.5 929.6,813.5 931.8,793.6 934,773.6 936.1,754.4 938.3,737.4 940.5,723.6 942.6,714.3 944.8,710.5 946.9,711.8 949.1,717 951.3,725.7 953.4,737.3 955.6,751.1 957.8,766.4 959.9,782.6 962.1,799 964.3,815.2 966.4,830.7 968.6,845.2 970.8,858.5 972.9,870.4 975.1,880.9 977.3,889.9 979.4,897.6 981.6,903.9 983.8,908.9 985.9,912.8 988.1,915.7 990.3,917.5 992.4,918.4 994.6,918.4 996.8,917.4 998.9,915.5 1001.1,912.5 1003.3,908.3 1005.4,902.9 1007.6,896 1009.8,887.7 1011.9,877.7 1014.1,866 1016.3,852.6 1018.4,837.6 1020.6,821.1 1022.8,803.2 1024.9,784.3 1027.1,764.8 1029.3,745 1031.4,725.7 1033.6,707.3 1035.8,690.4 1037.9,675.7 1040.1,663.7 1042.3,655 1044.4,649.8 1046.6,648.4 1048.8,650.2 1050.9,654.9 1053.1,662.1 1055.2,671.8 1057.4,683.6 1059.6,697.1 1061.7,711.9 1063.9,727.7 1066.1,744.1 1068.2,760.6 1070.4,776.9 1072.6,792.8 1074.7,807.9 1076.9,822 1079.1,835 1081.2,846.7 1083.4,857.1 1085.6,866.1 1087.7,873.8 1089.9,880 1092.1,885 1094.2,888.7 1096.4,891.1 1098.6,892.3 1100.7,892.3 1102.9,891 1105.1,888.3 1107.2,884.3 1109.4,878.6 1111.6,871.2 1113.7,861.7 1115.9,850.1 1118.1,836 1120.2,819.4 1122.4,800.1 1124.6,778 1126.7,753.6 1128.9,727.2 1131.1,699.8 1133.2,673.1 1135.4,649.2 1137.6,630.9 1139.7,620.8 1141.9,620.5 1144.1,629.7 1146.2,647 1148.4,669.9 1150.6,695.9 1152.7,722.9 1154.9,749.2 1157,773.9 1159.2,796.3 1161.4,816.3 1163.5,833.7 1165.7,848.7 1167.9,861.5 1170,872.3 1172.2,881.2 1174.4,888.7 1176.5,894.9 1178.7,900.1 1180.9,904.4 1183,908 1185.2,911 1187.4,913.6 1189.5,915.9 1191.7,917.8 1193.9,919.5 1196,921.1 1198.2,922.4 1200.4,923.7 1202.5,924.8 1204.7,925.8 1206.9,926.7 1209,927.6 1211.2,928.3 1213.4,929 1215.5,929.7 1217.7,930.3 1219.9,930.8 1222,931.3 1224.2,931.8 1226.4,932.3 1228.5,932.7 1230.7,933.1 1232.9,933.4 1235,933.8 1237.2,934.1 1239.4,934.4 1241.5,934.6 1243.7,934.9 1245.9,935.2 1248,935.4 1250.2,935.6 1252.4,935.8 1254.5,936 1256.7,936.2 1258.9,936.4 1261,936.5 1263.2,936.7 1265.3,936.9 1267.5,937 1269.7,937.1 1271.8,937.3 1274,937.4 1276.2,937.5 1278.3,937.6 1280.5,937.7 1282.7,937.8 1284.8,937.9 1287,938 1289.2,938.1 1291.3,938.2 1293.5,938.3 1295.7,938.4 1297.8,938.4 1300,938.5 1302.2,938.6 1304.3,938.7 1306.5,938.7 1308.7,938.8 1310.8,938.9 1313,938.9 1315.2,939 1317.3,939 1319.5,939.1"/></g>
<line x1="1167.6" y1="609.4" x2="1220.6" y2="609.4" stroke="#000000" stroke-width="3" stroke-linecap="round"/>
<text font-family="Liberation Sans, sans-serif" font-size="24.8" transform="translate(1227.4 617.7) scale(1 1.05)">20 mA</text>
<line x1="1167.6" y1="639.4" x2="1220.6" y2="639.4" stroke="#ff0000" stroke-width="3" stroke-linecap="round"/>
<text font-family="Liberation Sans, sans-serif" font-size="24.8" transform="translate(1227.4 647.7) scale(1 1.05)">60 mA</text>
<line x1="1167.6" y1="669.4" x2="1220.6" y2="669.4" stroke="#0000ff" stroke-width="3" stroke-linecap="round"/>
<text font-family="Liberation Sans, sans-serif" font-size="24.8" transform="translate(1227.4 677.7) scale(1 1.05)">100 mA</text>
<line x1="1167.6" y1="699.5" x2="1220.6" y2="699.5" stroke="#ff00ff" stroke-width="3" stroke-linecap="round"/>
<text font-family="Liberation Sans, sans-serif" font-size="24.8" transform="translate(1227.4 707.8) scale(1 1.05)">150 mA</text>
<line x1="1167.6" y1="729.5" x2="1220.6" y2="729.5" stroke="#ff8000" stroke-width="3" stroke-linecap="round"/>
<text font-family="Liberation Sans, sans-serif" font-size="24.8" transform="translate(1227.4 737.8) scale(1 1.05)">200 mA</text>
<line x1="1167.6" y1="759.5" x2="1220.6" y2="759.5" stroke="#008000" stroke-width="3" stroke-linecap="round"/>
<text font-family="Liberation Sans, sans-serif" font-size="24.8" transform="translate(1227.4 767.8) scale(1 1.05)">300 mA</text>
<rect x="777.8" y="590.3" width="542.7" height="401.1" fill="none" stroke="#000" stroke-width="3" stroke-linejoin="round"/>
<path d="M778 991.4v-14 M886.3 991.4v-14 M994.6 991.4v-14 M1102.9 991.4v-14 M1211.2 991.4v-14 M1319.5 991.4v-14 M832.1 991.4v-7.5 M940.5 991.4v-7.5 M1048.8 991.4v-7.5 M1157 991.4v-7.5 M1265.3 991.4v-7.5" stroke="#000" stroke-width="3" fill="none"/>
<g font-family="Liberation Sans, sans-serif" font-size="29.2" text-anchor="middle">
<text transform="translate(777.2 1026.3) scale(1 1.065)">300</text>
<text transform="translate(885.5 1026.3) scale(1 1.065)">400</text>
<text transform="translate(993.8 1026.3) scale(1 1.065)">500</text>
<text transform="translate(1102.1 1026.3) scale(1 1.065)">600</text>
<text transform="translate(1210.4 1026.3) scale(1 1.065)">700</text>
<text transform="translate(1318.7 1026.3) scale(1 1.065)">800</text>
</g>
<text font-family="Liberation Sans, sans-serif" font-size="30.3" transform="translate(934.9 1072.4) scale(1 1.035)">Wavelength (nm)</text>
<text font-family="Liberation Sans, sans-serif" font-size="30" transform="translate(755.4 927.3) rotate(-90) scale(1 1.035)">EL Intensity (a.u.)</text>
<g clip-path="url(#inclip)"><g filter="url(#ib)"><rect x="776" y="588.6" width="151.70000000000005" height="146.5" fill="url(#inbg)"/><circle cx="851" cy="664" r="76" fill="#0a0b0d"/><circle cx="851" cy="664" r="71.5" fill="none" stroke="#34373c" stroke-width="2"/><circle cx="851" cy="663" r="65" fill="url(#disc)"/><circle cx="810.2" cy="633.1" r="6.8" fill="#8a8a88"/><circle cx="810.2" cy="633.1" r="5.4" fill="#2a2c36"/><circle cx="810.2" cy="633.1" r="2" fill="#15161c"/><circle cx="888.4" cy="627.3" r="6.8" fill="#8a8a88"/><circle cx="888.4" cy="627.3" r="5.4" fill="#2a2c36"/><circle cx="888.4" cy="627.3" r="2" fill="#15161c"/><circle cx="813.8" cy="695.5" r="6.8" fill="#8a8a88"/><circle cx="813.8" cy="695.5" r="5.4" fill="#2a2c36"/><circle cx="813.8" cy="695.5" r="2" fill="#15161c"/><circle cx="893.4" cy="690.4" r="6.8" fill="#8a8a88"/><circle cx="893.4" cy="690.4" r="5.4" fill="#2a2c36"/><circle cx="893.4" cy="690.4" r="2" fill="#15161c"/><rect x="826" y="627" width="50" height="71" rx="4" fill="#f8b8c8" filter="url(#ib2)"/><g transform="rotate(-2.5 851 663)"><rect x="799.5" y="650.5" width="103" height="26" rx="3" fill="#c860c8"/><rect x="801.5" y="652.5" width="99" height="22" rx="2" fill="#dc98dc"/><rect x="818" y="655" width="66" height="16" fill="#e8b4e8"/><rect x="801" y="652.5" width="18" height="22" rx="2" fill="#3e3432"/><rect x="804" y="655" width="12" height="17" fill="#6a5a52"/><rect x="884.5" y="651" width="16.5" height="22" rx="2" fill="#3e3432"/><rect x="887.5" y="653.5" width="11" height="17" fill="#6a5a52"/></g><rect x="829" y="629" width="44.5" height="66.5" rx="3" fill="#f2b4b8"/><rect x="831" y="631" width="40.5" height="62.5" fill="url(#chipg)"/><path d="M833 633 h10 v6 h-10z" fill="#ffe060" opacity="0.8" filter="url(#ib2)"/><path d="M833 682 q18 10 37 -2 v10 h-37z" fill="#ffd830" opacity="0.85" filter="url(#ib2)"/><ellipse cx="851" cy="662" rx="17" ry="24" fill="#ffffff" filter="url(#ib3)"/></g></g>
<g font-family="Liberation Sans, sans-serif" font-size="48" font-weight="bold">
<text x="-0.9" y="37">(a)</text><text x="642.8" y="37">(b)</text>
<text x="-0.9" y="602.2">(c)</text><text x="641.6" y="604.2">(d)</text></g>
</svg>
</body></html>
